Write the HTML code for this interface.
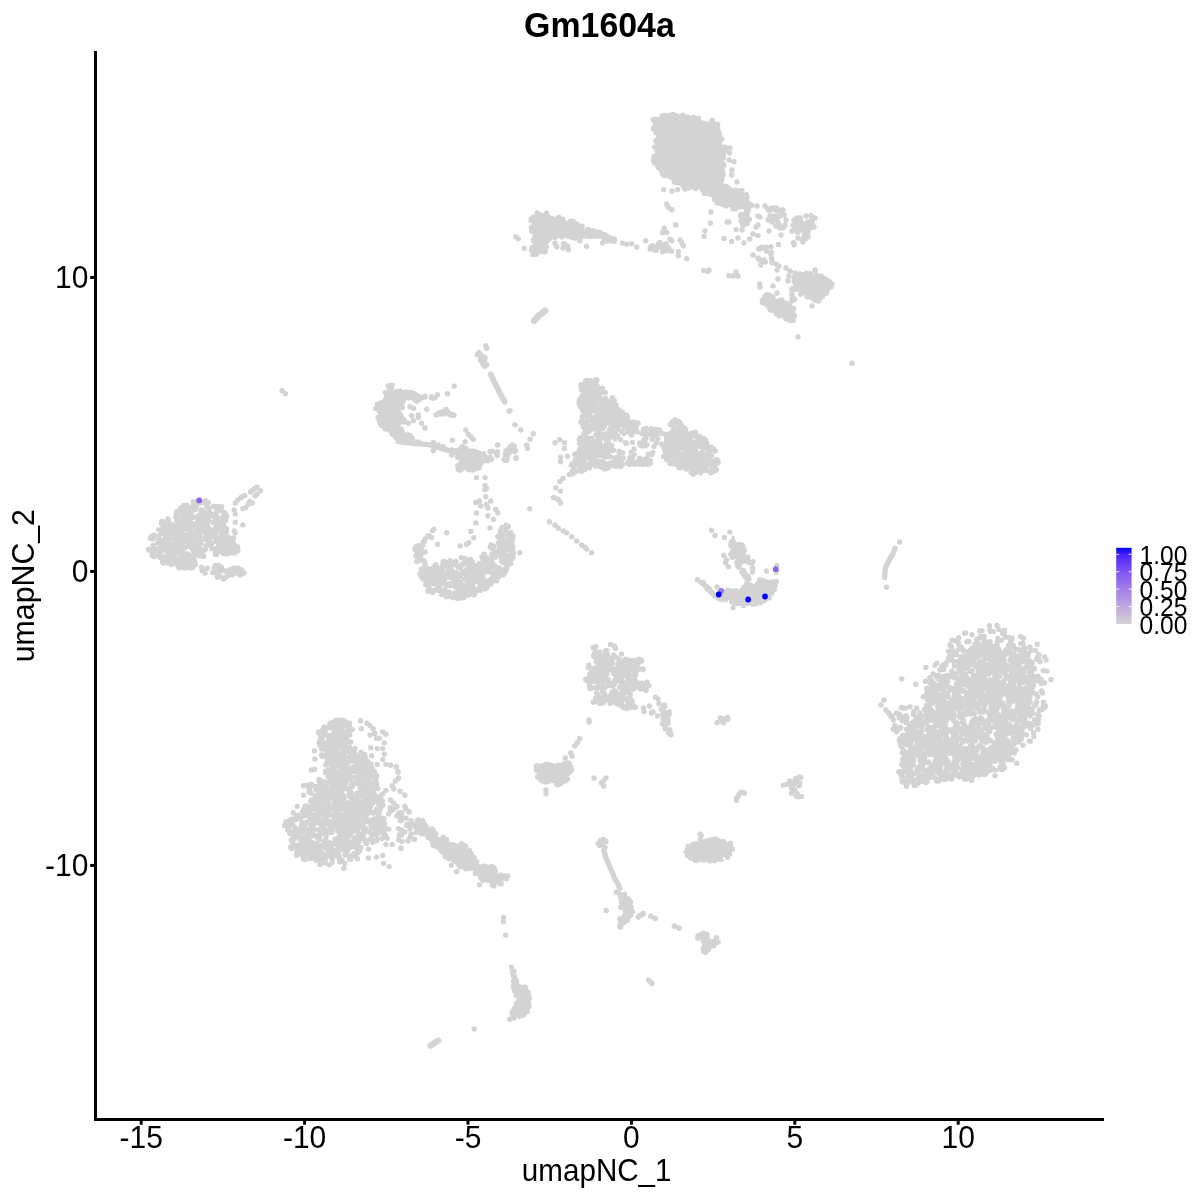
<!DOCTYPE html>
<html><head><meta charset="utf-8"><title>Gm1604a</title><style>
html,body{margin:0;padding:0;background:#fff;}
svg{display:block;}
text{font-family:"Liberation Sans",Arial,Helvetica,sans-serif;fill:#000;}
</style></head><body>
<svg width="1200" height="1200" viewBox="0 0 1200 1200">
<defs><linearGradient id="lg" x1="0" y1="1" x2="0" y2="0"><stop offset="0.0" stop-color="#d3d3d3"/><stop offset="0.1" stop-color="#cac0d9"/><stop offset="0.2" stop-color="#c1aede"/><stop offset="0.3" stop-color="#b69ce3"/><stop offset="0.4" stop-color="#aa89e7"/><stop offset="0.5" stop-color="#9d77ec"/><stop offset="0.6" stop-color="#8e65f0"/><stop offset="0.7" stop-color="#7c51f4"/><stop offset="0.8" stop-color="#673df8"/><stop offset="0.9" stop-color="#4926fb"/><stop offset="1.0" stop-color="#0000ff"/></linearGradient></defs>
<rect width="1200" height="1200" fill="#fff"/>
<path fill="none" stroke="#d3d3d3" stroke-width="5.4" stroke-linecap="round" d="M632.2 458.9h0M587.3 399.7h0M590.3 389.4h0M614.9 457.9h0M595.8 434.9h0M615.7 435.3h0M687.4 446.4h0M605.2 434.2h0M631.2 452.1h0M591.5 425.8h0M683 434h0M672.6 436.1h0M694.2 470.5h0M639.6 443h0M626.4 443.4h0M593.9 389.3h0M577.6 453.2h0M588.1 402.1h0M627.2 463.3h0M580.8 421.9h0M691.1 462.6h0M610.4 418.6h0M622.4 464.5h0M595.1 400.6h0M603.6 425.4h0M623.9 433.4h0M645.8 438.4h0M703.1 454.3h0M699.4 456.1h0M627.4 417h0M584.3 440h0M600 393.8h0M584 413.5h0M572.6 463.6h0M606.5 411.9h0M581.6 387.9h0M572.3 471.1h0M697.7 446.1h0M607.8 413.8h0M593.7 453.5h0M648.3 454.2h0M696.1 456.9h0M691 450.4h0M602.7 428.6h0M607.5 445.7h0M601.7 400.1h0M598.2 397.9h0M666.3 456.2h0M581.5 442.6h0M704.6 454.5h0M680.8 424.7h0M595.5 455.2h0M618.4 456.4h0M587.8 392.7h0M703.9 456.9h0M590.6 458.9h0M621.1 431.6h0M633.6 463.3h0M606.4 406.6h0M604.7 435.3h0M607.5 418.9h0M588.4 467.1h0M621.6 422.8h0M643.7 430h0M594.5 424.3h0M677.1 432.4h0M617.5 428.7h0M651.7 454.7h0M584.6 432.8h0M605.9 405h0M684.1 427.6h0M652.7 452.4h0M645.3 445.8h0M636.3 430.1h0M673.2 463.8h0M587 421.2h0M579.6 401.4h0M579.7 443.5h0M685.8 465.8h0M591.9 448.1h0M700.6 472.7h0M628.3 425.6h0M716.6 459.5h0M592.9 420.2h0M598 409.1h0M584.4 403.9h0M574.7 454.2h0M654 446.5h0M579.6 469.8h0M663.5 456.4h0M581.3 461.8h0M578.7 462.4h0M585.1 393.7h0M615.4 407.7h0M678.3 431.9h0M597.1 424.4h0M642.7 459.7h0M627.5 427.5h0M620 459.4h0M674.3 440.2h0M579.4 450.5h0M581.4 460.3h0M698.8 443.6h0M610.9 401.6h0M612.6 422.9h0M592.3 421.6h0M615 412.8h0M598.8 427.3h0M582.2 417h0M614.2 400.7h0M656.2 429.7h0M680.9 442.3h0M675.7 464h0M676.9 440.9h0M575.3 459.7h0M702 439.4h0M678.4 457.5h0M589.6 429.2h0M644.1 459.7h0M688.9 458.9h0M670.8 445.8h0M588.7 413.2h0M584.5 459.8h0M652.2 439.4h0M662.3 444.6h0M687.9 451.2h0M643.9 430.3h0M579.9 403.9h0M640.3 444.9h0M683.3 438.3h0M590.8 402.7h0M669.1 445.7h0M714.8 469.6h0M691.2 472.8h0M600.3 434.9h0M590 429.2h0M701.2 446.8h0M603.3 465.9h0M589.8 411.6h0M616 460.2h0M707.1 447.8h0M624.4 416.4h0M622.7 419.8h0M584 459.7h0M606 403.9h0M700.8 457.5h0M678.1 422h0M681.2 441h0M613.3 450.3h0M593.8 393.7h0M597.5 386.7h0M604.5 403.2h0M630.6 429.2h0M644 439.6h0M609.3 402.2h0M628.5 421.6h0M711.2 461.1h0M692.1 461.7h0M585.1 393h0M646.8 444.7h0M709.4 448.6h0M665.5 452.8h0M637.1 431.9h0M574.7 454.5h0M603.5 468h0M587.9 402.5h0M663.8 446.3h0M585.5 384.7h0M647.1 435h0M613.8 423h0M603.9 402.1h0M643.2 444h0M619.3 419.1h0M687.8 450.3h0M601.9 452.4h0M602.1 418.7h0M590.7 416.4h0M590 382.9h0M702.9 464.5h0M610.6 412.3h0M622 458.4h0M597.6 413.6h0M630.1 457.4h0M680.4 465.9h0M607.9 448.1h0M616.1 404.9h0M705.6 440h0M603.7 424.4h0M711.6 471.4h0M633 426.2h0M688.6 450.2h0M691.6 453.6h0M616.5 413.3h0M598.3 451.7h0M583.2 426.7h0M674.8 421.7h0M603.8 418.7h0M661.4 443.9h0M680.5 460.9h0M605.7 401.9h0M591.7 464.5h0M689.5 441.9h0M639.7 458.2h0M694.3 467.5h0M586.6 396.4h0M607.6 454.1h0M657.8 438.6h0M601.3 414h0M589.9 397.8h0M606.9 436.6h0M627.8 431.8h0M593.2 446h0M615.4 433.4h0M622.1 418.7h0M632.1 458.3h0M629.5 464.4h0M582.1 438.8h0M624.2 427.3h0M590.6 405.6h0M585 425.9h0M598.3 390.3h0M703.8 438.7h0M629.2 460.8h0M601.4 417h0M587.2 402.1h0M658.3 431.8h0M631.5 435h0M632.4 442.4h0M682.8 454.3h0M588 420.1h0M582.5 421.2h0M678.3 454.1h0M678.1 457.8h0M686.5 469.1h0M599.9 403.6h0M594 454.8h0M586 429.9h0M622.6 452.8h0M656.3 442.9h0M588.5 400.1h0M584.7 412.9h0M602.3 435.1h0M605.2 392.5h0M583.1 440.4h0M698.9 454.5h0M708.7 449.8h0M605.9 466.4h0M577.5 454.2h0M598.6 437.5h0M644.5 440.7h0M615 407.3h0M576 465h0M685.7 448h0M680.1 423.5h0M679.5 422.2h0M602.5 388.2h0M618.9 451.3h0M672.6 460.7h0M608.4 440.8h0M607.7 401h0M604.5 466.8h0M663 445.8h0M638.9 460.2h0M673 461.9h0M634.1 448.9h0M600.4 438.9h0M580.4 467.1h0M590.4 380.5h0M584.7 468.9h0M672.2 440h0M672.9 450.1h0M623.1 458h0M691.2 465.2h0M578.6 462.9h0M705.3 470.4h0M584.8 398h0M585.5 381.2h0M695.4 457.5h0M583.7 387.4h0M616.5 419.4h0M611 448h0M944.4 676h0M1045.5 706.1h0M1026.4 724.9h0M956 750.3h0M940.8 739h0M973.2 658.9h0M1021.1 651.4h0M965.4 754.2h0M940.9 759.9h0M926.2 778.3h0M1000.7 705.2h0M900.7 727.9h0M1000.3 752.5h0M988.5 681.8h0M950.1 688.2h0M1034.9 705.6h0M946.3 768.5h0M972.2 747.2h0M1009.7 729.5h0M941.1 677h0M908.4 761.8h0M994.3 745.2h0M1013.2 718.4h0M1032.1 662.4h0M1001.3 761.9h0M970.6 649.8h0M1006.4 694.8h0M915.3 728.1h0M949.7 753.2h0M999.6 705.5h0M989.3 699.4h0M906.1 722.5h0M950.7 745h0M1036 694h0M979.4 746.3h0M953.4 660.9h0M1004.5 767.8h0M1013.3 738.3h0M1026.6 734.9h0M990.8 697.9h0M935.1 726.5h0M1014.7 740.4h0M988.8 664.4h0M953.9 698.1h0M987.4 690.6h0M913.1 730.8h0M1014 687.2h0M888.5 712.6h0M909.3 751.7h0M1041.6 708.6h0M899.2 717.7h0M973.8 741.1h0M968.9 728.3h0M1022.6 709h0M951.6 779h0M917.6 735.7h0M948.6 748.6h0M928.5 689h0M953.3 738h0M941.7 666.9h0M920.1 745.1h0M1041.4 709.9h0M919.1 754.9h0M948.5 658.2h0M903.9 750.8h0M1019.3 727.5h0M961.6 715.6h0M920.3 781.6h0M941.9 728.2h0M961.4 671.7h0M975 643.9h0M1023.4 681.6h0M1026.3 667.3h0M945.8 665h0M954.3 653.9h0M933.2 702.1h0M954.7 728h0M993.8 682.9h0M905.8 759.8h0M989.4 625.8h0M993.3 664.4h0M921.6 750.8h0M910.5 769.6h0M985.2 751.6h0M995.4 770.1h0M915.5 737.1h0M972 745.2h0M956.4 768.3h0M976.2 666.8h0M965.6 633h0M961.2 647.1h0M965.4 705.1h0M973.5 765h0M961.4 715.7h0M994.9 761.3h0M945.6 692.1h0M990.1 727.8h0M968.6 702.9h0M1003.8 726h0M939.4 764.8h0M944.1 701.3h0M971.2 749.9h0M953.7 714.3h0M1022.2 671.5h0M1022.4 689.6h0M967.5 668h0M993 753.4h0M938.1 675.4h0M932.8 719.6h0M989.7 752.1h0M1032.2 712.9h0M1038.3 723.3h0M993.6 752.9h0M1036.3 723.8h0M986.6 726.3h0M1000.1 721.3h0M997.5 658.3h0M995.1 698.5h0M1011.4 640h0M993.2 683.9h0M977.4 665.7h0M933.2 692.6h0M936 694.1h0M891.3 716.5h0M1019.5 717.8h0M1037.8 696.7h0M952 640.1h0M991.3 658.2h0M902.7 782h0M1004 663.2h0M1006.4 654.1h0M1003 763.8h0M1005.8 637.2h0M988.6 739.8h0M960.1 776.4h0M925.1 781.7h0M1020.6 636.5h0M934.8 743.1h0M910.2 764.7h0M964.5 633.2h0M944.4 717.8h0M956.4 734.5h0M906.6 754.3h0M943.6 729.2h0M988.8 692h0M947.4 752.4h0M978.2 671.4h0M1001.3 759.2h0M938.3 722.8h0M984 674h0M954.7 769.1h0M945.9 735.8h0M984.1 770.5h0M1019 669.9h0M953.7 719.7h0M979 668.3h0M975.9 754.3h0M916 746.5h0M1040 661.8h0M985 734.6h0M960.9 657.3h0M925.2 746.7h0M1016.3 698.8h0M1013 661.6h0M980.3 770.6h0M1032.1 709h0M962.9 720.1h0M912.7 738.4h0M943.6 716h0M950.3 708.3h0M900 727.2h0M1015.6 649h0M983.3 680h0M1028.9 703.2h0M978.2 666.3h0M1014.2 693.3h0M976.6 766.3h0M983.5 688.6h0M902.4 780.8h0M925.6 716h0M995.6 687.9h0M958.1 649.6h0M925.4 681.2h0M1015.4 739.8h0M996.8 672.4h0M982.3 747.8h0M963.7 651.1h0M997 625.5h0M1003.7 655.4h0M919.4 776.7h0M1024.9 726.5h0M958.7 679.2h0M1021.6 701.8h0M988.6 646.8h0M1003.1 714.2h0M906.6 766.3h0M927.2 691h0M1024.4 678.3h0M936 771.6h0M995.4 658h0M963 670.4h0M1005.2 671.6h0M1018.9 679.3h0M1023.2 709.8h0M1036.7 659.2h0M978.9 646.1h0M912.6 749.8h0M1002.7 655.7h0M985.2 704.7h0M985.9 739.5h0M1019.7 719.1h0M1006.3 690.4h0M1004.4 632.5h0M1019.5 678.4h0M1036.4 701.6h0M1029.9 667.1h0M913.6 759.9h0M945 721h0M957.6 708h0M902.5 740.7h0M936.5 740.1h0M946.7 746.7h0M1043.8 704.6h0M969.1 710.5h0M1046.1 660.1h0M924.5 757.5h0M1000.6 655.4h0M979.8 709.2h0M1001.2 640.3h0M1029.5 741.1h0M965.7 705.6h0M950.8 645.9h0M982.4 764.7h0M907 717.4h0M1008.6 650.4h0M948 692.4h0M1024.4 709.7h0M949.1 777.9h0M1013.8 679h0M989.3 683.2h0M972 634.8h0M955.5 706.2h0M990.8 667h0M997.1 668.3h0M974 775.1h0M987.4 664.5h0M970.3 694.6h0M1043.3 670.6h0M933.8 729.7h0M902.4 720.9h0M1044.2 707.7h0M927.5 699.9h0M972.6 647.7h0M931.8 690.1h0M896.9 713.1h0M1024.4 723.5h0M978.7 730.1h0M916.1 740h0M960.2 713.3h0M986 700.4h0M947 719.5h0M1028.2 662.5h0M976.4 704h0M932.1 750.1h0M1029.8 695.6h0M956.6 744.1h0M941.8 734.2h0M986.5 762.9h0M1021.3 708.4h0M1007.3 745.4h0M1010.9 701.4h0M1015.2 739.7h0M1037.2 644.3h0M1011.9 719.5h0M979 692h0M985 685.7h0M958.7 698.5h0M1004.7 671.5h0M948.3 714.5h0M947.2 676.2h0M966.7 696.3h0M906.6 717.8h0M980.7 637.8h0M1038.1 676.5h0M1044.6 656.9h0M954.3 772.8h0M977.8 705h0M969.8 708.3h0M998.2 687.3h0M942.7 721h0M941.6 779h0M996.8 709.6h0M950 715.5h0M979.4 767.8h0M956.7 725.9h0M1051 679.7h0M971.9 757.3h0M969 641.5h0M1033.7 736.6h0M1032.7 692.5h0M968.8 706.3h0M988.9 722.4h0M990 630.3h0M951.8 752.7h0M934 736.7h0M1024.9 719.6h0M995.3 655.7h0M966.5 714.2h0M927.1 729.5h0M979.5 690.9h0M1010.8 640.9h0M970.6 758.5h0M986 755.8h0M1012.7 676.4h0M1003.4 681.5h0M898.9 771.7h0M980.8 680.6h0M958.3 686.7h0M956.6 725.2h0M935.4 770.9h0M1020.4 673.2h0M966.1 779.3h0M1003.9 659.7h0M934.5 767h0M964.2 753.5h0M1046.8 671.1h0M977.3 642.2h0M972.5 686.7h0M902.9 758.9h0M994.7 679.4h0M908.5 739.2h0M957.2 760.6h0M1018.5 649.5h0M941.9 742h0M917.3 779.5h0M967.6 660.7h0M958.8 644.9h0M1001.8 666.2h0M1034.6 719.8h0M985.2 658.3h0M969 712.4h0M927.9 750h0M947.3 731.3h0M978.3 674.4h0M912 763.1h0M936.5 732.2h0M900.5 715.6h0M943.3 705.5h0M903.4 741h0M929.9 689.6h0M994.6 681.1h0M952 731.6h0M1000.6 664.2h0M1025.6 681.2h0M988.7 653.2h0M901.6 773.2h0M1006.5 740.3h0M933.4 685.9h0M990.3 652.9h0M1024.4 717h0M1003.6 665.2h0M955.8 735.7h0M1026.9 723.1h0M917.7 773.5h0M1009.1 637.5h0M999.8 688h0M1008.8 759.4h0M1042.5 693h0M1007.3 759.6h0M988.5 697.7h0M954.7 707.4h0M1001.2 755.6h0M926.3 713.1h0M974.3 664.4h0M951.8 656.4h0M1001.9 733.4h0M969.4 696.4h0M1040.7 681.1h0M932.8 768.6h0M906.1 715.8h0M938.6 757.2h0M975 748.2h0M910.7 732.8h0M983.6 699.1h0M1012 759.8h0M915.4 738.5h0M958 641.9h0M937 700.3h0M955.7 654.5h0M1038 729.2h0M992.7 664.7h0M1024.4 672h0M913.5 728.1h0M910.6 752.2h0M1022.9 745.2h0M1022 675.9h0M944.5 713.8h0M944.6 759.8h0M978.2 726.5h0M1021.1 739.2h0M965.9 705.4h0M980.6 636.6h0M998.7 650.2h0M956.6 654.7h0M1015.5 693.2h0M930.1 732h0M969.3 692.5h0M939.5 695.4h0M995 759h0M1035.3 650.4h0M932.2 696.1h0M977.6 680.5h0M936.9 699h0M996.7 723.4h0M932.4 717.1h0M1043.6 702.3h0M991.8 672.5h0M940.3 768.7h0M997.1 696.8h0M896.5 731.8h0M945.1 718.7h0M952.6 710.4h0M977.8 688.4h0M1033 713.3h0M972 664.7h0M965 714.3h0M920.4 717.4h0M901.2 707.6h0M981.8 636.6h0M956.6 765.1h0M975.4 740.7h0M1010.4 642.2h0M948.5 651.5h0M1013.5 645.8h0M1002 693.3h0M1032.7 725.3h0M1029.9 715.8h0M910.5 745.7h0M939.9 748.7h0M997.4 758.9h0M1004.4 630.5h0M984.4 639.7h0M975.1 755.2h0M901.2 775.3h0M996.5 665.2h0M1024.2 718.8h0M913.4 714.4h0M931.2 736.2h0M1030.5 711.8h0M999 756h0M967.1 766.7h0M912.9 757.7h0M997.3 687.8h0M962.7 649.4h0M1025.4 688h0M1030.1 723.6h0M918.7 770.1h0M982 630.6h0M961.4 718.1h0M947.8 681.4h0M995.8 668.1h0M928.4 705.4h0M926.5 716.8h0M971.6 780.4h0M977.1 749.9h0M989.4 727.5h0M943.6 669.6h0M933.6 748.7h0M1007.5 706.9h0M989.8 680.9h0M975.4 690h0M963.7 683.7h0M958.9 696.5h0M978.5 673h0M933.2 674h0M1005.3 713.9h0M1041 679.3h0M1038.3 719.1h0M942.6 750.5h0M954.7 765.9h0M1034.5 668.7h0M1001.5 659.2h0M949.8 656.3h0M984.3 765.2h0M991.9 655.7h0M984 636.4h0M913.9 711.5h0M1030.5 728.4h0M1038.6 658.2h0M937.4 746.4h0M992.1 689.9h0M997.2 678.8h0M938.8 704.5h0M983.4 665.6h0M1039 716h0M986.2 742.2h0M1012.1 638.1h0M1020.1 692.8h0M973.4 720h0M976.1 731.3h0M984 677.7h0M1007.7 665.7h0M1002.7 748.7h0M1013.6 674.1h0M958.9 669.1h0M970.8 777.8h0M962.7 730.9h0M1013.3 682.9h0M1010.3 638.1h0M976.2 653.2h0M1041.4 683.4h0M1014 663.2h0M989.9 679.9h0M1017.8 698.9h0M936.9 771.7h0M900.3 743.8h0M893.1 729.3h0M950.2 765.2h0M892.2 716h0M951.5 774.2h0M926.5 694.6h0M1010.8 728.9h0M918.8 716.9h0M908.6 765h0M1029.5 667.3h0M1009.5 758.4h0M929.9 677.8h0M964.4 769.6h0M909.4 735.4h0M983.4 697.7h0M980.3 768.3h0M917.6 768.4h0M943.1 751.4h0M1028.5 653.3h0M907.6 744.2h0M997.8 638.2h0M939.6 774.1h0M1003.5 768.1h0M921.8 753.4h0M999 629.6h0M967.6 661.4h0M955 640.6h0M935.7 767.6h0M912.4 735.9h0M907.1 744.5h0M966.9 641.8h0M942 704.8h0M1037.8 680.7h0M918.5 782.2h0M951.2 714.7h0M998.7 730.6h0M974.3 713.5h0M1030.3 741.2h0M949.7 675.6h0M947.7 686.6h0M951.6 646.9h0M925.2 723.7h0M946 662.9h0M999.8 676.6h0M991.6 713.5h0M1026.8 707.1h0M921.8 726.7h0M1008.1 685.6h0M1002.8 688h0M971.3 724h0M996.9 676.3h0M988.7 712.5h0M919.9 723.9h0M926.9 772.5h0M962.3 741.8h0M970.6 701.6h0M1039.3 710.2h0M970.9 710h0M1020 662.6h0M911.2 758.3h0M960.1 728.5h0M946.7 760h0M1020.7 643.6h0M1018.3 709h0M958.8 637.8h0M999.9 697.1h0M963.1 754.4h0M1010.7 648h0M997.4 683.6h0M970.3 662.4h0M944.9 679.2h0M916.1 717h0M1003.8 668.5h0M937 663.1h0M1023.5 638.4h0M989.9 764.3h0M1016.4 724.8h0M957.1 683.6h0M1002.9 671.8h0M951.2 729.8h0M1019.5 681.2h0M947.4 718.4h0M1038.9 654.8h0M945.2 732.6h0M1010.3 685.7h0M971.2 704.9h0M960.5 699.2h0M1024.4 691.5h0M962.3 769.5h0M956.6 704h0M968.8 758.7h0M995.7 744.9h0M997.3 714.3h0M1012.5 749.7h0M1009.8 716h0M1002.6 702.6h0M952.9 719.2h0M1029.9 647.3h0M938.7 708.4h0M935.1 665.2h0M1027.7 714.6h0M968.7 692.4h0M1027.3 665.6h0M973.1 684.7h0M960.8 703.6h0M981 683.4h0M1018 656.3h0M1038 714.7h0M972.4 690.5h0M977.8 676.5h0M928.4 754h0M931.5 740h0M1018.1 720.6h0M959.1 776.8h0M957.5 767.5h0M990.4 631.4h0M983.2 653h0M1038.5 715.5h0M1017.8 705.2h0M996.3 734.2h0M1024.2 647.3h0M1037.7 657.3h0M952.4 731.5h0M925.7 772.1h0M998.4 648.8h0M980.7 675.7h0M977.1 648.7h0M1036.7 676.6h0M1024.7 648.3h0M946.5 728.6h0M919.9 713h0M1005.5 693.9h0M997.2 642.2h0M1022.5 643.4h0M1041.4 709.8h0M931.3 680.5h0M1009.3 704.9h0M964.2 765.2h0M983.4 712.1h0M928 770h0M1025.4 660.7h0M940.4 778.4h0M993.4 631.6h0M938.5 697.2h0M924 745.2h0M912.4 752.7h0M976.9 639.1h0M975.6 752.7h0M983 699.1h0M898.5 729.5h0M904.4 718.2h0M941.9 684.9h0M994.5 650.3h0M910.8 777.9h0M938.3 761.6h0M1030.2 702.2h0M966.2 711.4h0M968 683.6h0M922.7 766.4h0M967.1 769.6h0M964.9 753.2h0M978.8 736.5h0M920.9 746.5h0M969.9 671.3h0M980.1 661.8h0M983 752.1h0M1002.6 633.6h0M923.7 721.7h0M986.9 736.9h0M1020.2 679.5h0M1019.5 699.2h0M1041.5 691h0M923.5 743.8h0M997.2 648.2h0M963.4 705h0M1009.5 727.8h0M915.8 726h0M1008.5 645.5h0M982.2 694.8h0M1029.7 672.5h0M924.8 761h0M959.7 662.2h0M965.6 772.4h0M998.3 740h0M948.5 752h0M1016.6 735.5h0M992.7 760.6h0M939.6 721h0M1019.8 692.1h0M984.6 698.5h0M942 762h0M987.1 671.3h0M1000.9 695.9h0M994.1 755.9h0M902.5 735.5h0M1044.5 682.9h0M920 769.4h0M985.5 770.1h0M948.9 705.4h0M1044.1 706.6h0M1022.9 650h0M911.8 778.5h0M959.1 756.2h0M899.1 714.1h0M1028.3 707.7h0M945.9 775.8h0M1033.6 732.7h0M894.9 725.8h0M943.4 731.9h0M989.2 685.1h0M970.6 734.4h0M1035.9 705.1h0M998 714.9h0M958 746.7h0M906.5 719.8h0M979.8 631h0M948.5 746h0M990.8 669.5h0M1011.3 671.2h0M974.3 692.4h0M1018.5 734.4h0M1002.4 736.8h0M979.6 758.9h0M1016.6 680.4h0M905.7 708.1h0M1030.8 650h0M1007.2 651.4h0M932.5 686.2h0M393.1 809.6h0M398.1 814.9h0M390.2 807.6h0M400.8 812.7h0M402.9 831.3h0M409.9 828.9h0M407 824.5h0M399.7 834.6h0M405.9 808.7h0M399.3 835.6h0M396 806.9h0M414.2 824.8h0M401.5 830.1h0M390.3 809.5h0M410.2 836.7h0M409.8 825.4h0M421.2 827.4h0M398.9 813h0M406 818.3h0M411.1 834h0M391.1 810.8h0M388.6 813.9h0M404.8 831.9h0M411 820.7h0M401.2 820.5h0M731.3 195.1h0M742.4 201h0M726.7 193.5h0M717.2 199h0M722.7 173.3h0M679.4 120.7h0M712.6 193.8h0M679.2 134.8h0M674.2 123.3h0M665.6 140.8h0M657.6 157.2h0M707.7 192.2h0M662.8 135.9h0M715.2 147h0M685.1 169.1h0M654.5 162.9h0M694.5 120.3h0M715.3 184.2h0M710.7 152.8h0M703.4 171h0M699.9 127.1h0M697.5 180.1h0M723.2 158.1h0M686.1 132.5h0M692.3 141.5h0M703.8 156.5h0M671.5 139.8h0M708.2 181.9h0M747.5 203h0M657.9 134.1h0M678.3 148.5h0M668.1 175.2h0M656.1 131.1h0M661.9 124.5h0M664.6 124.7h0M708.6 163.2h0M672.8 138.5h0M725.6 151.3h0M733.7 195.4h0M665.1 115.4h0M673.2 170.7h0M735.5 190.1h0M698.5 118.4h0M658.8 145.4h0M714.7 199.7h0M700.6 175.9h0M672.4 137.7h0M662.1 171.3h0M664.4 133.5h0M697.7 170.7h0M715.9 182.5h0M696 120.7h0M699.2 152.8h0M719.6 183.1h0M675.8 176.9h0M721.6 159.7h0M712.2 120.3h0M674.7 152.1h0M731.3 193.7h0M715.7 185.8h0M655.5 123.3h0M655.4 118.9h0M673.8 179.1h0M667.1 116h0M668.1 163.6h0M741.5 202.7h0M707.8 193.5h0M702.4 174h0M711.7 191.4h0M659.4 119.4h0M706.7 142.3h0M735.5 192.6h0M697.9 126h0M717.3 134.2h0M695 124.9h0M687.2 123.3h0M725.4 196.2h0M688.8 143.4h0M659.2 125.2h0M721.6 172h0M704.2 158.2h0M692.8 173.2h0M717.2 202.7h0M725.7 191.1h0M743.9 195h0M720.4 196.3h0M696.3 182.4h0M677.1 143.2h0M686.8 145.5h0M661.2 157h0M676.8 154h0M741.2 203.1h0M729.9 200.1h0M683.3 174.7h0M688.7 166.1h0M705.3 177h0M660.7 134.7h0M669.4 156.5h0M721 180.9h0M727 186.9h0M676.7 139h0M672.7 139.3h0M711.4 177.5h0M712 181.3h0M682.3 120.4h0M688.1 127.9h0M663 161.9h0M669.6 123.9h0M682.2 153.7h0M721.3 157.2h0M738 191.7h0M719.4 141h0M718.2 170.9h0M718.4 131.6h0M666.1 123.6h0M717.5 169.2h0M674.2 120.5h0M688.4 184h0M677 149.6h0M704.5 125h0M680.4 151h0M671.2 135.3h0M690.4 149.5h0M716.4 159.8h0M718.7 195h0M675.3 117h0M695.9 125.4h0M698.1 182.9h0M661.1 125.6h0M700.1 131h0M674.9 156.7h0M663.6 120.8h0M688.1 159.5h0M658.8 135.7h0M739.6 207.1h0M675.8 130.7h0M660 139.8h0M697.4 144.9h0M672.4 178.2h0M688.1 125.8h0M669.8 115.3h0M717.6 163.9h0M654.1 159.6h0M675.3 162.4h0M712.7 177.1h0M674.5 171.9h0M673.5 117.7h0M696 127.8h0M692.2 179.8h0M675.2 160.3h0M714.4 135.1h0M684.1 153.5h0M686.3 178.8h0M677.7 158.1h0M708.4 182.9h0M665.5 137.4h0M666.7 127.4h0M704.4 170.3h0M675.3 130.4h0M710.8 157.9h0M718.5 197.3h0M662.1 115.9h0M680.9 142.1h0M694.1 165.3h0M737.4 192.1h0M717.7 163.7h0M663.4 137.7h0M718.1 170.8h0M732.6 201h0M709.3 131.7h0M721.6 138.9h0M675.5 149.6h0M704.6 179.6h0M714.7 159.7h0M719.5 191.4h0M720.1 182.7h0M717.1 131.6h0M675.1 155.8h0M725.9 148.9h0M718.7 188.2h0M664.5 135.7h0M673.3 139.9h0M655.2 127.3h0M692.7 154.8h0M687.6 182.2h0M695.8 131.1h0M729.1 194.9h0M716.5 175.5h0M682 138.9h0M737.5 198.7h0M711.1 133.3h0M678.4 182.9h0M685.5 164.6h0M684 154.5h0M700 139.2h0M657.2 122.3h0M668 123h0M714.7 181.5h0M725.3 147.2h0M701.3 132.4h0M656.8 129.1h0M721.6 151.4h0M732.2 191.6h0M661.1 170.8h0M732.9 190.6h0M675 123.2h0M718.7 168.8h0M665.6 132.8h0M710.5 124.6h0M715.7 137.5h0M677.7 155.1h0M705.5 184.1h0M673.9 142.3h0M716.3 180.9h0M672.3 144.2h0M718.6 139.4h0M667.5 136.1h0M729.6 194h0M683.5 183.8h0M660.6 118.9h0M703.5 128.8h0M745.8 198.9h0M698.3 133.3h0M663.7 163.1h0M704.3 149.2h0M724 165.3h0M658.7 151.6h0M700.5 138.6h0M719.2 135.6h0M683.8 160.2h0M723.6 188.6h0M689.2 157.3h0M745.4 204.4h0M714.1 124.3h0M697.7 175.7h0M679.8 117.8h0M664.6 159.2h0M714.2 143.2h0M660.3 152.2h0M656.8 142h0M662.4 121h0M668.2 165.6h0M694.6 146.8h0M664.1 137.6h0M741.7 201.5h0M712.7 142.1h0M698.6 183.3h0M685.9 138.1h0M677.4 159.5h0M686.1 132.3h0M737.4 193.3h0M678.5 149.5h0M689.5 148.3h0M689.8 124.8h0M693.1 175.6h0M725.2 187.1h0M717.9 151h0M706.1 146.7h0M736.9 196.1h0M720 177.2h0M707 158.2h0M730.7 198.2h0M673.2 147.1h0M676.8 123.9h0M684.7 116.7h0M658.7 120.7h0M698.3 153h0M732.7 206.3h0M682.9 175.3h0M709.5 124.4h0M711 194.3h0M704 160.9h0M718.9 134.3h0M688.2 149.3h0M695.3 183.5h0M695 123.1h0M704.5 193.4h0M695.4 150.9h0M723.4 204h0M672 143.3h0M684.9 184.9h0M670.5 167h0M702.2 178.7h0M728.4 198.1h0M672.6 116.5h0M742.6 206.4h0M708.2 128.1h0M715.4 191.8h0M694.4 172.3h0M677.8 140.8h0M694.1 163.8h0M698.9 123.1h0M724.1 186.5h0M675.6 138.9h0M703.8 131.1h0M672 170.7h0M724.5 186.5h0M660.3 120.9h0M666 158.6h0M676.4 133.4h0M667.9 153.8h0M714.1 143.5h0M668 135.3h0M660.2 132.8h0M683.5 162.9h0M670.2 160.5h0M699.3 133.3h0M711.4 128.2h0M668.7 121.3h0M692.4 148.4h0M694.6 148.2h0M721.4 152h0M687.4 175h0M695.3 143h0M707.6 178.2h0M725.9 205.9h0M666.3 149.5h0M737.7 190.6h0M711.2 179.6h0M707.1 153.1h0M670 125.3h0M700.1 162.1h0M687 165.6h0M699.8 146.3h0M690.7 173h0M689.1 151.6h0M706.1 140.8h0M666.4 136.2h0M657.4 139.7h0M743.6 205.6h0M695.5 132.8h0M727.2 197.1h0M690.6 123.2h0M655.5 119.6h0M664.2 116.3h0M723.2 175h0M663 129.8h0M669.9 173h0M695.5 151.9h0M677.2 136.7h0M669.8 128.9h0M687.1 185.4h0M657.6 165.4h0M709.8 157.8h0M685.7 152.4h0M747 197.2h0M666 131.1h0M690.3 180.9h0M693.5 178.8h0M709.2 184.5h0M748.2 203.9h0M713.8 144.7h0M689.7 140.2h0M731.3 193.5h0M683.8 187.3h0M678.1 173.2h0M701 140.8h0M710.9 155.5h0M679.6 125.2h0M661.5 161.9h0M717.7 141h0M746.9 210.5h0M694.7 169.4h0M699.4 125.7h0M716 150.6h0M655 160.3h0M698.6 159.5h0M670.3 127.4h0M670.4 162.5h0M685.6 130h0M715.4 165.7h0M748.8 203.3h0M707.6 153.3h0M668.6 127.4h0M699.1 161.8h0M678.7 149.7h0M707.6 187.8h0M711.2 129.9h0M748.6 209h0M665.8 170.4h0M706.9 144.5h0M664.1 141.6h0M715.2 168.6h0M715.7 166.7h0M688 172.6h0M707.5 134.1h0M702.9 125.6h0M720.8 203.7h0M656.6 155.4h0M711.2 193.8h0M703.7 145.4h0M735.5 208.9h0M678.9 128.5h0M688.4 178.1h0M748 210.2h0M717.7 129.8h0M677.4 127.9h0M667.6 128.6h0M711.1 191.5h0M667.8 162.7h0M709.7 168.3h0M693.3 166.7h0M653.1 119.8h0M694.3 137.1h0M661 160.3h0M690.8 146.6h0M719.3 194.8h0M697.4 162.8h0M669.9 120.9h0M659.9 146.2h0M694.4 144h0M676.3 129.1h0M682.5 145.5h0M694.9 130.2h0M656.2 126h0M667.4 174.6h0M657.5 163.1h0M685.5 124.1h0M703.2 130.4h0M719.3 156h0M674.1 152.7h0M671.7 122.7h0M685.5 139.9h0M719.4 135.7h0M692.1 180.7h0M695.1 129.2h0M658.7 166.6h0M661.7 162.7h0M701 132.9h0M719.3 162.1h0M699.5 127.8h0M700.5 126.5h0M720.9 181.5h0M684.2 119.4h0M710.5 184h0M686.8 181.3h0M688.7 183h0M690.1 179h0M671.5 164.3h0M700.4 146.8h0M689.4 163.5h0M711 135.7h0M679.6 162.8h0M702.5 154.6h0M718.7 132.1h0M705.4 140.8h0M703.2 150.4h0M681 153h0M723.2 193.2h0M700.4 184.8h0M673.1 157.8h0M687.8 143.8h0M687.9 187.1h0M717.8 179.5h0M715.8 181.2h0M679.2 120.1h0M688.1 117.3h0M685.7 124.7h0M700.9 149.9h0M678.9 161.2h0M723.6 200.7h0M737.4 198h0M696 154.9h0M670.1 129.4h0M737.7 200.2h0M694.8 132.8h0M696 152.6h0M711.8 138.8h0M689.2 187.7h0M685.3 179.8h0M714.7 132.4h0M713.4 142.6h0M710.8 169.7h0M684.1 117.7h0M684.5 176.4h0M712.4 163.4h0M664 134.7h0M683.1 154.4h0M676.2 170.9h0M689.7 117.9h0M732.1 192.5h0M657.1 150.9h0M674.6 174.5h0M730.2 195.5h0M707 151.6h0M660.8 158.8h0M673.1 114.4h0M661.1 123h0M688.9 156h0M702.9 142.1h0M722.6 164h0M703.2 161.9h0M687.8 146.6h0M713.7 168.6h0M680.3 122.4h0M705.4 145.8h0M685.8 154.5h0M692.2 129.8h0M718.6 178.4h0M696.7 153.4h0M689.5 185h0M719.9 162.2h0M699.3 133.3h0M669.1 176.5h0M721.7 139.2h0M716.8 127.3h0M713.6 130.8h0M703.1 144.5h0M707.3 127.1h0M700.5 173.7h0M665.2 144h0M720.2 166.9h0M713.9 189.5h0M709.4 135.7h0M708.9 186.9h0M688.4 157.5h0M717.6 124.5h0M746 208.1h0M721.2 165.6h0M658.3 121.2h0M714.7 125.9h0M667.7 142.4h0M743.1 198.2h0M707.4 173.3h0M722.3 159h0M721.9 152.4h0M674.3 135.2h0M703.1 162.6h0M726.9 198.8h0M687.7 134.5h0M686.7 184.9h0M718.1 153.4h0M704.6 129.1h0M702.8 190.2h0M661.1 140.8h0M715.9 160.8h0M689.7 170.1h0M673.6 156.4h0M707.4 172.3h0M714.9 126.3h0M720.2 192.9h0M695.7 179.2h0M661.8 154h0M703.1 128.6h0M690.8 128.6h0M670.1 170h0M670.8 160.1h0M706 156.7h0M671.7 117.9h0M706 135.2h0M709.5 176.8h0M689.2 160.5h0M707.3 185h0M676.7 122.3h0M677.1 122.5h0M701.1 138.4h0M681.9 158.8h0M674.2 115h0M684.9 124.6h0M722.1 189.5h0M691.3 144.4h0M703.4 156.8h0M695.8 188.4h0M669.6 153.4h0M718.4 168.2h0M698.2 169.7h0M676.4 168h0M715 175.2h0M664.8 143.2h0M672.3 176.2h0M718 177.7h0M653.8 156.8h0M684.5 171.9h0M685.6 126.6h0M719.4 141.9h0M706.8 192.2h0M688.9 131.5h0M691.5 162.6h0M693.5 126h0M704.4 143.2h0M695.6 136.2h0M716.9 194.6h0M691.3 187.1h0M679.8 124.8h0M655.9 157.5h0M696.1 187.9h0M679.5 128.9h0M704.1 155.3h0M746.5 200.8h0M675.7 168.4h0M693.7 117.5h0M682.2 170.8h0M682.1 183.3h0M664.4 159.9h0M653.2 128.8h0M674.1 122.1h0M660.8 133h0M703.9 127.4h0M677.1 137.5h0M661.8 120.4h0M721.7 170.9h0M701.8 132.2h0M695.8 141.4h0M710.8 143.1h0M679.4 176.2h0M701.7 136.3h0M663.2 163.3h0M702.5 183.7h0M689.4 154h0M751.7 205.3h0M713.5 133.9h0M669.3 139.2h0M713.9 132.9h0M698.4 183.1h0M662.2 160.1h0M717.3 180.6h0M656 132.7h0M694.5 150.4h0M722 185.7h0M717.3 153h0M709.2 164h0M746.5 194.7h0M683.2 149.8h0M732.4 195.6h0M668.8 129.2h0M709 134.7h0M685.6 124.1h0M682.2 140h0M695.6 150.9h0M677.2 116.5h0M710.4 162.9h0M676.5 141.9h0M707.2 192.7h0M667.2 166.3h0M678.5 152.7h0M709.5 189.4h0M715.1 172.1h0M708.9 145.7h0M661.9 146.4h0M723 204.1h0M716.9 178.2h0M696.6 158.8h0M662.7 174h0M720.7 200.4h0M664.5 127.3h0M701.4 146.5h0M747.6 210.4h0M715.5 130.9h0M659.3 157.9h0M653.4 160.6h0M675.6 143.6h0M701.3 152.3h0M716.9 163h0M684.3 172.8h0M661.1 119.6h0M690.4 139.5h0M706.4 150.5h0M701.3 153.2h0M663.3 172h0M735.1 200.6h0M676.6 169.9h0M689.9 142.8h0M685.1 166.6h0M698.1 167.5h0M714.6 160.4h0M715.7 165.7h0M717.1 191.5h0M675.7 151h0M674.5 182.2h0M705.1 172.7h0M684.5 170.8h0M703.8 151.4h0M669.3 168.1h0M729.8 204.5h0M691.7 167.1h0M684.9 129.2h0M665.1 143.5h0M722.4 170.2h0M702.9 128h0M734.5 193.4h0M729.1 188.8h0M715.7 194.6h0M735.9 203.1h0M683.3 180.2h0M720.8 196.2h0M708.9 140.8h0M677 166.6h0M722.1 179.2h0M661.5 141.4h0M662.4 147.9h0M660 138h0M718.7 198.5h0M693 157.6h0M654.7 147.1h0M723.8 189.9h0M705.3 181.7h0M664.5 151.4h0M681.2 141.4h0M684.5 141.5h0M700.2 150.9h0M744.8 204.9h0M697.1 168.9h0M677.7 124.2h0M702.3 188.4h0M667.4 156h0M664.1 175.7h0M726.4 203.3h0M718.3 143.9h0M703.7 142h0M696.7 159.4h0M743.8 201.7h0M737.3 193.3h0M699 153.9h0M689.5 154.2h0M688.6 124.6h0M658.6 164.3h0M710.6 157.4h0M687.1 154.6h0M711.3 166.6h0M694.6 138.3h0M683.5 161.9h0M708.5 134.2h0M657 129.6h0M705.9 165.7h0M655.9 120.6h0M719.1 180.7h0M658.4 167.6h0M717.7 135.9h0M656 161.2h0M714.8 141.2h0M696.7 136.7h0M670.4 131.7h0M723.9 147.8h0M717.7 152.1h0M708.4 132.6h0M705.4 175.9h0M661.7 146.5h0M675.1 182.2h0M681.8 184h0M687 187.6h0M709.5 192.9h0M706.7 151.7h0M707.2 187.2h0M677.8 178.5h0M696.4 184.9h0M719.2 134.1h0M705.7 171.9h0M683 147.3h0M661.3 147.8h0M666.5 123.5h0M677 163.9h0M708.3 138.8h0M747.6 206.6h0M684.1 133.4h0M682.8 115.5h0M673 125.5h0M688.7 125.7h0M669.8 138.3h0M710.1 157.3h0M682.4 165h0M699.7 146h0M713.1 123.7h0M745.2 199.9h0M675.7 165.9h0M702 178.4h0M671 174.7h0M655.8 140.7h0M663.5 128.6h0M705 131h0M714.6 197.3h0M664.4 135.2h0M712.3 123.9h0M683.7 180.3h0M693.1 186.7h0M682 166.8h0M654.1 161.4h0M720.1 155.2h0M750.1 205.6h0M711.7 192.9h0M679.4 117h0M655.8 127.4h0M672.8 128.3h0M710.5 126.9h0M701.4 161.6h0M666.3 163.7h0M678.5 137.3h0M698.1 176.7h0M703.3 163.7h0M683.3 126.2h0M693.9 117.5h0M725.4 187.4h0M682.1 184.6h0M672.4 167.8h0M711.8 189.1h0M668.6 147.4h0M734.9 191.9h0M672.8 124.5h0M724.8 186.2h0M717.1 189.5h0M703.8 168.5h0M717.9 171h0M701.5 187.3h0M709.5 126.7h0M694.6 154.9h0M695.3 168.4h0M688.2 152h0M694.7 150.1h0M691.6 157.5h0M711.4 149.6h0M675.8 115.7h0M739.9 204.9h0M680.5 159.1h0M684.3 119.8h0M741.8 195h0M676 138.8h0M722.2 191.1h0M699.1 151.6h0M738.9 197h0M663.2 171.5h0M698 128.2h0M718.9 159.9h0M741.7 204.2h0M713.9 123.8h0M711.1 154.8h0M674.7 147.3h0M709.5 145.6h0M712.9 124.9h0M693.1 174.4h0M716.1 147.3h0M655 126.2h0M708.3 130.7h0M682.5 173.9h0M677.3 170.8h0M667.4 139.5h0M668.3 132.8h0M664.9 134.8h0M685.2 152.3h0M699.6 152.5h0M729.9 201.4h0M704.7 180h0M690.1 140.4h0M687.9 181.7h0M698.2 165.1h0M672.5 131.3h0M685.6 180h0M723.4 156h0M658.6 139.3h0M707.2 145.8h0M676.7 142.3h0M679.9 147.6h0M731.5 190.3h0M722.2 199.6h0M717.7 125.2h0M656.1 130.1h0M677.7 165.2h0M695 137.6h0M686.1 118.6h0M717.6 148.6h0M661.8 133.4h0M733 208.7h0M716.6 180h0M680.1 140.5h0M687 132.2h0M676.6 130.1h0M715.2 177.6h0M703.2 131.5h0M669.2 137.5h0M745.1 219.2h0M745.6 222.8h0M749.5 219.1h0M740.9 221h0M742.6 224.6h0M747.1 213.9h0M747.1 223.8h0M743.9 214.6h0M746.8 216.9h0M740.8 214.7h0M743.9 214.2h0M743.7 220.3h0M745.6 218.2h0M743 225.7h0M748 220h0M748.3 220.6h0M740.6 216h0M742.9 218.2h0M745.4 213.8h0M822.5 296h0M809.1 278.2h0M824.5 293.2h0M811 283.6h0M814.1 296.5h0M809.9 283h0M815.9 294.7h0M828.6 283.9h0M822.1 285.3h0M817.3 284.2h0M825.8 282.6h0M801.1 279.6h0M826.1 288.7h0M817.3 289h0M812.4 289.5h0M801.8 278h0M821.4 291.8h0M826 293.2h0M798.6 280.7h0M816.5 295.3h0M803.6 288.7h0M811.9 287.4h0M825.2 292.9h0M808.7 294.3h0M815 296.1h0M821.8 286.6h0M817.6 296.3h0M822.8 287.6h0M809.8 293.8h0M826.6 284.4h0M799.8 277.6h0M800.8 289.8h0M809.3 281.4h0M817.5 286.4h0M808.8 290.7h0M802.5 283.7h0M802.6 285.8h0M805.9 274.9h0M807.6 275.8h0M816.4 282.5h0M821.4 289.6h0M818.8 282.4h0M823.5 293.1h0M822.8 287.1h0M814.2 282.1h0M799.6 287h0M819.4 279.3h0M815 279h0M807.6 294.4h0M810.2 290.6h0M809.6 282.6h0M818.5 296.9h0M800.4 289.1h0M816.6 300.5h0M806.9 274.9h0M817.5 284.1h0M818.1 299.8h0M807.1 296.7h0M810.9 290.2h0M806.4 293.6h0M822.2 283.8h0M803.2 276.4h0M814 296h0M816.6 281.8h0M823.4 292.6h0M827.3 285.4h0M817.5 297.5h0M818 278.2h0M830 286.3h0M804.6 285.5h0M818.6 286h0M822.8 277.8h0M807 296.4h0M824.2 290.6h0M813.1 280.7h0M818.5 301.1h0M805.4 276.3h0M805.9 286.3h0M809.1 287.2h0M803.8 285.3h0M822.3 283.1h0M825.7 279.3h0M801.7 291.4h0M813.8 299.4h0M821.3 284.4h0M802.6 291h0M824.3 287.2h0M814.5 293h0M819.2 285.8h0M804.6 286.9h0M817.2 298.8h0M809.5 280.3h0M819.9 294.5h0M806.8 293.1h0M830.6 286.2h0M820.7 298h0M805.2 283.7h0M808.8 287.3h0M823.9 291.5h0M799.5 286.1h0M820 279.8h0M827.7 285.6h0M831.3 284h0M819.6 289.1h0M807.3 295.6h0M798.4 281.1h0M772.5 310.4h0M788.9 304.6h0M780.2 305.4h0M787.4 312.8h0M767.1 295.2h0M790.7 312.1h0M783.8 302.5h0M773.9 303.5h0M793.2 315.8h0M789.9 315.1h0M791.1 316.2h0M779.9 300.5h0M788.6 315.5h0M788.7 318.8h0M773.3 303.3h0M786.3 308h0M776.4 313.9h0M786.3 317.7h0M787.5 309.4h0M776.2 309.3h0M764.8 296.8h0M772.9 297.5h0M787.3 310.5h0M790.5 310.6h0M770 309.2h0M775.7 301.4h0M768.1 301.2h0M772.6 308.5h0M782 311.1h0M782.3 315h0M766.5 297.2h0M766.7 294.8h0M771.1 304.4h0M771.1 300.7h0M773.3 305.2h0M774.5 302.8h0M787.5 307.3h0M762.3 300.4h0M779.4 309.1h0M766.2 302.7h0M783.4 312.1h0M783.7 310.7h0M791.8 318.2h0M768.1 303.4h0M790.3 316.3h0M771.1 309.4h0M766.9 301.6h0M784.1 311.1h0M770.5 298.1h0M764.8 303.5h0M792.6 311.6h0M765.2 300.1h0M782.5 308.3h0M781.6 310.2h0M770.4 309.8h0M780.4 303.3h0M776.7 308.5h0M791 320.4h0M788.6 308.5h0M786.8 311.1h0M781.7 305.9h0M779 305.6h0M786.4 313.4h0M785.1 307.4h0M778.3 308.3h0M772.8 297h0M768.1 306h0M774.1 307.5h0M780.4 304.5h0M771.8 303.6h0M779.1 315.3h0M769.3 304h0M775.9 304.5h0M784.2 310h0M780.5 309.7h0M535.3 245.1h0M561.1 224h0M552.8 233.5h0M536 230.2h0M599.2 232.8h0M551.6 218.3h0M543.6 250.9h0M542.5 233.2h0M591.4 234.5h0M611.1 238.3h0M533.9 250.8h0M543.7 222.4h0M541.3 234.6h0M579.4 232.3h0M591 235.8h0M562.8 231.8h0M538.6 232.1h0M545.5 224.1h0M593.7 230.6h0M536.1 229.1h0M573.7 235.8h0M538 237.7h0M567.7 226.3h0M539.9 216.3h0M534.1 223.4h0M540.2 247.2h0M594.7 232.8h0M539.7 221.3h0M540.7 239h0M539.1 247.3h0M606.2 236.9h0M595.5 234.8h0M539.3 221.6h0M538.7 222.9h0M597.7 236.2h0M561.1 231.1h0M579.3 226h0M599.7 232.6h0M551.5 234.5h0M595 234.1h0M560 223h0M535.7 240h0M531.7 250.1h0M543.3 228h0M548.2 223.1h0M569.7 234.9h0M553.6 232.5h0M546.5 239.6h0M573.1 233h0M537.1 212.9h0M585.4 234.1h0M533.4 217.2h0M606.9 236.1h0M543.7 243.4h0M537.1 232.4h0M541.9 250.5h0M535 236.6h0M611.1 239.4h0M558 218.3h0M536.1 250.7h0M590.3 232.3h0M553.2 230.5h0M543.1 233.3h0M578.2 234.6h0M590.3 233.7h0M562.4 236.4h0M531.5 227.4h0M607.2 241h0M543.1 250.1h0M600.9 236h0M551.4 230.1h0M571.5 236.1h0M575.3 234h0M551.7 221.6h0M534.1 249.6h0M610.9 240.6h0M562.8 230.7h0M581.6 235.3h0M536.1 252h0M560.7 232.8h0M543.1 245.8h0M590.8 236.2h0M544.9 226.8h0M534.9 226.3h0M536.2 254.3h0M560.3 229h0M602.7 235.6h0M583.5 231.4h0M553.3 235.2h0M542.1 234.4h0M534.7 253.6h0M541.4 251.4h0M533.5 240.8h0M542.1 223.3h0M566.8 230.4h0M564 235h0M545.9 217.5h0M576.5 227.4h0M566.6 225.9h0M575.2 224.2h0M586.8 230.1h0M568.6 236.6h0M539.2 218.2h0M545.3 219.8h0M550.6 219.8h0M541.9 242.3h0M585.7 231.4h0M537.4 228h0M561.5 228.3h0M573.4 222.9h0M547.5 217.4h0M588.3 234.5h0M604.3 239.3h0M582.6 231.2h0M576.4 223.9h0M540 250.7h0M554.7 237.5h0M547.5 240.7h0M577 226.2h0M536.4 233.5h0M547 219.9h0M590.1 233.9h0M539.2 232.9h0M577.2 230.5h0M605 237.7h0M559.3 224.4h0M581.1 236.4h0M546.7 213.1h0M531.5 219h0M614.3 241.3h0M601 233h0M548.1 229.8h0M536 237.7h0M544.5 242.6h0M588 229.4h0M598.1 232h0M585.5 235.9h0M537.9 249.5h0M537.1 251.3h0M548.8 217.6h0M573 235.9h0M569.1 230.1h0M594.6 236h0M537.5 235.8h0M545.3 245.3h0M598.6 233.2h0M558.3 234.7h0M591.7 231.8h0M563.1 230.5h0M548.7 233.3h0M586.2 233.8h0M554.2 236.1h0M535.1 220.8h0M542.7 249.9h0M552.8 234.6h0M544.5 225.4h0M549.5 238.5h0M539.2 235h0M576.5 225.5h0M607.3 238.9h0M545.2 219.9h0M535 230.3h0M553.8 232.6h0M604.2 236.8h0M561.7 232.9h0M544 249.3h0M543.4 225.7h0M532.8 254.6h0M546.8 213.1h0M540.2 227.7h0M536.8 232.8h0M577.9 235.3h0M544.1 226h0M548.4 220.4h0M582.1 226.2h0M602 234.4h0M589.1 229.8h0M541.6 225.1h0M583.6 236.1h0M570.4 233h0M573.2 223.3h0M547.2 222h0M552.6 236.5h0M573.9 233.9h0M607.3 239.6h0M535.8 248.4h0M563.8 234h0M573 221.3h0M588.4 234.5h0M532.4 247.5h0M561.4 231.8h0M538.6 248.7h0M558.7 217.3h0M550.2 232.9h0M556.6 236h0M614.4 239.3h0M556.1 230.5h0M591.4 234.4h0M535 233.1h0M563.5 232.1h0M575.6 238h0M553.1 219.9h0M539.2 249.8h0M535.3 222.8h0M551.3 232.9h0M540.1 226.4h0M537.4 217.1h0M538.4 247.6h0M533.6 254.5h0M537.7 240.7h0M542.1 241.5h0M570.3 221.1h0M534.8 251.4h0M596.2 234.7h0M580.1 233.7h0M594.2 235.6h0M553.3 234.8h0M573 237.8h0M579.1 232.3h0M604.9 234.8h0M539.8 223.2h0M556.4 227.5h0M571.6 224.8h0M541.9 247.9h0M565.1 227.3h0M546.8 226.9h0M544.8 233h0M540.9 241h0M564.7 222.7h0M531.7 249.3h0M554.7 223.4h0M612.2 241h0M553.8 230.6h0M545 222.4h0M536.5 220h0M541.6 228.7h0M597 236.1h0M591.4 234.4h0M553.5 221.1h0M542.8 244.2h0M546.5 213.5h0M608.7 240.8h0M576.4 230.2h0M558.2 229.3h0M548.5 225.6h0M540.3 234.8h0M562.7 219.1h0M611.7 239h0M539.3 237.2h0M545.8 215.7h0M537.2 246.4h0M539.6 251.7h0M547.5 218.1h0M548.4 230.4h0M555.2 235.2h0M539 242h0M570.5 228.3h0M545 214.9h0M575.7 227.7h0M566.9 235.3h0M562 237h0M537.3 230.5h0M546.7 239.3h0M531 220.2h0M544.6 227.4h0M536.7 235.1h0M544.9 237.1h0M587.1 231.4h0M565.4 232.6h0M540.3 214.9h0M553.5 219.4h0M604.4 236.9h0M590.4 231.8h0M550.4 237h0M533.3 240.2h0M558.6 230.5h0M574.6 236.9h0M546.5 247.1h0M608.4 239.6h0M589 236.3h0M540.8 232.2h0M563.4 243.7h0M564 245.8h0M563.4 247.2h0M564.8 244h0M568.4 249.8h0M563 248.1h0M567.9 246.2h0M565.9 246.5h0M656.2 250.2h0M668 249.6h0M660 245.9h0M660 245.3h0M671.7 251.3h0M657.8 245.8h0M650.3 249h0M652.5 245.6h0M654.3 249.5h0M655.4 250.2h0M650.2 248.1h0M659.8 242.4h0M666.1 246.8h0M666.6 245.5h0M652.4 247.5h0M662.6 246.1h0M667.1 246.3h0M655.5 248h0M666.4 245h0M668.7 248h0M662.6 251.8h0M666.4 247.1h0M666.3 245.3h0M650.8 246.6h0M666.5 249.8h0M658.6 245.3h0M658.5 244.1h0M667.2 250.7h0M655.1 248.5h0M664.9 249.3h0M665.7 243.7h0M666.8 250.2h0M397.5 400.8h0M394.5 416.6h0M402.5 402.1h0M395.5 437h0M402.2 397.9h0M403 435.9h0M408.5 442.1h0M410.6 440.5h0M416.4 443.7h0M402.3 432.3h0M392.7 421.4h0M410.6 439.8h0M394.1 416.4h0M400.2 435.8h0M388.8 401.5h0M395.3 424.2h0M401.2 429.1h0M395 419.2h0M392.4 424.1h0M383.8 413.9h0M388.9 418.8h0M400.2 430.8h0M398.6 414.7h0M394.3 398.1h0M390.1 419.6h0M386.5 394.4h0M398.1 401.4h0M410.2 438.7h0M380.5 403h0M381.6 410.6h0M393.8 428.9h0M425.7 444.4h0M396.8 423.7h0M381.5 421.6h0M392 434.1h0M397.2 411.2h0M391 428.7h0M396.9 433.5h0M393.6 432.4h0M399.8 418.6h0M399.7 413.8h0M392.3 431.9h0M394.4 425.6h0M394.7 405.6h0M397.5 421.3h0M396.8 391.1h0M401 415.7h0M393.8 414.1h0M408.7 435.3h0M393.8 409.8h0M393.9 405h0M396.4 436.3h0M394.8 414.7h0M386.1 399.4h0M398.2 423.5h0M393.5 419.5h0M384.3 417.4h0M391.8 400.1h0M403.6 440h0M404.9 435.3h0M391 399.4h0M388.7 416.6h0M389.8 406.9h0M379.2 405.6h0M395.6 435.7h0M390.5 409h0M392.8 410.7h0M395.8 396.8h0M393.3 432.7h0M384.5 413.4h0M389.6 419.6h0M400.3 395.4h0M386.3 398.1h0M390.6 404.2h0M398.7 396.3h0M379.4 408.3h0M390.5 414h0M401.8 433.4h0M388.5 399.4h0M400.7 406.2h0M378.6 418.2h0M399.4 432.9h0M402.9 420.2h0M398.4 434.5h0M387.9 415.1h0M403.3 420h0M398.3 393.7h0M407.5 440.4h0M377.5 404.5h0M383.2 423.2h0M402.5 399.5h0M382.5 408.7h0M383.4 412.5h0M412.7 440h0M397.6 415.5h0M388.1 385.8h0M385.4 392.5h0M380.1 406.5h0M388.8 386.8h0M404.1 442.3h0M378.1 417.5h0M384.2 410.2h0M406.7 437.2h0M407.7 434.7h0M383.5 423.6h0M389.3 413.9h0M401.2 442.1h0M395.1 434.8h0M398.2 417h0M418.2 441.9h0M394.3 427.4h0M393.9 394.1h0M398.7 392.6h0M385.1 422.7h0M403.6 422h0M384.3 413.4h0M387.4 404.5h0M399.9 415.6h0M398.6 401.9h0M391.4 388.6h0M391.4 416.1h0M381.7 425.5h0M403.9 420.8h0M380.8 404.6h0M394.1 429.5h0M384.1 412.4h0M393 422h0M402.5 435.9h0M379.6 420.9h0M391.3 430.6h0M414 442.6h0M387.5 426.5h0M398.8 420.2h0M383.6 401.8h0M392 385.1h0M381.7 420.7h0M394.5 425.5h0M391.9 416.3h0M394.7 409h0M412.3 438.1h0M397.2 421h0M395.9 409.6h0M393.3 415h0M387.1 410.4h0M377.5 405.4h0M395.1 418.5h0M393.8 395.2h0M396.2 422.6h0M391.7 426.6h0M404.6 440.4h0M383.1 405.1h0M411.1 440h0M399.2 432.6h0M380.3 423.4h0M392 426.8h0M390.3 395.4h0M388.8 428.6h0M412.3 440.4h0M398.9 438.4h0M395.8 416.9h0M382.5 419.8h0M388.9 407.5h0M399.2 401.8h0M383.6 425.2h0M386.4 401.3h0M393.8 414.2h0M388.2 405.8h0M398.1 438.8h0M378.2 406h0M395.2 423.4h0M396.6 436.8h0M388.4 416.7h0M392.8 418.1h0M395.2 405.1h0M399.2 406.5h0M403.3 400.5h0M392.6 418h0M397.6 414.8h0M399.2 433.6h0M375.7 408.6h0M387.8 421.5h0M393.3 421.4h0M391.6 413.1h0M390.2 390.2h0M389.9 397h0M389.1 430h0M393.2 414.5h0M399.5 395.4h0M410.2 435.5h0M396 431.3h0M381.5 415.1h0M397.7 412.8h0M381.1 420.4h0M387.3 411.1h0M385.1 428.7h0M409.2 435.1h0M401.4 401.8h0M382.8 414.3h0M400.5 407.8h0M386.9 428.7h0M389 409.2h0M399.4 399.1h0M418.1 442.1h0M419 397h0M408.5 392.6h0M411.3 393.1h0M408 395.8h0M414 398.2h0M408.9 398h0M414.4 399.2h0M414.8 398.8h0M410.3 392.2h0M409.6 394.3h0M413.6 396.2h0M409.2 395.6h0M415 395.5h0M414.7 397.1h0M415.4 399.8h0M413.6 393.3h0M408.3 397.1h0M402.4 393.2h0M416.4 395.3h0M419.5 399.2h0M409.8 397.5h0M404.2 397.8h0M424.7 397h0M439.7 414.1h0M447.3 411.9h0M448.8 414.3h0M454 415.2h0M440.1 414.1h0M443.4 414h0M440.5 412.5h0M442.7 412.9h0M452.3 414.7h0M451.2 415.3h0M482.6 356.5h0M483.3 357.4h0M485.1 357.7h0M480.6 359.9h0M480.6 354.7h0M478.9 352.8h0M482.8 363.7h0M484.4 364.7h0M481.2 357.7h0M477.4 354.7h0M486.7 364.7h0M479.9 354.3h0M484.5 359.9h0M479.4 354.4h0M484.7 366.2h0M480.4 360.3h0M461.3 459.3h0M472.3 455.4h0M473.1 461.2h0M455.9 450.8h0M467.2 451.5h0M471.3 462.5h0M473.7 469.6h0M473.2 466.8h0M458.1 469.3h0M479.9 461.4h0M467.9 451.8h0M469.3 465.4h0M465.9 448.4h0M467.6 461.2h0M478.2 453.6h0M460.4 468.8h0M471.9 451.2h0M470.5 466.8h0M456.3 451.5h0M472.8 464.5h0M460.7 449h0M471 456.5h0M466.7 457.6h0M481.6 454.9h0M475.8 461.8h0M462.4 455.3h0M460.4 465.1h0M475.8 456.9h0M464.9 461.4h0M461.4 458.4h0M480.1 455.5h0M482.3 454.6h0M461.1 457.5h0M478.2 462h0M482.7 458.5h0M468.3 452h0M479.2 461.9h0M468 456.9h0M475.3 454.9h0M457.8 452.4h0M462.6 452.6h0M472 455.6h0M461.1 469.4h0M473.5 461.1h0M461.2 468.5h0M465.8 461.2h0M467.2 467.2h0M459.7 453.5h0M468.4 461.3h0M470.4 462.6h0M480.3 455.9h0M464.9 463.9h0M476.9 464.6h0M475.2 457.3h0M476.5 456.5h0M461.7 450.3h0M471.5 452.1h0M463.2 455.2h0M465.9 458.1h0M471.4 457.7h0M471.3 467.9h0M470.6 460.5h0M465.3 452.4h0M461.1 450.1h0M463.3 448.9h0M467.3 462h0M468.4 463.2h0M467.7 467.4h0M471.4 454.4h0M477.4 457h0M461.4 448.7h0M467.8 464.6h0M464.3 450h0M462.8 463.1h0M472.5 457.7h0M461.2 463h0M463.4 458h0M473.2 466h0M475.3 458.5h0M464.9 463.3h0M470.8 462.3h0M475 459.7h0M508 452.4h0M512.1 448.8h0M505.9 450.9h0M510 451.2h0M507.2 452.1h0M512.4 445h0M514.1 450.8h0M514.6 451.5h0M507.5 456.4h0M515.7 450.6h0M509.5 452.2h0M511.7 448.1h0M508.1 454.1h0M509.8 447.2h0M504.1 459.4h0M514 448.7h0M505.3 454.9h0M506.8 460.2h0M509.3 452.7h0M508.3 449.7h0M507.6 449.9h0M514.4 446.2h0M504.7 460.2h0M514.3 451.4h0M511.5 445.5h0M450.7 572.9h0M439.3 579.2h0M482 556.6h0M472.4 562.8h0M489.6 581.5h0M458.6 581.3h0M498.3 575.3h0M460.4 581.9h0M496.5 571.4h0M444.8 579.1h0M433.4 583.8h0M475.7 581h0M484.9 557.9h0M474.3 565.8h0M485.9 572.1h0M420 560.3h0M505.4 543.6h0M489.8 580.5h0M481.4 568h0M439.9 574h0M506.2 570.2h0M449.2 572.1h0M430.1 536.8h0M504 557.9h0M495.7 568.1h0M425.2 551.9h0M460.4 598h0M462.4 571.4h0M432.2 568.5h0M449.5 573.4h0M493.7 553.4h0M436.1 570h0M451.6 563.7h0M451.7 577.6h0M485.6 562.6h0M465.1 573.7h0M457.3 597.5h0M472.1 575.6h0M442.9 565.6h0M488.8 563.1h0M505.9 542.4h0M425.8 584.4h0M425.6 575h0M432.4 576.4h0M502.3 561.9h0M460.2 596.8h0M502.9 551.4h0M471.3 584.5h0M499.4 547.6h0M498.5 571.5h0M417.8 551.3h0M485.2 564.1h0M449.3 591.9h0M423.6 560.6h0M479 582.7h0M492.5 562.9h0M416.6 545.9h0M510 543.5h0M453.6 573.4h0M452.3 570.9h0M500.9 536.6h0M422.7 544.3h0M473.1 572.6h0M443.6 561.8h0M448.3 566.8h0M425.7 570.2h0M435.8 564.8h0M441.4 571.5h0M513.1 557.2h0M443.8 561.3h0M490.2 547.1h0M487.3 560.4h0M506.4 528.7h0M454.8 573.6h0M458.5 567.3h0M465.8 579.8h0M494.4 578.6h0M456 561.4h0M425 565.6h0M488.7 568.8h0M471.7 589.2h0M421.1 551.4h0M436.8 568.1h0M454.5 592.9h0M444.2 583.7h0M484.2 554.1h0M429 587.6h0M457.8 574.7h0M467.9 595.2h0M424.3 541.7h0M463.5 597.8h0M512.2 550.5h0M428 591.3h0M466.5 561.8h0M491.4 565h0M506 532.6h0M489.1 568.3h0M503.8 548.1h0M461.4 584.6h0M500.2 572h0M491.8 554.2h0M428.6 586.8h0M457.4 598.6h0M414.8 548.6h0M442.5 569.8h0M424.9 562.6h0M450 560.7h0M465.3 586.7h0M505.1 533.5h0M482.8 584.1h0M460.1 567h0M448.3 585.1h0M463.6 572.5h0M420.2 556.9h0M507 564.6h0M477.2 581h0M441.4 576.8h0M473.3 588.4h0M492.9 547.8h0M432 572.7h0M480.7 570.9h0M506.3 569.3h0M480 590.4h0M490 571h0M487.1 587.2h0M459.3 586.8h0M504.4 553.9h0M428.8 589.7h0M417 554.3h0M501.4 554.6h0M472 561.5h0M487 568.4h0M513 536.2h0M459.4 587.3h0M439.2 587.3h0M445 573.2h0M485.2 586.7h0M478.7 564.7h0M418.9 545.6h0M438.9 586.9h0M433.1 581h0M511.4 547.6h0M504.6 573.2h0M432.1 579.6h0M442.9 583.6h0M489 571.7h0M423.4 542h0M512.8 546.7h0M443 562.6h0M493.4 545.9h0M496.4 580.9h0M433.3 590.6h0M475 571.1h0M493.9 557h0M512.8 537.1h0M451.5 583.2h0M448.3 594.2h0M448.6 570.4h0M440.5 577.7h0M487.7 585.8h0M428.8 535.6h0M436.1 581.1h0M482.7 577.3h0M450.3 568.4h0M441 583.2h0M480.6 585.4h0M483.3 588.4h0M481.9 582h0M499.3 568h0M444.2 565.5h0M498.3 543h0M434.1 567.5h0M501.9 528h0M485.4 563h0M426.3 576.9h0M506.1 525.3h0M469 584.4h0M499.6 569.8h0M470.3 561.8h0M504.7 549.4h0M427.9 535.9h0M495.3 557.2h0M504.7 554.6h0M455.7 579.2h0M498.1 554.9h0M492.7 549.1h0M426.2 582.2h0M492.9 576.4h0M465.3 586.2h0M493.9 567.6h0M455.1 576h0M485.1 588.7h0M508.6 543.2h0M506.8 541.1h0M472.4 577.1h0M488.1 570.9h0M484.1 571.3h0M507 563.2h0M452.8 597.5h0M455.7 583.9h0M427.2 568.3h0M501.7 534.3h0M501.1 555.8h0M494.7 552.6h0M440.7 590.9h0M479 577.7h0M467.5 576.8h0M512.5 549.1h0M444.8 590h0M510.4 537.9h0M418.3 548.6h0M463.3 591.7h0M501.5 560.2h0M472.9 586.9h0M491.3 563.7h0M470.6 566.3h0M449.4 584.2h0M505.8 564h0M429.6 583h0M431.2 571.4h0M508.6 541.4h0M438.7 573.1h0M419.7 559.1h0M504.5 569.4h0M466.2 575.5h0M464.9 579.1h0M493.5 556.7h0M432.9 590.6h0M462.4 587.2h0M500 541.4h0M437.5 590.3h0M438.6 568.2h0M509.3 558h0M457.6 595.7h0M507.9 563.9h0M509.6 549.4h0M463.4 585.4h0M466.5 593.9h0M476.6 589.1h0M507.3 566.1h0M459.4 575.2h0M484.6 556h0M467.2 584.4h0M451.8 574.2h0M470.3 587.6h0M440.6 583.9h0M474.4 581.7h0M473.8 569.4h0M496.8 551.6h0M486.7 564.4h0M482.4 588.5h0M507.3 534.2h0M442.9 566.4h0M442.6 591h0M478.4 568.4h0M480.5 574.1h0M443.8 574.6h0M507 558.2h0M454.7 574.9h0M502.9 575h0M511.3 541.6h0M510.2 544.9h0M445.9 593.3h0M450.3 585.4h0M421.1 548h0M439 588.2h0M459.8 587.6h0M460.6 595.2h0M423.2 579.1h0M433.6 572.8h0M463.6 563.9h0M448.1 596.6h0M480.3 573.6h0M480.9 587.5h0M431.6 537.5h0M417.3 555.1h0M474.1 594.9h0M462.1 565.1h0M485.3 588.2h0M512.3 547.9h0M432.6 592.6h0M475.8 590h0M429.5 582.8h0M456.6 572.7h0M509.4 555.3h0M487.7 583.6h0M484 556.1h0M468.7 560.1h0M458.1 591.2h0M504.7 544.5h0M510.9 532.8h0M461.2 557.6h0M465.2 558.7h0M425.2 568.3h0M465 571.2h0M499.3 573.1h0M437.3 584.7h0M491 559.7h0M508.1 526.1h0M506.4 549.8h0M469.5 583.4h0M511.2 539.2h0M508.8 561.2h0M501.1 543.2h0M474.2 576.5h0M472.6 567.1h0M446 595.3h0M500.3 541.2h0M510 557.4h0M472.4 571.9h0M477 589.7h0M505.4 546.6h0M504.8 546.6h0M453.8 596h0M426.4 579.6h0M478.9 564h0M472.6 569.7h0M454.1 580.6h0M467.5 575h0M453 583.4h0M507 546.6h0M435.9 582.6h0M455 586.7h0M509.3 536.5h0M456.1 579.1h0M460.8 587.7h0M436.1 565.1h0M466.1 591.6h0M447.1 562.7h0M509.6 559.3h0M488.9 570.8h0M467.8 568.7h0M449.5 577.3h0M454.8 562.9h0M437.8 570.5h0M490.9 583.9h0M485.6 558.1h0M441.5 576.3h0M426.5 568.7h0M486.4 581.3h0M471.5 581h0M449.5 572.1h0M475.4 592h0M493.1 573.6h0M469.7 590.5h0M475.5 575.1h0M512.6 539.3h0M505.1 547.9h0M434.1 566.6h0M464.5 562.8h0M446.6 573.9h0M459.6 585.1h0M510.8 563.4h0M494.8 551.8h0M469.4 562.6h0M422.7 545.5h0M503.8 538.6h0M512.1 544h0M447.6 584.4h0M462.8 591h0M471.1 571.2h0M500.5 551.5h0M501 540.6h0M444.9 562.7h0M488.1 582.8h0M473.8 567.7h0M507.3 565.8h0M511.8 559h0M415.9 556h0M426.2 567.4h0M444.7 563.3h0M457.6 566h0M421.4 569.3h0M472 593.9h0M504.7 569.6h0M467.3 579.8h0M460.5 576.5h0M452.3 564.9h0M488.8 567.2h0M450 572.6h0M477.9 589.6h0M434.4 572.1h0M468.4 571.2h0M415.7 550.2h0M467.3 570.6h0M504.1 559.9h0M460.5 575.4h0M438.8 589.8h0M437.3 590h0M448.4 584.1h0M446.7 585.4h0M503.4 546.3h0M446.4 596.7h0M433.2 579.3h0M513.4 552.9h0M486.6 557.7h0M453.7 578.6h0M476.8 572.3h0M466.5 579.8h0M488 561.6h0M462.1 564.3h0M491.9 578.6h0M469 581.6h0M488.1 562.2h0M459.3 595.4h0M495.2 566.1h0M492.4 564.5h0M473.4 588.9h0M432.4 591.2h0M470.5 559.5h0M441.7 594.5h0M465 560.6h0M420.9 555.1h0M421.2 572.7h0M435.1 575.5h0M421.1 576.6h0M455 561.8h0M429.2 579h0M502.6 527.4h0M468.1 576.9h0M430.1 577.2h0M461.3 594.2h0M469.5 589.9h0M500.6 530.7h0M500.5 534.4h0M507.4 533.7h0M508.4 526.4h0M481.3 563.3h0M474.9 593.2h0M472.2 584.3h0M487.5 558.5h0M436.6 589.7h0M498.5 577.1h0M424.9 539.1h0M491.9 581.1h0M509.4 534h0M441 578.7h0M447.4 566.8h0M446.5 564.4h0M438.3 579.8h0M496.2 569.7h0M508.9 555h0M493.7 547.1h0M486.7 567.8h0M416.9 561.5h0M502.3 572h0M500.7 571.3h0M491.1 544.9h0M481.8 572.6h0M479.9 570.8h0M436.3 576.8h0M489.5 565.9h0M468.2 563.4h0M468.9 585.1h0M482.7 558.2h0M502.7 559.8h0M420 574.2h0M428.9 572.2h0M490.5 560.9h0M471.1 573.4h0M615.1 414.7h0M599.1 415.7h0M585.7 408.7h0M627.4 424.9h0M625.7 418.5h0M595.6 420.4h0M594.2 401.6h0M584.9 387.4h0M624.5 416.6h0M583.5 385.5h0M584 415.8h0M605.3 403.6h0M610.6 405.9h0M603.4 413.3h0M582.7 410.3h0M584.9 384.4h0M617.7 425.7h0M586.7 380.3h0M620.7 422.7h0M581.2 397.7h0M597.1 387h0M593.8 399.9h0M617.1 411.5h0M610 404.6h0M592.3 396.5h0M611 424.6h0M594.9 411.1h0M591.6 397.9h0M613 421.8h0M611.8 406.3h0M605.3 405.1h0M589.3 387.9h0M612.3 397.6h0M607.3 423.1h0M605.5 414.6h0M581.9 401.9h0M581.5 387.3h0M589.3 396.6h0M595.8 392.6h0M582.5 395.8h0M586.5 388.6h0M588.9 408.7h0M614.5 426.2h0M605.4 398.2h0M626 419.9h0M591.5 410.8h0M595.7 395h0M628.1 421.8h0M606.5 400.6h0M596.1 384.3h0M608.9 413.8h0M584.7 409.8h0M603.1 409.6h0M589.5 388.6h0M617.8 427h0M585 410.6h0M587.8 392.6h0M600 408.4h0M610.8 407.7h0M610.4 407.2h0M600.6 389.3h0M617 421h0M617.9 410.3h0M611.7 418.7h0M608 418.2h0M590.1 397.1h0M609.9 407.2h0M601.6 408.1h0M595.8 380h0M595.7 419.5h0M588 395h0M607 419.8h0M606.7 413.9h0M581.1 386.6h0M633.1 422.3h0M595.8 379.8h0M630 423.3h0M623.7 416.2h0M623.5 419h0M600.4 413.5h0M591.4 390.3h0M619.1 423.2h0M614.8 415.3h0M593.2 406.5h0M596.6 385.8h0M602.4 406.4h0M603.9 410.4h0M589.7 410h0M587.8 398.9h0M583.6 403.6h0M601.3 392.2h0M621.9 414.3h0M582.3 407.2h0M591.2 393.7h0M592 385.4h0M593.2 402.4h0M625.4 416h0M586.2 390.1h0M596 417.2h0M633.1 423.1h0M627.6 419.6h0M592 384.4h0M585.1 384.1h0M596.9 379.9h0M595.5 420.1h0M592.4 402.8h0M580.4 406.1h0M596.2 394.6h0M585.2 412.3h0M595.8 392.4h0M603.3 402.9h0M585.1 411.9h0M581.6 390h0M597.4 417.8h0M588.1 414.9h0M602.6 404.8h0M624.6 424.8h0M618 410.9h0M595.6 391h0M600 417.9h0M599.7 398h0M589.9 409.6h0M605.8 421.5h0M579.5 399.5h0M626.5 415.1h0M598.8 403.2h0M583.1 388.8h0M594.9 405.3h0M618.8 409.8h0M596.3 394.4h0M600.2 392h0M590.4 402h0M587.1 393.7h0M584.5 386.9h0M581.9 398h0M595.4 380.3h0M595.5 399.4h0M600.4 422.4h0M590.7 416.6h0M592.5 389.4h0M590.1 418.7h0M612.6 417.1h0M608.7 401.9h0M587.2 388.5h0M612.2 402.9h0M635.7 422.5h0M614.8 411.6h0M614.3 420.4h0M622.4 412.2h0M586.9 385.2h0M596.8 410h0M585.4 387.1h0M594.5 404.8h0M620 424.7h0M591.6 381.7h0M585.9 395.5h0M591.1 399.9h0M594.9 420.4h0M600.7 421.1h0M599.4 408.8h0M587.5 417.1h0M596.3 412.5h0M603.3 412.9h0M594.9 381.7h0M590.3 400.5h0M607.1 421.9h0M603.9 407.4h0M585.9 392.3h0M613.4 424.3h0M591.3 395.8h0M591 418.7h0M620 416.2h0M580.5 407.1h0M579.2 403.3h0M603.7 404.4h0M587.1 387.5h0M587.2 388.4h0M632.6 422.2h0M584.9 406h0M593 409.9h0M594.9 394.8h0M586 401h0M596.5 393.3h0M612.1 424.9h0M600 420h0M592.9 388.7h0M598.7 393.3h0M617.2 413.3h0M581 384.7h0M626 421.1h0M627 419.5h0M605.5 413.6h0M633.1 422h0M615.9 408.2h0M681.9 458.4h0M669.6 445.6h0M699.6 443.8h0M678.1 450.2h0M718.1 462.6h0M713.4 471.2h0M670.4 424.4h0M666.7 459.4h0M664.5 446h0M681.8 460.9h0M684.5 461.6h0M679 467.6h0M693.3 441.9h0M716.9 460.9h0M689.7 442.6h0M696.9 453.3h0M687.2 463.6h0M690.9 453h0M701.1 462.1h0M711.6 455.9h0M715.3 451.2h0M671 451h0M699.6 441.5h0M674.8 459.7h0M695.3 433h0M680.3 433.3h0M691.9 435.4h0M692.5 435.6h0M668.4 459.1h0M684.6 434.5h0M702.5 470.7h0M682.7 461.2h0M678.7 421.7h0M697.1 435.9h0M685.1 442.8h0M682.3 430.4h0M692.6 457.4h0M676.3 446.6h0M674 457.8h0M684.7 452.6h0M684.8 448.4h0M685.8 438.4h0M706.6 443.7h0M668.2 452.2h0M677.5 431.1h0M688.4 465.4h0M699.7 436.8h0M668.9 452.6h0M672.4 462.4h0M695.4 432.1h0M687.9 439.6h0M713.8 449.3h0M675 419.9h0M701.5 459.1h0M710.8 472.7h0M708.5 450.6h0M698.2 439.7h0M680.7 437.4h0M691.4 434.5h0M678.8 432.4h0M704.1 440.7h0M668.7 445.4h0M691.3 452.2h0M673.7 429.8h0M691.3 444.9h0M689 457.7h0M680.4 437.1h0M698.1 445h0M711.2 466.3h0M716.2 469.7h0M666.7 442.3h0M669.9 454.3h0M666.1 446h0M697.1 442.7h0M688.4 455.6h0M701.3 459.8h0M685.2 429.4h0M673.3 430.4h0M695.4 454.9h0M667.3 448.8h0M694.3 458.6h0M677 441.5h0M696.8 465.7h0M675.9 437.2h0M683.6 457.7h0M686.7 442.9h0M683.3 454.1h0M669.9 463.3h0M711.1 450.6h0M672.7 441.4h0M714 462.2h0M678 432.5h0M677.7 442.1h0M698.8 463.6h0M672.7 441.2h0M702.5 466.7h0M687.8 441h0M705.8 455.9h0M711 456h0M693.7 468.1h0M666.2 435.5h0M689.3 466.1h0M672.2 463.9h0M666.6 439.5h0M688 460.2h0M691.3 467.8h0M701 441.4h0M691.2 441.7h0M671.9 433.5h0M700.8 472h0M708.3 452.1h0M670.4 433.1h0M715.3 468.8h0M674.2 439.1h0M696.5 436.8h0M667.9 455.5h0M684.7 446.3h0M711.2 461.9h0M707.7 464.6h0M703.2 468.9h0M692.3 470h0M666.6 434.4h0M708.3 464.6h0M674.3 451.9h0M686.5 461.5h0M684.3 437.7h0M704.9 459.1h0M682.2 460.1h0M676.5 448h0M672.3 439.1h0M679.3 439.6h0M680.2 448.4h0M712.8 467.8h0M678.4 427.3h0M704.8 461.5h0M671.3 424.8h0M684.3 463.2h0M666.4 444.5h0M693.1 456.5h0M674.8 423.1h0M672.3 421.6h0M692.1 445.5h0M681.2 444.4h0M686.2 435.7h0M680.5 464.9h0M691.6 432.9h0M689 450.3h0M672.7 445h0M717.9 460.6h0M701 444.8h0M672.3 457h0M672.4 445.8h0M670.2 443.1h0M690.8 454.7h0M698.8 453.8h0M677.8 431.7h0M696.1 472.3h0M711.2 447.3h0M678.4 452.9h0M664.2 447.8h0M688.9 454.2h0M668.9 447.1h0M683.2 459.9h0M685.5 429.8h0M690.6 450.2h0M700.5 462.9h0M684.4 440.4h0M705.8 445.8h0M691.9 433.9h0M679.8 423h0M712.3 466.7h0M678 421.3h0M689.9 467.7h0M702.6 448.2h0M679.7 434.7h0M695.9 446.1h0M668.7 447.5h0M697.1 468.5h0M689.3 447.8h0M695.4 448.1h0M678.5 447.8h0M671.7 456.1h0M668.1 445h0M664.7 450.3h0M680.3 427.8h0M707.9 446.7h0M676.8 453.1h0M674.3 434.7h0M674 428.7h0M685.3 445.1h0M695.4 450.9h0M700.4 454.4h0M688.4 468.1h0M669.6 435.2h0M709.5 451.5h0M714.6 470.7h0M680.4 435.5h0M688.2 440.2h0M706.8 470.5h0M714.9 461.2h0M689.9 436.6h0M715.1 465.3h0M698.5 458.8h0M669.3 438.2h0M687.5 434h0M706.7 443.3h0M677.4 433.9h0M679.6 453.6h0M702.3 444h0M702.3 452.1h0M707.8 461h0M681.6 426.2h0M670.2 459.2h0M672.1 440.3h0M686.6 455.6h0M691 457.3h0M696.9 443.8h0M689.8 439.3h0M709 450.6h0M701.2 466.1h0M701.2 469.9h0M687.4 459.1h0M693 474.2h0M695.6 434.3h0M676 429h0M691.6 460.3h0M706.1 457.9h0M689.7 463.2h0M666.8 437.1h0M704.6 458.4h0M701.5 458.9h0M678.8 448h0M667 443.9h0M669.5 438.7h0M681.2 426.1h0M679.1 449.1h0M691.6 442.6h0M706.9 448.4h0M681.5 467.6h0M695.7 462.4h0M690.4 442.5h0M710.8 464.2h0M684.2 464.2h0M692.5 456.7h0M675.2 463.4h0M676.5 442.4h0M705.1 467.8h0M671 460.9h0M587.8 432.2h0M590.4 450.9h0M602.5 436.3h0M604.4 452.1h0M583.8 454.1h0M597.6 445.6h0M612 430h0M595.3 448.3h0M598.4 438.7h0M596.9 453h0M580.3 448.7h0M587.4 425.2h0M595.1 426.9h0M594.9 428.4h0M594.3 427.2h0M594.3 444.4h0M604 426.9h0M611.4 435.9h0M601.8 435.5h0M606.3 433.6h0M610.1 456.6h0M593.3 441.8h0M591.7 429h0M600.4 426.6h0M582.6 437.6h0M617.7 436.3h0M602.9 455.9h0M600.2 449.4h0M595.5 451.5h0M607.5 438.1h0M581.2 453.2h0M586 455.4h0M591.7 442.8h0M594.3 450.2h0M590.5 441.1h0M585.2 434.6h0M587.2 447.6h0M579.1 454.1h0M607.7 444.6h0M581.4 422.6h0M579.3 439.3h0M598.9 452.9h0M589.1 431.3h0M588 430.4h0M590 444h0M599.3 449h0M599.7 433.7h0M584.4 437.2h0M598.5 448h0M612.1 450.2h0M595.4 456.4h0M580.5 437.8h0M608.4 433h0M600 454.1h0M602.4 452.4h0M615 431.2h0M614.4 434h0M585.1 454h0M579.9 453.9h0M584.9 450.6h0M580.9 440.6h0M599.8 442.8h0M605.5 453.6h0M597.6 430.9h0M609.3 438h0M586.5 450.7h0M607.9 452.6h0M581.1 450.8h0M595.6 441.2h0M611.5 432.6h0M591 444.2h0M578.3 455.5h0M608.4 449.7h0M604.6 453.7h0M583 437.3h0M583.9 456.3h0M595.4 452.8h0M586.2 444.3h0M607.1 434.8h0M586.8 425.3h0M602.1 437.3h0M583.9 434h0M589 426.8h0M600.6 427.9h0M584.6 435.5h0M584.5 453.3h0M615.3 434.3h0M609.3 445.4h0M599 455.5h0M603.9 446.1h0M615.2 439h0M606.1 439.5h0M586.3 429.5h0M588.1 438.4h0M583.8 447.5h0M607.6 452.9h0M598.6 450h0M609.2 449h0M588.9 443.4h0M610.4 431.3h0M601 426.4h0M594.3 429.1h0M580.4 454.9h0M589.4 457.5h0M606.8 443.8h0M596 446.1h0M609.8 429.2h0M598.4 432.1h0M608.9 456.6h0M593.8 428.6h0M591.2 454.8h0M597.7 440.3h0M602 428.7h0M591.2 438.4h0M599.7 444.4h0M586.7 424.8h0M599.7 427.9h0M606.5 456.7h0M589 450.6h0M611.6 445.3h0M591.3 438.3h0M599.7 429h0M592.5 426.5h0M611.2 430.6h0M597 443.5h0M609.5 431h0M602.2 448.9h0M599.2 435.3h0M597.2 446.8h0M594 449.3h0M607.2 449.9h0M593.9 427.6h0M588.6 427.6h0M598.2 429.6h0M590.6 449.7h0M610.8 436.6h0M599.3 434.3h0M583.6 447.6h0M585.2 429.1h0M601.6 436.6h0M635 464.3h0M619.4 461.8h0M584.6 465.7h0M573.7 464.8h0M646.8 458.5h0M582.3 465.8h0M618.3 464.7h0M615.8 466.2h0M616.9 463.1h0M589.5 467.7h0M643 464.6h0M604.5 466.5h0M585.2 466h0M571.4 465.1h0M580.6 461h0M620.4 462.4h0M612.3 464.1h0M606 466.9h0M578.4 464.1h0M639.8 464.1h0M600.2 466.7h0M647.9 463.8h0M602.9 461.2h0M650.3 460.7h0M577 464.3h0M607.4 464.5h0M581.5 471.3h0M599.6 461.5h0M585.5 465.9h0M633.4 463.6h0M580.4 469.2h0M644.7 464h0M612 465.4h0M640.4 463.3h0M589.9 463.9h0M620.8 461.6h0M577.6 460.7h0M648.5 463.3h0M605.3 468.9h0M573 473.7h0M593.4 461h0M610.1 465.8h0M596.8 464.4h0M604.9 463.5h0M584.4 469.7h0M604.1 465.5h0M590.6 461.1h0M595.8 461.2h0M620.7 466.7h0M609.3 463.4h0M595.6 463.3h0M611.9 465.2h0M607.2 465.5h0M576.2 471.5h0M609.5 463.5h0M612.7 462.4h0M631 463.2h0M573.9 469.1h0M584.4 464.4h0M648 463.9h0M632.9 463.7h0M595.6 466.1h0M650.1 463.6h0M587.7 464.6h0M637.1 463.6h0M637.4 462h0M646.7 460h0M602.4 462.8h0M573.9 470h0M608.2 467.7h0M587.7 466h0M647.8 464.2h0M641.7 433.6h0M633.2 429.4h0M655.8 432.3h0M658.6 429.8h0M657.3 432.9h0M634.2 426.7h0M646.1 428.4h0M651 429h0M636 427.4h0M661.7 433.5h0M654.2 430.7h0M652.8 433h0M638.1 423.1h0M636 424.3h0M634.1 430.7h0M651.1 431.6h0M644 431.2h0M636 422.8h0M651.7 431.2h0M659.7 430.2h0M633 427h0M645.5 430.8h0M655.9 429.4h0M650.8 433.5h0M650.5 429.7h0M665.3 434.3h0M633.9 432h0M651.7 434.6h0M627.1 428.4h0M643.5 429.5h0M629.5 429.6h0M655.8 435.2h0M651.3 428.7h0M643.7 433.5h0M629.4 431.4h0M633.6 424.7h0M168.1 563.1h0M189.5 538.5h0M203.2 511.3h0M166.6 530h0M221 540.9h0M165 546.1h0M201.3 509.9h0M151.7 537h0M206.9 506.5h0M174.9 551h0M216.6 530.2h0M224.9 552.4h0M168.1 546.7h0M194.9 540h0M185.9 539.9h0M199.5 522.1h0M181.2 510.8h0M168 541.6h0M183.4 512.1h0M217 508.7h0M173.1 535.9h0M165.1 541h0M191.3 515.1h0M210.8 545.2h0M220.1 544.1h0M200.6 501.6h0M175.6 530h0M199.6 516.2h0M196.3 527.3h0M171.6 532h0M190 508.2h0M216.8 510.9h0M223.7 542.8h0M231.3 552.9h0M182.6 525.7h0M182.2 565.7h0M221.7 549.3h0M178.5 518.9h0M173.9 548.6h0M190.3 515.1h0M160.2 557.5h0M196.8 502.9h0M184.8 513.7h0M227.9 539.1h0M193.2 532.9h0M200 555.9h0M187.4 506.9h0M213.3 532.2h0M176.2 514.3h0M187.2 519.8h0M192.8 540.3h0M184.8 541.9h0M185.6 535h0M192.5 559.9h0M231.3 541.3h0M218.4 520.8h0M161.8 521.7h0M159.5 554.3h0M233.4 545.4h0M219.6 540.5h0M161.5 524.1h0M197.3 545.1h0M191.5 566.4h0M164.3 526.8h0M194.9 508.1h0M209 528.5h0M223.3 522.4h0M154.1 535.1h0M194.1 560.1h0M169.6 530.4h0M224.3 547h0M168.8 527h0M219.2 539.2h0M168.3 520.8h0M178.5 561.5h0M158.8 529.9h0M187.7 566.3h0M215.4 518.4h0M158.8 538.6h0M225.4 515.2h0M219 525.3h0M162.9 557.3h0M202.4 527h0M195.5 564.5h0M192 539.8h0M218.4 506.5h0M200.2 517.4h0M211.4 544.2h0M168.1 534h0M166 536.9h0M223 531.9h0M226.7 531.3h0M203.9 502.6h0M188.1 527h0M213.2 516.1h0M195.1 533h0M178.8 519.4h0M177.3 559.6h0M218.8 551.6h0M224 525.9h0M214.9 549.1h0M200.1 543.5h0M190.4 530.1h0M191.5 542.9h0M199.2 527.2h0M162.6 549.9h0M217.1 530.4h0M174.7 534.3h0M234.8 545.7h0M180.6 567.6h0M221.9 527.7h0M211.1 514.2h0M198.8 550.4h0M180.7 527.7h0M234.4 552.9h0M185.6 565.3h0M214.2 506.6h0M187.4 513h0M185.2 547.5h0M178 529.3h0M170.4 560h0M221.7 547h0M207.9 520.2h0M172.7 554h0M194.8 508h0M198.2 515.7h0M207.9 544.4h0M228.3 547.8h0M225.9 534.8h0M204.7 538.4h0M186.4 535h0M166.1 529.2h0M202.7 553.4h0M213.4 506.4h0M166.2 533.9h0M219.7 518.9h0M216.5 515.6h0M175.1 560.5h0M164.9 559.8h0M198.6 500.8h0M191 538.1h0M192.4 533.2h0M217.1 510.2h0M201.8 553h0M217 510.1h0M221.4 551.3h0M187 515.7h0M216.4 550.4h0M173.9 537.6h0M209.8 542.4h0M173.4 529.5h0M167.5 534.5h0M237.6 547h0M164.7 544.6h0M180.6 511.1h0M172.4 545.7h0M201.2 530.8h0M215.5 541.6h0M215.9 506.7h0M182.5 566.1h0M206.4 536h0M182.3 530.5h0M179.1 560.4h0M170.2 559.5h0M195.4 524.3h0M185.9 509h0M229.3 550.4h0M176.9 545.9h0M162.8 532.2h0M207.8 531h0M196.6 532h0M185.2 540.4h0M183.9 520.4h0M185.8 555.5h0M161 533.2h0M237.9 550.4h0M168.7 552.2h0M194 505.8h0M173.4 528.6h0M198.6 547.2h0M181.5 545.9h0M171.7 528.2h0M174.5 542.2h0M203.8 556.5h0M221.1 530.1h0M205.6 500.8h0M234.2 547.1h0M221.6 506.7h0M185.6 520.6h0M226.4 554h0M199.6 530.7h0M232.5 550.6h0M226.7 538.8h0M207.6 544.7h0M178.9 567.6h0M208.2 502.4h0M222.5 517.6h0M196.6 502.9h0M188.7 558.5h0M180 524.4h0M178 522.4h0M153 545.4h0M193 543.2h0M177.2 564.3h0M219.9 539.1h0M182.7 560.6h0M187.7 529.2h0M200.3 503.1h0M193.4 505h0M209.5 538.3h0M184.8 528.5h0M167.7 528.6h0M180 541.8h0M224.2 539.4h0M218.7 544.7h0M158.7 548.6h0M180.9 530.4h0M181.6 521.9h0M164.3 549.3h0M198.2 554.4h0M221.6 549.2h0M153.5 556.2h0M207.3 524.3h0M200.1 535.2h0M171.2 537.7h0M187.7 541.9h0M177.6 553.4h0M180.5 555.3h0M194.5 540.5h0M193.7 524h0M152.1 555.3h0M159.2 555.3h0M213.3 522.7h0M192.7 524.8h0M193.2 501.8h0M176.7 549.7h0M205.2 532.6h0M205.3 549.3h0M201 555.8h0M190 556h0M190.4 563.7h0M162.2 540.4h0M173.4 538.2h0M218.8 522.8h0M162.7 531.4h0M191.2 555.8h0M199.7 541.5h0M167.6 537.5h0M217.5 523h0M204.3 523.6h0M218.8 540.6h0M186.4 505.6h0M191.2 533h0M165.7 537h0M224.4 520.9h0M168.4 533.5h0M217.6 548.1h0M192 510.9h0M184.3 567.9h0M177.4 563.5h0M173.9 549.3h0M204 519.8h0M215.4 549.9h0M228.5 548.9h0M154.8 555.6h0M208.7 508.1h0M227.8 543.4h0M201.8 517.9h0M192.1 567.8h0M166.8 549h0M182.8 507.2h0M194.4 561.3h0M171.5 532.9h0M183.5 553.9h0M171.7 561.4h0M218.9 541.8h0M178.1 551.4h0M152.9 552.5h0M186.1 554h0M202.2 524.9h0M176.4 535.3h0M206.9 513.1h0M176.8 511.7h0M172.6 527.6h0M207.1 528.6h0M162.4 546.2h0M229 539.2h0M224.8 530.4h0M166.8 558.8h0M221.7 545h0M191 518h0M226.4 547.1h0M171.2 537.6h0M193.3 503.3h0M187.8 556.3h0M160.6 557.3h0M223.1 551.8h0M193.1 548.7h0M189.6 541.1h0M229.1 539h0M176.8 520.3h0M178.3 536.4h0M161.3 531.6h0M179.6 527h0M182.5 524.2h0M197 545.7h0M189.5 546.2h0M182.6 552.3h0M225.9 516.9h0M196.3 506.3h0M176.8 540.8h0M225 512.9h0M222.4 546.8h0M195.4 509.4h0M219.9 548h0M166.9 555h0M178.5 561.3h0M172.7 560.7h0M179.9 541.6h0M176.2 543.8h0M179.9 541.7h0M222.5 534.7h0M216 527.7h0M166.5 523.2h0M181.9 534.2h0M192.9 556.3h0M221.6 527.9h0M219.4 542.1h0M230.3 545.3h0M194.4 564.7h0M151.5 536.3h0M165.6 532.7h0M203.5 514.9h0M211 536.9h0M189 540.8h0M183 535.3h0M195.8 506.4h0M170.8 546.5h0M178.2 535.8h0M185.2 518.1h0M162.6 521.5h0M207.6 534.9h0M176.9 548.1h0M178.8 559.6h0M226.7 515.9h0M195.4 525.3h0M216 534.4h0M213.3 530h0M196.2 546h0M189.9 516.6h0M198.1 520.9h0M184.8 557.2h0M204.9 515.3h0M195.7 508.1h0M163.5 563h0M194.7 561.6h0M190 521.2h0M192.7 525.1h0M194.6 527.1h0M157.8 543.1h0M230.1 538.5h0M178.5 535.1h0M175.2 526.6h0M220.1 528.6h0M221.2 511h0M199.8 535.5h0M216.1 537h0M192.3 510.8h0M198 536.2h0M193.5 550.8h0M180.5 545.5h0M170.9 551.5h0M221.8 537.6h0M182.1 554.3h0M219.7 530.1h0M188.6 542.9h0M151.5 536.7h0M153.7 534.9h0M204.3 526.3h0M185.9 566.6h0M162.6 522.1h0M171.4 564.6h0M204.9 539.2h0M154.6 556.5h0M226.4 516h0M162.4 562h0M210.4 531.1h0M178.9 552.4h0M207.1 527h0M234.8 551.7h0M179.3 520.9h0M176 517.1h0M171.3 557.7h0M191.7 547.8h0M197.8 500.8h0M209.2 516.5h0M227.5 541.2h0M211.7 548.6h0M170.4 552.9h0M179.7 553.4h0M199.3 540.5h0M179.6 531.9h0M200.8 549.3h0M215 522.8h0M207 539.4h0M192 536.4h0M223.7 528.3h0M219 541.6h0M189.6 512.2h0M231 539.6h0M185.9 540.1h0M187.5 534.6h0M201.9 551.4h0M183.7 559h0M202.6 551.1h0M193.7 565.9h0M224.1 538.9h0M184 505.4h0M152.9 555.2h0M194.2 525.5h0M213.8 522h0M149.5 549.5h0M189.9 515.4h0M202.9 515.2h0M196.3 552.9h0M186.4 564.2h0M192 517.6h0M180.1 537.8h0M181.3 516.1h0M169.1 546h0M236.1 551.4h0M186.1 563.2h0M209.8 515.7h0M171.8 536.8h0M179.9 527.9h0M172.9 547.2h0M173 563.6h0M174.4 546.3h0M172.8 527.4h0M219.1 520h0M224.2 519.7h0M223.6 553.6h0M221.7 548.5h0M186.2 508.6h0M162.3 524.2h0M193.1 546.2h0M228.9 549h0M199.1 537.2h0M204.5 502.7h0M150.4 538.3h0M187.2 561.6h0M168.4 524.1h0M170.2 546.3h0M183 548.2h0M216.5 554.6h0M161.9 551.1h0M189.1 563.1h0M164.9 559.7h0M233.3 542.9h0M162.4 524.1h0M181.3 562.7h0M162.7 528.9h0M181.4 537.4h0M193.1 545.8h0M221 551.5h0M206.2 545.6h0M183.4 548.2h0M189.2 521.6h0M176.1 530h0M156.6 550.6h0M162.3 540.9h0M224 512.4h0M167.8 518.9h0M166.5 535h0M173.6 551.4h0M224.8 551.7h0M189.4 530.1h0M221.6 534.7h0M169.5 543.4h0M187.9 554.1h0M152.8 538.9h0M213.4 514.4h0M163.2 561.6h0M171.8 548.6h0M209.4 544.8h0M175 534.8h0M149.6 550.4h0M176.3 548.9h0M190.2 568.1h0M197.9 539.8h0M201 512.5h0M183.5 535.4h0M221.1 539.6h0M190.7 528h0M224.5 515.7h0M203.7 516.6h0M166.5 557.2h0M187.1 506.2h0M215.6 552.4h0M181.5 534.4h0M187.3 524.4h0M205.8 531.7h0M176.6 534h0M198 501.9h0M176.7 517.2h0M172.7 524.8h0M172.5 525.5h0M211.3 515.9h0M174.3 551.5h0M208.4 521.1h0M173.3 550.7h0M182.1 557.2h0M210.3 515.8h0M178.6 519.6h0M197.8 525h0M196.1 517.3h0M166.1 543h0M154.9 548.9h0M227.7 536.7h0M190.7 522.7h0M195.4 555.2h0M180.6 508.9h0M163.8 549.7h0M191.8 566.3h0M167.3 550.6h0M183.3 519.4h0M214.5 522.1h0M167.3 531.4h0M186.7 505.1h0M180.8 508.2h0M153.1 538.6h0M171.2 557.1h0M229.1 553h0M161.7 544.4h0M187.1 567.2h0M225.9 519.6h0M172.2 535.3h0M184.9 556.5h0M164.6 561.7h0M202.3 527.4h0M188.4 555h0M225.6 520.5h0M189.4 565.5h0M220.6 521.1h0M219.9 507.4h0M183.7 540.4h0M200.9 543.4h0M209.2 511h0M198 501.7h0M165.7 535.1h0M182 548.5h0M159 536.3h0M186.4 513.1h0M148.6 549.4h0M174.5 557.3h0M198.8 541.8h0M213.9 536.7h0M224.2 539.2h0M192.1 564.4h0M192.6 549h0M214.1 567.9h0M217.3 577.3h0M221.4 567.3h0M232.5 574.7h0M220.3 576.6h0M227.1 571.3h0M224.1 570.7h0M223.6 579h0M241.6 569.8h0M234 568.2h0M215.9 566.9h0M238.1 572h0M231.3 574.3h0M218.2 566.3h0M226.6 576.8h0M219.2 575.8h0M240.1 575.1h0M215.2 565.5h0M236.2 572.9h0M224 578.2h0M220.8 570.6h0M215.3 572.6h0M235.3 571.6h0M237.8 573.3h0M241.4 573.9h0M237.9 567.9h0M244.1 572.8h0M230.5 569.5h0M240.7 573.5h0M230.7 573.2h0M221.3 570.3h0M229.9 571.1h0M223.6 578h0M217.7 569.4h0M218.3 565.1h0M238 571.3h0M216.8 571.6h0M212.8 572.8h0M229.8 574.5h0M219.6 567.8h0M218 576.9h0M238.1 568.4h0M737.3 553.4h0M734.6 553.2h0M748.3 577h0M738.9 548h0M730.8 554.5h0M749.5 562.9h0M738.9 555h0M734.7 550.2h0M736.8 562.6h0M729.9 532.1h0M738.8 567.3h0M741.1 550h0M732.4 551.8h0M743.2 561.3h0M746.6 578.2h0M747.7 576.1h0M740.1 560.6h0M737.9 565.9h0M731.3 545.9h0M743.3 553.7h0M749.6 562.2h0M742.6 554.5h0M752.2 562.8h0M745 576.5h0M734.5 555.3h0M742.8 546.9h0M743.4 559.6h0M738.8 558h0M732.5 557.5h0M734.6 547h0M744.3 550.2h0M733.1 554.8h0M741 558.2h0M742.1 545.1h0M734.2 545.8h0M732.9 541.2h0M738.9 562.4h0M740.7 558.2h0M732.3 557.3h0M739.6 563.1h0M731 545.1h0M735.1 556h0M743.9 572.4h0M735.5 552.7h0M738.9 548.4h0M742.1 550.7h0M742.2 555.9h0M737.4 546h0M737.8 561.4h0M737.7 547.5h0M744.7 572.8h0M748 557.3h0M739.6 564.4h0M741.9 572.2h0M736.9 544.8h0M742.6 557h0M744 550.1h0M743.3 570.5h0M737.5 565.5h0M733 552.9h0M743.7 574.3h0M732.6 557.3h0M739.3 544.4h0M746.5 576.4h0M746.3 561.3h0M735.8 556.4h0M748.9 579.1h0M752.9 561.6h0M731.7 546.1h0M745.5 558.6h0M731.5 541.7h0M745.8 577.2h0M739.8 556.5h0M745.4 557.7h0M746.3 559h0M741.9 548.5h0M748.3 579h0M730.9 544h0M738.9 554.1h0M759.6 581h0M753.6 590.2h0M748 587.7h0M720.4 598.3h0M766.4 597h0M758.4 589.4h0M775.4 581.8h0M748.1 601.9h0M774.4 589.4h0M769.8 591.8h0M764.5 586.8h0M703 582.4h0M751.9 593.8h0M707 587h0M769.5 588.3h0M750.7 585.3h0M750.2 593h0M729.9 592h0M744.2 588.2h0M727.7 594.1h0M748.9 598.7h0M728.4 595.9h0M755.5 603.2h0M756.9 594.8h0M747.8 585.8h0M745 588.4h0M724.7 592.5h0M719.2 592.5h0M753.8 594.7h0M731.5 590.9h0M724.5 597.5h0M766.5 587.4h0M744.3 599.6h0M775 584.1h0M736.1 595.2h0M745.1 603.6h0M723.1 594.1h0M738.1 596.6h0M743.9 589.2h0M766 583.5h0M743.9 592.6h0M748.3 597h0M772.5 585.6h0M711.7 591.9h0M755.8 600h0M762.6 600.7h0M747.4 598h0M759.6 599h0M774.9 583.5h0M729.2 591.4h0M747.8 592.1h0M764.1 580.8h0M733.7 602.3h0M747.9 603h0M726.1 597h0M767.3 583.3h0M756.8 586.2h0M769.5 586.3h0M731.7 601.6h0M732.4 594.2h0M746 600h0M735.5 602.6h0M740.8 602.4h0M759.9 589.8h0M746.9 584.2h0M745.2 594.8h0M746.8 583.6h0M769.5 588.7h0M743.9 587.1h0M730.4 591.2h0M772.4 582.4h0M759.9 602.9h0M752.2 604.1h0M760.7 597h0M736.5 598.2h0M773.1 583.3h0M754.6 597.6h0M744.1 592.1h0M732.1 601.7h0M757.5 597.9h0M759.9 580.8h0M724.4 594.1h0M739.4 600.7h0M722.8 592.1h0M760.4 598.4h0M771.3 593.3h0M745.6 594.8h0M771.5 587.4h0M766.1 592.3h0M759.7 599.9h0M723.5 594.7h0M753.5 591.4h0M741.2 590.7h0M744.9 591.4h0M743.4 605.5h0M707.4 589.1h0M727.1 597.7h0M753.2 600.2h0M754.4 587.6h0M752 600.2h0M754.7 594.9h0M723.8 599.4h0M745.9 602.9h0M766.7 598.2h0M772.4 582.6h0M757.7 595.7h0M739.3 603.2h0M755.6 603.9h0M760.5 580.3h0M731.8 601.5h0M756.1 591.8h0M737.2 594.6h0M749.3 594.1h0M738.6 592.7h0M724.1 593h0M724.1 594.9h0M735.8 595.3h0M760 579.8h0M736.4 603.2h0M772.3 592.1h0M756.3 585.7h0M768.1 592.7h0M759.6 585.5h0M739.7 592.9h0M703.1 582.6h0M726.6 597h0M745.5 597.9h0M771.8 582.2h0M736.4 602.3h0M766.4 594.4h0M735.6 590.6h0M776.3 581.5h0M738.1 599.3h0M758 583.2h0M769.5 582.4h0M753.8 599.8h0M759.1 587.9h0M759.4 588.8h0M736.1 597.2h0M753.7 596.1h0M760.6 599h0M749.2 594.7h0M775.1 585.5h0M751.3 599h0M762.3 592.6h0M766.7 597.1h0M752.6 602.8h0M731.7 600.5h0M748.4 600.9h0M766.1 587.9h0M765.8 588h0M764.7 587.5h0M743.5 595.5h0M727.9 590.2h0M772.8 581.9h0M769.3 597.8h0M740.9 594.2h0M737.6 603.3h0M775.2 582.4h0M761.7 591h0M753.9 593.5h0M758.9 600.9h0M742 600.8h0M752.4 588.9h0M763.7 599.1h0M758 588.3h0M753.2 597.1h0M722 593.7h0M756.4 590.5h0M725.5 599.8h0M750 596.9h0M769.9 583.5h0M757.2 598.9h0M747.4 585.2h0M754.5 603.9h0M767.8 589h0M721.5 597.8h0M771.8 593.3h0M766.4 582.1h0M772.9 585.7h0M763.5 587.4h0M747.6 589.3h0M767.5 582.3h0M716.7 595.3h0M738.9 597.2h0M763.2 597.2h0M749.5 588.9h0M764.5 600.5h0M981.2 738h0M909.8 773.8h0M978.6 768.5h0M944.1 763.1h0M1017.1 724.9h0M1016.7 678.2h0M982 735.2h0M933.8 716.8h0M1006.6 711.1h0M915.3 785.6h0M1017.5 713.2h0M1001.9 662.7h0M987.2 653.7h0M959.8 758.1h0M1013.9 719.3h0M977.5 720.2h0M988.7 674h0M929.9 712.8h0M989.7 757.1h0M910.4 752.2h0M958.6 758.9h0M1032.8 680.1h0M1007 744.8h0M994.1 754.2h0M925.7 782.5h0M971 679.9h0M1008.6 677.4h0M1013.6 690.1h0M972.8 682.6h0M1021.8 730.6h0M937.8 686.7h0M939.1 689.1h0M984.2 749.7h0M906.6 729.3h0M1005.6 653.1h0M1026 712.9h0M954.1 761.8h0M935.6 712.8h0M939 745h0M947.9 711h0M954.5 754.7h0M972.5 697.5h0M1017.8 705.4h0M910.8 742.8h0M945 747.5h0M997.1 722.1h0M992.4 768.3h0M977.6 696.4h0M947.8 675.5h0M951.4 700.7h0M993.9 647.1h0M991.6 646.8h0M926.4 705.7h0M1003.2 669.3h0M987.9 644.7h0M908.5 759h0M977.1 762.1h0M962.3 722.5h0M901.9 777.5h0M941.2 734.9h0M1014.8 700.6h0M945.4 752.6h0M953.6 690.6h0M967.4 728h0M990.5 762.1h0M984.5 678h0M1004.4 754.3h0M1013 655.7h0M953.1 765.6h0M903.2 744h0M961.1 666.1h0M960.8 748.5h0M989.8 731.6h0M975.4 682.6h0M946.8 777.4h0M964.3 683.3h0M962.7 658.1h0M1013.9 670h0M899.3 740.8h0M948.1 696.8h0M902.2 781.6h0M1003.4 682.6h0M984.6 711.1h0M1008.1 676.3h0M984 723.9h0M987.5 644.6h0M1020.3 712.4h0M997.2 755.7h0M927.8 697.3h0M997.2 717h0M1001.4 690.8h0M908.2 782.5h0M993.5 720.3h0M952.2 749.1h0M931.7 743.5h0M1015.3 673.7h0M1020.6 706h0M928.3 697.8h0M979.3 694.8h0M1028 682.4h0M991.3 747.4h0M963.9 753.9h0M1013.5 659.3h0M1011.3 727.6h0M980.2 655.5h0M975.1 684.5h0M930.1 777h0M1016 719.3h0M1018.5 666.6h0M1022 702.3h0M1019.6 730.3h0M944.8 693.1h0M913.2 721.9h0M908.1 773.2h0M933.4 687.9h0M951 710.9h0M1025.2 652.6h0M946.5 720.2h0M968.9 768.7h0M972.3 738.6h0M989.9 695.6h0M958.8 671.9h0M913.6 781.3h0M990.8 658.3h0M1014 701h0M954.8 756.4h0M938.8 740.8h0M1005.5 738.8h0M1001.5 730h0M947.9 777.9h0M923.2 762.2h0M925.6 710.2h0M941.9 727h0M944.8 756.2h0M978 665.2h0M1030.2 661.1h0M993.9 653.6h0M1016.6 688.6h0M984.7 774.5h0M959.8 687.7h0M905.8 738.8h0M990.4 740.5h0M981.7 688.2h0M943.2 772.8h0M1028 681.1h0M1029.2 684.2h0M981.8 718.4h0M958.4 691.5h0M1027 698.6h0M912.9 726.7h0M949.6 687.4h0M961.8 775.9h0M999.9 683h0M912.5 779.3h0M996.9 688.3h0M926.8 745.7h0M1001.5 684.3h0M973 685.7h0M1003.7 710h0M927.8 720.5h0M916.9 744.6h0M1032 675h0M922.2 725.7h0M967.2 668.4h0M991.5 714.9h0M928.6 773.7h0M972.9 756.6h0M1006.1 678.6h0M968.3 748.8h0M978.5 704h0M942.9 695.9h0M963.7 690.6h0M982.7 663.3h0M950.9 776.8h0M967 759.9h0M922.8 760.6h0M921.4 766.5h0M1003.6 741h0M1004.7 688.9h0M985.7 740.9h0M930.3 699.8h0M996 727h0M973.4 660.9h0M917.5 784.1h0M955 758.1h0M976.4 735h0M985.6 725.2h0M995.2 756.2h0M940.3 733h0M927.7 692.7h0M961.9 691.1h0M971.8 758h0M930 771.5h0M1016 657.5h0M920.4 761h0M965.3 734.2h0M966.3 656.9h0M990.5 702.4h0M914.1 785.3h0M942.6 747.7h0M975.6 722.3h0M941.2 709.4h0M972.3 772.5h0M995.1 690.5h0M938.5 699.6h0M982 763.8h0M976.6 657.5h0M978.5 769h0M907.7 730.5h0M929 726.9h0M930.7 718.4h0M923.8 776.1h0M1024.5 716h0M921.4 721.3h0M926 776.1h0M1013.9 659.1h0M918 734.8h0M1016.8 661.2h0M1003 719h0M977.8 664.4h0M990.7 659.4h0M1008.8 755.8h0M1027.5 704.1h0M949.3 769h0M956.3 739.3h0M1001.5 671.3h0M975.7 759h0M1033 677.6h0M944.4 708.4h0M988.9 749.4h0M983.9 650.9h0M967 775.3h0M991.9 659.1h0M916.9 738.8h0M910.1 727.7h0M1019.3 699.6h0M998.4 722.1h0M996.2 655.4h0M950.7 687.8h0M970.5 714h0M997.1 706.9h0M962.8 667.4h0M953.7 674.9h0M957.2 736.6h0M964 674.4h0M1001.4 661h0M974.8 646.7h0M968.3 712.8h0M1006.3 668.7h0M1001 652.6h0M969.2 702.7h0M949.2 711.6h0M944.2 744.1h0M989.9 641.7h0M956.4 684.9h0M988.2 762.4h0M1025.2 721.2h0M900.7 744.8h0M965.9 663.8h0M1011.5 727h0M956.1 696.3h0M1010.1 688.1h0M954 766.7h0M979.6 647h0M983.2 655.3h0M966.6 677h0M1005 724h0M960.2 751.8h0M1022.4 702.1h0M993.9 663.4h0M987.4 697.7h0M1002.7 769.3h0M960.4 667.8h0M954.2 740.2h0M940.6 682.5h0M985.5 773.8h0M959.9 753.5h0M1004.7 704.9h0M909.8 734.4h0M916.1 718.5h0M906.3 783.4h0M984.7 710.8h0M964.4 684.7h0M963.5 740.4h0M904.1 778.5h0M984.1 721.5h0M903.2 780.5h0M950.1 676.7h0M994.3 711.3h0M957.5 774.9h0M1017 719.8h0M1007.6 754.5h0M938.4 780.9h0M902.3 752.9h0M975.3 702h0M976.1 772.9h0M972.9 656.3h0M929.8 691.7h0M945.4 758.1h0M954.4 665.7h0M979.8 712h0M938.1 678.5h0M965.3 771.4h0M955.9 767.2h0M968.1 685.9h0M941.4 772.6h0M1025 677.1h0M902.1 741.1h0M978.7 690h0M931.8 747.4h0M1004.5 662.7h0M943 688.5h0M936.5 752.5h0M1007.1 651.5h0M1005.5 731.9h0M1021.2 699.1h0M968.4 660.4h0M982.5 773.8h0M930.8 709.3h0M963.2 774.9h0M997.1 727.8h0M922.1 739.5h0M966.7 741.1h0M942.7 700.5h0M967.8 756.3h0M970.4 671.3h0M964.5 724.6h0M975.2 735.1h0M990.5 751.8h0M935.3 733.5h0M1020.2 694.5h0M932.6 720.1h0M934.9 778h0M920.1 725.4h0M942.2 743.6h0M993.1 664.4h0M979.7 760.4h0M905 761.5h0M1009.9 687h0M1009.2 742.4h0M944 741.9h0M1006.3 715.6h0M972 670.6h0M962.1 656.9h0M1023.8 720.3h0M978.7 746.5h0M929.9 777.6h0M975.4 730.3h0M945.3 724.3h0M1028.8 665.8h0M927.9 743.3h0M995.6 713h0M1001.6 718.7h0M941 694.8h0M919.1 773.2h0M967.7 761h0M1002.8 662.1h0M940.1 723.6h0M972.1 661.4h0M1018.2 678.4h0M993.4 750.8h0M965.4 674.3h0M912.6 736.3h0M918.4 731.2h0M963.4 755.4h0M1002.3 687.2h0M942.5 720.5h0M972.3 652.5h0M999.4 653.6h0M974.2 661.6h0M1025.6 667.7h0M965.8 705.9h0M998.1 722.9h0M955.9 769.1h0M926.7 717.9h0M907.5 756.5h0M925.8 723.8h0M994.5 653.1h0M981.5 669.7h0M944.7 778.8h0M986.9 666.4h0M982.3 680.1h0M930.4 747.9h0M1003.3 664.5h0M998 698h0M959.6 749.3h0M938.7 711.2h0M971 690.5h0M1030.7 682.5h0M962 707.9h0M955.9 770.1h0M965.1 748.4h0M967.9 773.2h0M1012.3 685.4h0M1007.7 740.8h0M958.3 661.5h0M984.2 768.6h0M950.1 743.7h0M979.9 772.7h0M999.3 683.6h0M982.5 648.2h0M909.6 725.9h0M966.7 765.3h0M978.7 768.7h0M991.6 684.7h0M976.6 749.6h0M968.2 684.2h0M1028.4 697.2h0M959.7 716.9h0M982.4 665.9h0M994.4 706.9h0M1027.9 696.5h0M909.7 775.5h0M936.7 781h0M989 692h0M967 757.9h0M1018.5 661.1h0M968.9 681.5h0M936.5 737.1h0M1031.4 671.1h0M970.2 703.4h0M976.2 689.3h0M1023.9 713.4h0M924 775.7h0M913.3 726.3h0M963.5 768.3h0M1005.9 717.2h0M942.5 687.4h0M1014.4 694.5h0M991.6 683.7h0M929.8 692.1h0M903.4 765.8h0M966.8 692.8h0M983.9 707.4h0M941.7 697.3h0M958.9 685.9h0M948.6 709.2h0M1016.7 709.6h0M1014.3 739.1h0M901.7 764.5h0M943.1 729.9h0M905.6 735.8h0M988.6 692.7h0M943.9 757.1h0M939 718h0M941.4 689.1h0M975.6 764.9h0M1008.6 697.7h0M1010.2 670.1h0M932.7 754.3h0M932.8 703.2h0M970.4 659.1h0M990.4 754.6h0M1008.5 715.3h0M917.9 753h0M984.5 659.1h0M1011.5 745.4h0M976.9 680.5h0M981.3 649.4h0M957.7 723.5h0M992.9 719.2h0M927.4 740.4h0M967.2 738.7h0M941.8 752.4h0M905.9 756h0M928.6 762.4h0M980.6 761.1h0M993.3 667.8h0M999.1 759.6h0M957.9 755.7h0M967.9 651.7h0M948.2 776.2h0M969.4 653.8h0M1003.7 758.1h0M970.8 697.5h0M993.6 646.6h0M1001.8 738h0M961.7 663.9h0M1009.9 728.5h0M933.9 683.1h0M954.8 703.1h0M982.7 666.3h0M981.3 734h0M1003.4 726.6h0M905.1 772h0M987.4 729.1h0M913.4 773.5h0M961.7 699.1h0M1021.4 712h0M943 699.7h0M966.2 730.9h0M995.6 647.2h0M1001.4 745h0M1024.7 692.6h0M915 783.7h0M937.6 764.5h0M937.1 715.7h0M976.2 681.2h0M978.4 728.9h0M959.5 678.5h0M1014.6 654.5h0M963 731.1h0M917.1 769.4h0M988.3 771.1h0M1015.9 661.6h0M944.8 731.2h0M1017.1 673.1h0M976.3 735.2h0M962 732.9h0M904.4 770h0M973.9 731.5h0M986 696.2h0M979.8 698.3h0M999.5 716.2h0M906.7 771.2h0M998.8 702.1h0M954.7 677.9h0M1011.7 673h0M929.7 702.6h0M978.1 664.9h0M1022.3 661.8h0M991.6 715.3h0M1013.5 654h0M917.1 723.3h0M941.6 753.1h0M971.2 662.4h0M986.6 664.8h0M951.2 712.5h0M1011.2 657.1h0M970.1 758.9h0M946.4 737.6h0M935.6 736h0M908.1 781.5h0M991 708h0M983 758.7h0M1020 713.1h0M938.1 743.9h0M909.7 730.7h0M904.7 755.1h0M928.5 706.7h0M1016 750h0M914.1 738.9h0M929.7 731.1h0M962.6 714.4h0M985.4 702.2h0M1005.4 732.3h0M987.5 721.5h0M1024.5 702h0M938.7 731.9h0M968.5 730.2h0M901.2 746.4h0M973.3 733.4h0M930.9 733.4h0M947.7 752.1h0M954.6 731.2h0M991.7 704.5h0M927.9 750.5h0M962.5 717.4h0M944.9 720.7h0M981.8 762.2h0M994.5 721.8h0M1014.4 753.1h0M1004.3 655.4h0M1025.5 707h0M934.8 750.2h0M921.8 731.6h0M905.5 739.7h0M1005.4 747.2h0M971.3 755.1h0M926.7 710.5h0M974.6 681.9h0M942 747.6h0M970.2 746.1h0M974.9 757h0M966.2 750h0M1011.8 678.1h0M1027.8 656.3h0M994.6 673.2h0M952 714.6h0M931.4 683.5h0M966.1 734.9h0M964.7 779.1h0M964.4 656.7h0M914.4 728.4h0M910.7 752.2h0M995 678.1h0M962.1 683.5h0M1010 660.2h0M965.5 700.7h0M1010.6 699.7h0M956.8 696.4h0M953.9 748h0M945.7 718.4h0M955.4 741.3h0M942.6 779.3h0M1032.5 687.6h0M959.2 754.4h0M1000.8 734.1h0M977.8 729.4h0M908.4 733.6h0M981.1 770h0M1003.7 713h0M982.4 681.8h0M979.8 684.6h0M928.7 747.2h0M1021 659.7h0M956.9 740.2h0M1013.9 730.6h0M971.8 650h0M1022.4 682.5h0M985.9 649.8h0M1010.5 669.3h0M991.2 727.4h0M937.9 701.5h0M912.1 780.9h0M924.4 736.7h0M986.8 652.8h0M1003.9 758.3h0M1002.7 655.8h0M906.8 736.8h0M900.5 738.3h0M953.1 742.5h0M945.6 679.2h0M1000.1 691.6h0M936.1 751.4h0M937.7 736.4h0M931.5 711.1h0M982.9 644.3h0M927.5 706h0M1021.3 655.3h0M910.8 723.8h0M969.4 659.5h0M967.7 776.8h0M963.9 706.1h0M943.9 732.3h0M945.5 742.4h0M971.8 729.7h0M1002.6 686.5h0M927.7 744.9h0M978.8 656.2h0M998.8 700.4h0M979.9 684.3h0M989.4 714.6h0M1000.8 751.2h0M1018.2 662.6h0M993.9 703.1h0M1004.9 748.8h0M984.3 772.1h0M903.1 760.6h0M1004.6 710.8h0M903.2 749.7h0M1006.1 720.4h0M976.3 654.9h0M989.3 682.6h0M1010.7 653.1h0M971.1 686.6h0M950.2 713.1h0M918.6 719.3h0M980.5 717.8h0M1022.4 695.7h0M934.9 762h0M962 672.9h0M914.1 733.3h0M918.8 737.4h0M987 735.5h0M940.8 727.1h0M901.9 739.9h0M984.6 648h0M1021.6 669.3h0M993.2 682h0M1026.5 688.2h0M952.3 713h0M936.8 769.7h0M942.8 750.8h0M1000.1 767h0M1022.3 732.7h0M932 765.5h0M965.2 658h0M1019 665.1h0M908.3 738.5h0M975.8 718.8h0M939.6 696.9h0M955.5 774.1h0M973.2 768.5h0M974.6 690.3h0M989.9 644.5h0M947.7 739.3h0M975.1 751.2h0M924.3 763.1h0M959.1 668.9h0M960.3 773.9h0M951.9 671.1h0M998.1 692.4h0M978.7 758.3h0M913.4 736.9h0M907.7 775.9h0M907 765.2h0M1005.3 751.2h0M994.7 726.5h0M989.7 686h0M940.2 715.7h0M995.8 662.3h0M915.5 730.2h0M946.2 775.5h0M982 741.5h0M1014.5 713.8h0M953.6 735.6h0M911.7 754.2h0M983.4 667.8h0M1018.9 663.1h0M1005.3 729.7h0M1005.9 746.5h0M1000.4 718h0M968.4 730.6h0M965 691.8h0M989.8 762.5h0M987.9 649.2h0M951.4 702h0M1033.4 684.8h0M955.6 722.6h0M903.7 779.7h0M1013.1 666.5h0M959.8 746.7h0M929.7 720.5h0M999.8 758h0M1006.8 711.3h0M939.2 701.7h0M993.5 654.1h0M959.5 664.6h0M991.2 759.9h0M991.1 649.8h0M914.8 725.2h0M976.8 728h0M962.8 764.4h0M962.3 770.6h0M958.4 710h0M955.8 674.3h0M954.3 695.8h0M1009.4 688.1h0M999.8 726.8h0M980.7 756.4h0M1019 661h0M978.1 649.1h0M938.2 773.1h0M953.1 700h0M935.5 756.2h0M968.3 711.9h0M1016.2 664.7h0M900.7 771.8h0M1006.4 749.3h0M1008.5 717.4h0M995.6 661.4h0M980.6 700.2h0M972.9 734h0M968.5 778.6h0M919.6 751.4h0M990.9 647h0M954.7 715.5h0M944 716.4h0M935.2 717.2h0M1020.7 709.3h0M950.9 740.4h0M1019.6 658.9h0M1023.7 668.8h0M1021.2 690h0M946.2 682.9h0M1006.6 733.5h0M977.7 762.4h0M981.6 738.3h0M940.4 765.5h0M982.6 729.1h0M936.9 724.5h0M941.7 699.3h0M1027.4 705.9h0M929.4 744.6h0M927.1 744.6h0M961.8 701.8h0M979.6 671.8h0M985.1 773.9h0M1013 663.4h0M1011.8 699.5h0M971.8 729h0M977.1 727.9h0M960.9 678.2h0M927 782.1h0M966.9 679h0M974 686.7h0M955.5 774.9h0M928.3 762h0M958.4 691.8h0M951.7 716h0M942.1 730.2h0M955.6 726.1h0M918.4 716.9h0M1019.2 668.9h0M932.6 696.1h0M973.2 698.1h0M1018.6 675.4h0M931.8 719.9h0M941.7 745.4h0M968.7 764h0M925.9 778.3h0M975.1 702.7h0M1005 749.5h0M982.1 774.1h0M941.8 754.8h0M1009.8 712.5h0M993.9 750.3h0M989.4 764.2h0M906 762.5h0M947.4 718h0M1013.7 683h0M967.2 751h0M971.6 722.4h0M1004.9 693.2h0M922.4 752.2h0M992.3 748h0M1000.8 750.4h0M987.1 690h0M943.9 774.3h0M931.4 701.7h0M980.4 670.5h0M1008.5 700.5h0M1029.7 695h0M951.5 702.3h0M981.4 646.8h0M997.4 691.3h0M946.5 703.1h0M1023 727h0M980 745.3h0M906.5 786.2h0M980.6 722.9h0M994.3 726.6h0M1011.6 716.8h0M938.7 697.3h0M942.4 720.9h0M982 690.9h0M962.3 742.2h0M906.9 742.4h0M1005.3 749.7h0M948.1 761.9h0M927.9 738h0M946.3 772.8h0M937.6 747.3h0M971.5 702.4h0M987.1 733.9h0M941.3 726.8h0M957.1 731.8h0M991.2 656.9h0M935.4 724.8h0M1018.2 704.2h0M1009.4 724.8h0M943.2 697.8h0M904.1 756.6h0M969 768.7h0M1013.4 670.9h0M972 768.8h0M1005.1 671.4h0M958.3 695.8h0M1022.3 722.2h0M1016.7 738.7h0M1003.5 754.4h0M1022.7 654.6h0M982.1 759.1h0M905 761.3h0M945.9 764.1h0M1006.1 710.7h0M981.7 703.2h0M910.5 727.8h0M982.6 651.4h0M963.9 677.3h0M952.1 730.4h0M935.4 691.9h0M902 745.6h0M961.6 698.4h0M948.1 731.6h0M977.5 652.9h0M960.3 775.8h0M941.2 730.4h0M1028.6 690h0M968.2 686.2h0M937.7 706.4h0M988 724h0M910.5 746.7h0M949.8 777.4h0M992.2 646.4h0M1002.4 769.4h0M1010.3 752.6h0M933.7 743.6h0M983.3 647.7h0M1031.6 664.8h0M985.5 686.3h0M964.7 757.2h0M956.4 688.3h0M988.2 765.6h0M1011.1 733.6h0M971.7 737.8h0M937.4 743.8h0M922.2 776.7h0M1003.3 749.3h0M962.5 728.3h0M960.4 737.7h0M954.4 769.4h0M909.6 767.5h0M936.3 685.1h0M919.3 757h0M995.8 674.4h0M994.5 677.7h0M1005.8 650.2h0M1019.1 702.4h0M1020 716.6h0M914.9 753.5h0M996.9 645.1h0M954.1 721.3h0M978.8 775.1h0M963.5 720.2h0M1024.6 718.8h0M961.9 729.2h0M963.2 713.8h0M908.2 782.7h0M988.9 673.3h0M926.9 719.8h0M994.9 694.7h0M964.3 750h0M945.1 747.7h0M921.6 716.2h0M994.2 742.6h0M956 735.9h0M971.4 700.2h0M944.2 709.7h0M981.7 690.9h0M998.4 748.9h0M963.5 720.8h0M1010.5 682.2h0M998.5 700.1h0M1003.6 768h0M910 776.4h0M982.7 747.1h0M927.7 752.5h0M996.5 708.6h0M971.4 656.7h0M969.1 701.5h0M1011.9 747.4h0M997.4 737.3h0M944.3 727.4h0M928.6 773.6h0M951.1 730.5h0M998.8 746.4h0M937.2 718.4h0M941.3 680.6h0M1001.2 660.2h0M924.6 709.4h0M912.9 761.8h0M981.2 772.8h0M937.1 716.7h0M965.2 763.4h0M954.1 734.1h0M908.8 743.9h0M934.6 735.8h0M1025.7 692h0M936.3 716.1h0M934.2 726.5h0M928.7 754.4h0M1028.5 677h0M945.4 703h0M919.1 766.4h0M925.2 745.9h0M968.2 686h0M976.1 725.1h0M1019.4 658.9h0M973.1 678.3h0M921.3 778.4h0M1005.7 675.1h0M1008.8 668.1h0M998.2 682.6h0M1020.2 735.6h0M918.5 775.3h0M954.1 767.8h0M932.7 768.6h0M952.6 708.1h0M959.5 679.2h0M1025.4 661.8h0M953 709.5h0M980.4 764.2h0M999.7 726.5h0M1008.2 750.9h0M926.9 720.8h0M956.4 687.5h0M914.9 748.2h0M951.5 688.8h0M1017.6 670.9h0M903.9 781.1h0M965 681.5h0M1011.6 710.9h0M950.9 713.1h0M980.7 759.2h0M987.2 644.2h0M992.4 691.5h0M969.5 755.1h0M977 723h0M1033.4 675.9h0M994.6 670.8h0M1022.5 654h0M971.8 764.3h0M972.5 777.1h0M1023.4 655.5h0M930.9 747h0M984.1 654h0M948.6 768.7h0M906 739.3h0M999.5 701.2h0M936.3 719.1h0M973.4 675.1h0M924.1 755.8h0M967.9 777.7h0M943.6 695.4h0M996.4 756.1h0M993.1 709.1h0M945.4 779.4h0M970.9 741.8h0M966.4 768.5h0M932.6 729.1h0M990.3 754.1h0M993.7 713.4h0M985.1 760.4h0M927.6 736.1h0M925.2 781.7h0M991.8 769.8h0M1030 697.2h0M921.2 742.3h0M1000.8 754.7h0M943.4 711.5h0M947.1 692.6h0M1009.7 651.5h0M954.8 692.9h0M943.9 741.2h0M977.8 770.2h0M1003.5 753.5h0M979.6 676.5h0M929.5 733h0M985.7 670.5h0M985.7 681.8h0M981.3 722.8h0M1010.9 695.6h0M954.7 765h0M1018.3 720.4h0M957.9 698.8h0M975.1 695.8h0M980 769.5h0M1022.2 695.5h0M1033.6 681h0M929.7 768h0M1019.6 682.9h0M977.6 695.5h0M1022.6 678.7h0M973.2 751.5h0M968.3 768.5h0M947.8 716.3h0M963.4 762.3h0M976.9 708.6h0M998.7 693.3h0M988.1 658.6h0M931.1 714.8h0M995.5 726.9h0M956.8 764.5h0M1015.8 713.3h0M909.2 740.6h0M906.8 759.2h0M956.6 724.8h0M1003.1 735.8h0M1029.3 692.1h0M926.9 752.7h0M918.7 722.3h0M929.2 707.5h0M1021.3 676.2h0M981.3 666.4h0M955.1 771.4h0M940.5 681.3h0M994.5 698.5h0M933.7 696.7h0M1003.9 723.3h0M970.2 662.6h0M972.6 686.5h0M963.5 660.5h0M1023.6 707.1h0M943.2 732.7h0M973.8 662.8h0M1016 733.6h0M1017.2 728.9h0M976.8 706.7h0M942.8 714.7h0M920.9 779.9h0M961.9 674.1h0M923.4 769.9h0M1021.6 719.8h0M988.3 720h0M1021.5 737.4h0M1018.3 742h0M978.4 677.9h0M1012.9 752.2h0M932.3 710.9h0M921.3 752.8h0M999.2 741.8h0M973.1 707h0M932.6 774.4h0M985.8 701.9h0M994.7 670.3h0M1003.3 660h0M977.9 735.6h0M1008.9 694.7h0M950.5 716.6h0M941.7 696.4h0M919.1 748.6h0M994.8 753.1h0M1010.4 696.5h0M944.8 761.6h0M998.9 706.6h0M960.4 729.8h0M978.5 728h0M1000.2 652.2h0M1005.8 649.8h0M922.1 736.7h0M1000.7 769.4h0M927.8 719.1h0M922.6 738.3h0M932.2 774.9h0M1008 755.1h0M1026.5 682.1h0M1022.9 725.6h0M1014 744.1h0M974.7 647.5h0M1022.1 734h0M926 714.1h0M951.2 779h0M920.8 737.7h0M913.2 765h0M954.4 674.6h0M982.2 763.5h0M984.3 654.3h0M987.3 695h0M1009.9 731.3h0M1009.1 691.3h0M915.7 754.4h0M979.1 649h0M1005.9 747.1h0M995.3 754.8h0M966.6 663.9h0M936.2 757.6h0M1019.3 687h0M1011.7 659.5h0M942.7 754.8h0M994.8 666.1h0M1013.2 728.1h0M941.2 697.8h0M941.7 712.8h0M996.4 664.7h0M984.4 648.5h0M942 717.2h0M971.2 671.3h0M964.1 679.7h0M958.2 681.2h0M973.2 728.2h0M1030.5 687h0M613.8 673.8h0M603 662.6h0M634.9 670.4h0M630.2 694.5h0M644.4 689.2h0M592.7 688h0M613.7 671.3h0M634.5 687.7h0M615.9 657.2h0M603.2 672.8h0M629.3 663h0M615.1 691.1h0M628.3 678.7h0M629.2 666.4h0M640.8 688.7h0M588.2 667.5h0M627.4 687.4h0M619.2 659.9h0M627.8 680.4h0M595 668.1h0M608 656.6h0M627.9 702.1h0M621.3 693.5h0M609.4 669.4h0M632.9 689.2h0M615.1 681.1h0M626.9 708.4h0M627.8 661.6h0M641.7 683.1h0M614.6 683.9h0M616.6 670h0M620.3 699.5h0M616 669.2h0M621.4 682.4h0M594.8 679.4h0M604.2 657.8h0M628.1 691.2h0M605.9 698.7h0M644.8 688.2h0M601.2 701.7h0M618 663.8h0M605.4 667.6h0M616.2 699h0M599.3 676.7h0M615 670.2h0M604 698.4h0M606.9 661.4h0M634.9 666.7h0M591.7 676.9h0M618.7 671.2h0M589.2 677.2h0M613.8 655h0M633.5 660.5h0M601.5 665.3h0M621.8 678.3h0M634.7 671.2h0M613.1 671.7h0M604.4 693.8h0M632.1 700.7h0M603.3 688.8h0M624 660.7h0M625.8 685.7h0M614 690.8h0M600.7 664h0M636.9 670.6h0M591.7 679.7h0M604.6 662h0M638.4 662.1h0M648.8 685.6h0M595.8 701.5h0M600 659.1h0M616.4 678.5h0M612 660.5h0M621.6 654h0M621.2 703.2h0M623.6 699.2h0M606.3 678.3h0M610.5 685.5h0M629.8 664.6h0M616.9 693.4h0M602 663.7h0M632 702.6h0M596.9 688h0M595.5 673.2h0M609.6 684.4h0M611.6 662.1h0M609.9 667.7h0M646.2 690.5h0M608.3 679.6h0M608.4 685.3h0M639.7 669h0M605.1 687.5h0M598.9 676.6h0M611.8 659.3h0M597.5 687h0M605.1 657.1h0M623.9 684.4h0M628.8 680.4h0M606.7 674.1h0M639.5 683.9h0M638.1 663.5h0M642.9 669h0M639.7 661.4h0M605.5 651.2h0M640.3 688.7h0M628.6 668.2h0M616.2 693.8h0M605.5 700.2h0M631.6 707.3h0M619.1 672.8h0M619.1 704.2h0M635.9 666.8h0M626.3 688.1h0M605.9 678.4h0M606.8 668.4h0M628 673.6h0M607.3 654h0M624.6 675.3h0M624.1 665.9h0M645.6 689.7h0M611.6 697.6h0M595.4 651.6h0M599 672.1h0M641.1 660.3h0M628.2 671.7h0M627 675.4h0M598.6 671.3h0M603 673.3h0M590.2 682.5h0M588.9 677.5h0M623.2 690.2h0M618.3 680.7h0M619.7 687.5h0M608.8 665.3h0M636.1 685.6h0M603.5 668.8h0M631.6 706.3h0M632.9 687.5h0M621.2 671.4h0M600.4 670.3h0M625 698.6h0M640.8 689h0M590.1 688.6h0M600.1 664.7h0M607.4 680.9h0M631.2 703.4h0M606.8 657h0M609.9 697.3h0M621.3 664.8h0M594.5 653.6h0M626.1 661.8h0M596.7 692.9h0M608.3 658.4h0M617.6 667.1h0M635.9 674.7h0M605.3 696.6h0M627.5 689.9h0M594.5 655.2h0M608 668.3h0M601 658.6h0M600.4 683.1h0M643.2 669.6h0M634.8 679.9h0M599.7 652.3h0M610.2 703.4h0M614 695.2h0M606 664.9h0M629.1 680.7h0M598.7 696h0M623.8 668.9h0M612.2 662.6h0M617.1 700.2h0M628.3 679.4h0M598.5 680.8h0M610.7 696.3h0M616.6 699.4h0M634.5 679.3h0M635.5 687.4h0M623.2 665.6h0M641.5 661.1h0M596.6 658.6h0M622.9 682.8h0M588.9 665.2h0M624.4 698h0M631.1 705.8h0M615.4 696.1h0M593.2 702.3h0M596.7 681.4h0M633.7 707.1h0M589.8 674.2h0M607.5 658.2h0M631.8 684.2h0M625.5 706.8h0M597.9 701.8h0M628 661.7h0M623.6 707.6h0M632.9 684.7h0M620.6 671.6h0M599.8 703.4h0M644.6 686.7h0M621.6 706.1h0M612.2 663.4h0M619.1 702.1h0M628 691.9h0M630.2 667h0M637.8 682.9h0M593.5 656h0M591.4 672.7h0M594.8 681.5h0M602.9 689.3h0M608.3 669.5h0M613.8 657.7h0M603.1 658.5h0M618.5 699.3h0M630.5 683.6h0M619 659.1h0M602.8 682.8h0M600.8 687.4h0M635.5 707.1h0M633.5 676.5h0M635.3 668.5h0M602.8 703.1h0M605.6 664.1h0M647 683.3h0M593.2 676h0M602.3 676.7h0M609.3 683.7h0M604 676.9h0M618.4 669.4h0M630 697.4h0M618.5 697.7h0M606.5 650.9h0M606.2 670.5h0M628.7 702.4h0M622.3 697.1h0M598.7 655.9h0M613.8 694.2h0M602.3 673.6h0M625.5 659.2h0M614.8 680.5h0M591.8 673h0M624 662.9h0M610.9 668.8h0M643.3 686.7h0M593.3 668.9h0M621.5 687h0M592 669h0M588.8 667.3h0M603.9 678.6h0M631.4 675.7h0M616.3 678.6h0M606.9 650.5h0M607.1 673.5h0M587.3 680.8h0M589.7 682.3h0M602.6 691.4h0M612 662.1h0M631.3 666h0M609.8 695.9h0M614.3 701.7h0M598.7 657.9h0M596.3 659.5h0M596.6 680h0M616.4 703.6h0M621 703.1h0M605.1 700h0M610.1 698.5h0M599 653.2h0M614.8 696.8h0M644.9 686.5h0M611.2 667.4h0M603 670h0M600.5 697.7h0M644.3 685.5h0M645.1 684.9h0M612 692.2h0M626.2 675.6h0M602.2 677h0M631.9 681.9h0M629.4 660.1h0M585.7 679.5h0M599.6 687.6h0M647 682.3h0M630.1 670.4h0M589.5 685.8h0M605.8 658h0M634.4 668.6h0M611.7 697.5h0M622.9 667h0M596.2 661.3h0M604.5 666h0M641.5 685.5h0M627.6 684.4h0M602.9 699.3h0M622.2 671.1h0M617.5 675.4h0M609.3 657.9h0M623.7 673.9h0M598.7 659.7h0M595.8 646.6h0M630.3 669.1h0M633.3 665.8h0M638.7 659.2h0M630.7 702.2h0M630.3 684.6h0M606.7 660h0M601.8 656.2h0M595.8 700.8h0M636.5 664.2h0M603.9 655.6h0M613.2 685.6h0M593.2 647.5h0M632.1 681.3h0M613 683.4h0M609 659.7h0M600.8 698.8h0M622.5 669.5h0M596.9 662.2h0M601 676.4h0M587.8 679.2h0M624.7 692.8h0M621.2 693.5h0M595.6 698h0M598.5 667.1h0M632.8 666.1h0M596.5 657.3h0M599.4 685.2h0M600.2 681.1h0M634.9 666h0M633.5 705.6h0M620.3 675.3h0M668.6 714.8h0M670 730.3h0M669.4 729.8h0M665.4 712.6h0M666.3 720.2h0M669.2 711.7h0M666.3 718.1h0M667 714.9h0M664.5 707.1h0M664.8 704.9h0M665.1 721.6h0M666.6 717.8h0M657.9 698.9h0M662.7 714.3h0M667.4 720.6h0M663.5 705.8h0M662.3 723.8h0M663.2 718.8h0M670.5 733.7h0M665.7 724.8h0M659 703.8h0M667.6 719.4h0M670.9 734.5h0M668.9 730.3h0M655.5 697.2h0M668 720.6h0M663.6 724.6h0M669 714.2h0M665.3 728.8h0M668 723.4h0M661.3 709.2h0M662.1 709.3h0M342.5 849.7h0M321.2 793h0M333.4 741.2h0M362.8 827.1h0M306.8 836.8h0M330.8 797.9h0M320 739.7h0M383.3 829h0M337.4 771.2h0M346.3 771.8h0M322.4 820.4h0M328.1 788.2h0M356.8 826.7h0M358 767.2h0M343.9 720.8h0M374.7 774.3h0M353.3 801.3h0M345.9 757.9h0M378 788.6h0M337.5 731.5h0M341.4 738.6h0M380.1 822.4h0M366.2 807.5h0M321.7 735.1h0M378.2 827.8h0M328.2 847h0M340.6 820h0M325.1 787.5h0M354.4 758h0M346.2 788.3h0M309 839h0M312.5 833h0M312.4 815.3h0M329.4 807.9h0M342 784.6h0M361.6 837.8h0M338.2 831.3h0M362 823.2h0M320.5 796.5h0M343.8 733h0M339.3 784.2h0M335.8 844.1h0M359.5 807.4h0M334.8 819h0M352.8 756.1h0M330.8 742.7h0M344.4 849.6h0M330 779.5h0M323.2 800.5h0M357.2 798.4h0M312.8 848.4h0M375.7 781.1h0M342.3 807.6h0M356 765.1h0M287.8 829.8h0M321.1 795.7h0M350.1 756.4h0M328.6 803h0M365.4 841.3h0M343.5 766h0M320.7 814.6h0M360.2 812.2h0M327.4 830.2h0M347.1 824.3h0M384 818.7h0M364.1 760h0M360.8 847.6h0M357 761.3h0M345.8 772.9h0M333.7 843h0M347.3 851.3h0M308.1 837.2h0M355.7 813.6h0M303 849.9h0M323.5 788h0M360.7 784h0M348.5 789.6h0M315.6 814.1h0M296.9 851.7h0M355.9 830.6h0M368.2 809.7h0M304.9 840.1h0M365.1 769.6h0M367 791.6h0M331.1 783.4h0M325.4 771.2h0M334.6 734.5h0M313.2 799.9h0M332.2 724.1h0M335.1 786.6h0M332.2 849.4h0M345.5 783.6h0M366 816.9h0M304.6 825.7h0M364.7 754.4h0M335.7 806.3h0M355.6 807.5h0M355 748.4h0M334.3 787.8h0M352.5 786.2h0M332.3 857.1h0M377.3 800.8h0M349.2 836h0M334.5 731.3h0M375 811.8h0M309.9 857.2h0M298.2 830.1h0M333.7 760.3h0M368.6 785.5h0M327.9 735.4h0M365.3 756.9h0M367.6 810.2h0M383.4 837.1h0M380.7 803.3h0M328.8 811.3h0M328.5 777h0M340.2 831.3h0M304.2 816.1h0M345.2 731.7h0M338.8 805.3h0M336.8 748.5h0M328.2 763.4h0M347.3 724.9h0M312.5 842.7h0M357.3 805.4h0M331.8 747.4h0M323.5 860.3h0M376.1 800.9h0M368.1 800.6h0M359 841.4h0M346.7 739.8h0M346.1 779.3h0M336.8 771.3h0M348.3 807.8h0M357.6 821.6h0M385.9 836h0M361 757.6h0M323.6 795.4h0M289.8 820.1h0M310.8 801.4h0M367.6 761.2h0M353.3 755.3h0M357 769.6h0M312.8 823.8h0M374.9 788.3h0M311.5 842.8h0M367.6 780.8h0M324.1 822.1h0M325.3 858.8h0M330.1 777.1h0M380.6 808.4h0M341 789h0M340.8 844.3h0M311.5 799.9h0M342.9 827.8h0M342.7 722.5h0M351.8 842h0M359.8 787.1h0M311.5 828.2h0M323.2 781.5h0M362.9 788.8h0M357.3 793.3h0M364.8 773.9h0M333.9 790.5h0M291.4 823.8h0M328.8 739.7h0M368.5 783.5h0M351.1 729.8h0M315.4 802.8h0M345.7 845.3h0M319.9 809.2h0M313.6 818.2h0M341.6 774.2h0M329.2 842.6h0M352 767.4h0M335.3 850.2h0M338.4 779.6h0M302.6 848.2h0M287.8 825.7h0M345.7 825h0M338.8 757.1h0M310.1 851.3h0M319.8 744.9h0M318.5 822.4h0M349.9 815.1h0M345.5 721.9h0M339.3 764.1h0M339.1 819.9h0M333.8 805.2h0M342 860.1h0M358.3 813h0M344 734.1h0M328 735.7h0M297.2 855.1h0M362.7 761.5h0M372.2 835.2h0M330.7 793.3h0M341.9 785.2h0M307.2 807.6h0M343.9 835.3h0M346.7 819.1h0M325.5 824h0M333.6 737.3h0M382.4 801.2h0M335.6 723.2h0M310.9 825.6h0M382.5 818.3h0M375.1 840.8h0M350.3 772.2h0M333.3 745.4h0M368 765.9h0M348.3 810.7h0M289.6 821.4h0M332.7 752.1h0M343.1 788.9h0M357.4 779.8h0M322.9 803.1h0M341.3 768.2h0M324.5 829.9h0M326.7 791h0M359.4 851.2h0M341.5 768.5h0M348.2 836.9h0M325 809.4h0M376.8 809.2h0M363.7 769.8h0M310.6 845.8h0M367.3 820.3h0M376.2 777.6h0M311 856.7h0M319.8 823.8h0M349.8 734.7h0M344.4 770.9h0M322 731.4h0M312.9 857.7h0M292.5 844.5h0M338.4 727.1h0M363.4 838.8h0M308.5 833h0M333.2 851.5h0M373.2 827.5h0M305.3 814.3h0M338.8 770.8h0M327.9 831.5h0M307.6 853.6h0M339.8 846.3h0M339.7 726.4h0M346.4 741.8h0M341.6 761.4h0M362.3 771h0M338.8 815.1h0M311 793.1h0M338 739.3h0M353.1 855.1h0M345.9 849.4h0M345.7 779h0M335.1 839.2h0M367.9 796.6h0M346.3 762.1h0M337.9 784.5h0M306.7 846.2h0M360.1 776.5h0M344.9 844.6h0M315.3 858.9h0M344.5 744.8h0M344.9 809.4h0M365.8 829.2h0M356.3 759.4h0M328.6 744.2h0M354.4 838.2h0M341.8 782.4h0M306.7 836.3h0M319.4 837.2h0M340.6 747.3h0M292.2 848.1h0M368.4 796.7h0M340.8 832.6h0M335.7 757.3h0M375.1 819.2h0M344.4 775.8h0M321.2 792.6h0M373 802.8h0M301.3 839.1h0M325.1 732.4h0M327.7 727.9h0M362.4 834h0M350.3 792.2h0M335.7 821.9h0M336.5 788.4h0M296.8 845.6h0M311.3 836.2h0M346.1 782.8h0M314.4 845.1h0M364.3 764.7h0M366.7 843.6h0M367.1 773h0M331.7 755.7h0M307.6 806.5h0M365.1 791.7h0M343.5 752.6h0M377.8 814.5h0M332 726.8h0M385.4 835.1h0M340.2 819.9h0M364.8 772.5h0M321 745.8h0M322.5 788h0M307 822.3h0M337.6 822.3h0M347.4 841.2h0M290.7 847.2h0M368.8 783h0M361.9 787.9h0M298.9 850.3h0M321.5 859h0M361.7 779.1h0M323.5 844.2h0M364.7 805.3h0M359.1 758h0M335.2 783h0M330.7 756.2h0M342 768.4h0M379.2 812.7h0M333.4 766.7h0M368.1 813.3h0M308.6 813.7h0M363.9 818.8h0M353.3 797.4h0M342 719.9h0M372.2 783.3h0M353.7 805.8h0M321.5 754.9h0M345.8 812.3h0M345 752.3h0M347.7 802.6h0M299.8 815.7h0M330 829.2h0M355.2 821.7h0M334.5 739.1h0M298 815.2h0M309.2 791.9h0M338.3 845.1h0M307 858.5h0M344.7 778.7h0M309.3 857.7h0M342.5 822.9h0M334.3 741.3h0M374.2 771.4h0M329.5 745.4h0M355.3 803h0M336.2 720.2h0M369.9 823.1h0M339.9 741.6h0M367.1 776.9h0M340.9 805.4h0M329.9 724h0M376.9 834.8h0M361.7 786.6h0M292.8 840.2h0M339.2 817.5h0M357.8 852.6h0M359.4 802.6h0M378.3 814.6h0M379.5 824.6h0M335.4 801.2h0M298.6 829.5h0M289.7 821.7h0M325.6 799.3h0M357.4 762.7h0M360.9 752.2h0M336.5 797.9h0M325 796.1h0M367.5 799.6h0M327.6 807.6h0M348.1 735.1h0M306.7 810.8h0M327 833.9h0M368.7 808.8h0M353.7 771.6h0M378.6 804.1h0M323.2 858.9h0M373.2 786.2h0M361.1 790.7h0M348.4 826.2h0M362.5 763.3h0M353.9 828.5h0M305.5 785.6h0M330.9 789.3h0M311.8 807.9h0M364.9 803h0M384.8 828.1h0M374.4 774.3h0M343.9 751.1h0M349.5 796.8h0M383.3 826.8h0M306.6 837h0M382.6 829.4h0M331.3 749.1h0M321.7 748.9h0M297.9 847.5h0M314.3 835.5h0M322.1 811.2h0M354.6 757.7h0M381.2 823.2h0M365.4 786h0M343.8 800.9h0M349.8 804.9h0M366 792h0M362.7 822.7h0M367.2 806.2h0M355.8 846.6h0M348.4 773.4h0M341 793.1h0M369.2 832.2h0M330.9 847.7h0M360.8 763.2h0M340.5 819.2h0M380.5 796.5h0M309.7 853.1h0M323.9 826.5h0M293.2 839h0M360.4 780.1h0M373.5 772.6h0M330.8 823.8h0M308.1 809.3h0M364 804.2h0M354.3 853.7h0M295.2 838.4h0M301 836.7h0M340.9 742.1h0M346 854.7h0M338.9 849.1h0M340.1 776.5h0M346.4 736.5h0M361 790.1h0M352.4 749.7h0M351.4 785.3h0M345.2 757.8h0M323.6 827.6h0M337 754h0M324.2 819.9h0M342.8 732h0M332.2 862.5h0M345 764.9h0M340.4 734.3h0M352.9 785.5h0M297.6 834.9h0M317.9 838.2h0M346.5 766.7h0M360.6 802.7h0M347.2 817h0M327.6 815.7h0M332.7 785.7h0M364.6 809.7h0M318.3 854.5h0M319.6 839.5h0M351.5 793.2h0M342 745h0M318.9 794h0M340.8 758.7h0M297.6 846.8h0M357.3 842h0M337.1 726.7h0M325.8 818.3h0M332.4 734.6h0M323.1 783.2h0M383.5 822.6h0M343.8 761.8h0M303.3 831.6h0M347.3 841.9h0M351.3 769h0M370.5 797.9h0M340.2 766.9h0M362.9 824.6h0M326.1 750.5h0M346.5 804.7h0M340 837.2h0M328.1 790.5h0M316 789.6h0M368.5 802.6h0M316.1 857.7h0M303.6 809.5h0M352.3 729.4h0M349.6 726.8h0M330.3 826h0M335.4 813.4h0M324.5 807.4h0M320.3 846h0M320.8 829.4h0M332.9 767.9h0M360.3 827.1h0M340.3 835.8h0M335.7 771h0M353.6 824.4h0M358.9 779.3h0M318.4 829.9h0M338.2 754.8h0M344.4 733.4h0M324.4 833.6h0M340.7 779.5h0M358.1 817.6h0M326.5 763.6h0M352.9 761h0M301.1 842.6h0M350.8 742h0M346.5 842.4h0M316.4 860.3h0M338.7 790.9h0M338.9 856h0M339.3 797.1h0M341 847.9h0M359 796.6h0M372.7 813h0M337.5 807.3h0M337.7 831.1h0M377.1 812.7h0M369.5 808.8h0M370.4 821h0M347.5 833.9h0M333.8 782.5h0M326.5 763.9h0M345.5 746.4h0M305.5 806h0M337 737.4h0M300.6 829.4h0M352.6 820.5h0M319 806.2h0M319.3 779.4h0M336.3 749.2h0M338.9 809.3h0M373.1 819.4h0M328 807.1h0M325.9 837.9h0M379.9 802.3h0M309.3 789.1h0M336.5 819.1h0M300.8 841.3h0M326.4 788.2h0M311.2 843.6h0M291.5 848.4h0M339.1 761.8h0M332.3 859.1h0M365.1 839.6h0M378.8 832.6h0M348.9 821.5h0M307.6 849.7h0M319.4 809.8h0M380.1 806.1h0M350.9 856.2h0M318.6 814.1h0M313.8 824.6h0M340.3 834.6h0M293.1 834.9h0M321.7 784.5h0M359.3 827.3h0M316 815h0M339.7 861.9h0M337.6 823.8h0M307.5 785.2h0M336.8 787.7h0M338 732.4h0M344.1 795.8h0M352.7 822.2h0M347 833.1h0M336 803.8h0M310 849.4h0M311.1 850.1h0M361.3 806.3h0M349.3 728.3h0M339.6 720.6h0M333.2 776.8h0M345.1 807.4h0M332.8 827h0M341.2 814.9h0M332 727.8h0M329 739.5h0M346.8 842.4h0M330.9 723.1h0M365.9 788.1h0M321.7 852.1h0M312.7 809h0M361.9 811.5h0M350.9 833.8h0M381.4 800.1h0M339.8 792.6h0M332.1 815.3h0M371.6 840.1h0M303.3 846.9h0M324.9 790.2h0M335.3 779.4h0M338.6 786.8h0M363.8 830.5h0M338.8 819.5h0M303.5 856.5h0M362.8 821.6h0M331.2 788.7h0M350.1 828.3h0M304.8 845.3h0M356.8 767.2h0M341.6 828.6h0M372.7 842.2h0M315.4 798.6h0M382.7 831.5h0M349.4 723.3h0M313.9 856h0M311.4 784.2h0M320.5 832.9h0M331.9 857.9h0M329.2 793.1h0M347.1 830.4h0M376.8 840.3h0M354.7 813.3h0M323.1 745.8h0M323.4 732.1h0M353.2 796.2h0M319.1 742.4h0M376.6 840.5h0M338.5 754.8h0M386.6 828.9h0M332.3 761.2h0M312.1 800.3h0M360.1 811.1h0M349.6 859.2h0M338.4 744.3h0M333.3 778.7h0M343.6 760.2h0M340 802.5h0M373.3 777.6h0M350.7 729.1h0M322.7 858.3h0M334.3 757.7h0M365.8 784.1h0M328.7 753.3h0M338.5 780.4h0M336.9 774.6h0M347.7 762.9h0M344.8 784.6h0M325.4 743h0M299.6 835.6h0M371.2 824.6h0M335.3 809.5h0M355.5 847.3h0M336.3 819h0M354.9 815.7h0M300.4 817.7h0M348.8 761.6h0M339.7 790.1h0M316.7 801.3h0M344.8 814h0M363.9 798.7h0M340.8 839.9h0M317.2 800.3h0M323.9 788.6h0M357.8 811.6h0M350.8 780.1h0M299.8 836.4h0M366.2 821.3h0M378.1 820.5h0M288.4 828.8h0M318.3 792.5h0M302.3 838.3h0M349.3 805.1h0M315.1 800.4h0M303.5 824.7h0M358.1 776.6h0M337.6 784.5h0M331.6 775.1h0M346.2 816.7h0M335.7 750.3h0M367.4 764.7h0M376.5 783.9h0M342.9 797.3h0M340.7 732.1h0M350.1 789.2h0M343.3 771.6h0M330.8 738.7h0M307.3 834.9h0M368 781.9h0M372.6 771.1h0M373.9 833.5h0M351.1 845.2h0M308.5 815.5h0M365.8 794.9h0M369.5 820.6h0M310.8 816.5h0M362.3 813.2h0M332.5 828.2h0M370.6 790.7h0M318 797h0M305.4 850.5h0M383.8 826.2h0M387 838.3h0M348.8 818.1h0M342.2 848.4h0M312.7 834.5h0M357.9 779h0M376.9 822.9h0M373.5 799.2h0M319.2 781.3h0M325.8 754.5h0M318.9 780h0M338.3 782.2h0M367.9 792.1h0M317.5 806.5h0M359.1 811.4h0M325.9 745.8h0M322.7 735.8h0M306 856h0M303.9 853.4h0M329.2 864.9h0M317.4 844.5h0M342.2 816.2h0M310.2 818.8h0M324.6 810.4h0M352 831.7h0M339 758.2h0M341.8 724.5h0M376.1 832.5h0M326.3 855.5h0M378.2 801.7h0M317.7 836.3h0M344.7 835.3h0M340.9 786.5h0M350.5 760.6h0M296.7 846.9h0M325.5 772.7h0M323 729.4h0M382.6 793.9h0M319.4 800.8h0M335.8 793.9h0M328.7 821.5h0M332.2 853.6h0M388.7 829.1h0M347.9 849h0M338.6 725.8h0M304.1 831.3h0M357.8 828.9h0M361.7 809.1h0M328.7 769.7h0M344 755.3h0M366.4 769.2h0M341 804.1h0M361.5 793.9h0M327.9 745.8h0M309.2 830.6h0M353.7 810.8h0M374.6 772.3h0M324.4 861.7h0M322.2 756.2h0M384.7 827.4h0M334.4 814.4h0M340.1 834.1h0M355.4 810.6h0M297 816.1h0M372.9 776.5h0M360.6 778.5h0M314.2 852.1h0M347.1 730.5h0M349.3 729.6h0M342.8 805h0M365 776.5h0M298.8 851.5h0M352.3 817.2h0M337.2 856.1h0M341.4 753.6h0M334.5 825h0M334.2 782.7h0M357.5 805.7h0M312.6 844.6h0M353 816.8h0M367.5 806h0M362 834.5h0M292.4 819.2h0M324.6 846.7h0M337 790.7h0M345.6 748.5h0M325 845.2h0M309.9 846h0M313.5 804.7h0M300.2 815.3h0M337.8 760.9h0M314.7 808.6h0M329.8 789.4h0M293.2 832.3h0M349.8 752.3h0M312 855.6h0M361.1 759.1h0M296.3 832.3h0M357.7 803h0M320.1 864.6h0M357.9 771.7h0M318.5 732.2h0M310.1 809.9h0M312.5 822.8h0M355.4 841.6h0M342.8 833.2h0M342.9 741.5h0M344 840.2h0M372.2 776.9h0M370.9 763.8h0M346 820.1h0M358.3 826h0M358.5 755.8h0M374.2 828.4h0M372.8 796h0M351.4 847.1h0M323.6 795.8h0M336 764.4h0M338.2 805.7h0M321.8 747.8h0M355 843.7h0M356.7 842.4h0M372.2 793.8h0M331.1 845.6h0M318.1 848.4h0M359.3 816.7h0M370 793.7h0M323.7 821.7h0M303 826.3h0M296.3 855.2h0M320.2 820.3h0M331.7 794.4h0M296.4 845.1h0M352.7 826.3h0M315.7 821.6h0M338.5 762.9h0M296.4 829.5h0M353.1 806.4h0M347.5 762.8h0M310.9 858.3h0M330.5 736.5h0M378.5 822.7h0M311 849.7h0M341.5 728.9h0M288.9 829.5h0M363.1 836.6h0M297.1 851.9h0M302.6 811.7h0M325.6 814.5h0M339.4 814.6h0M345.1 855h0M363.8 776h0M363.6 819.6h0M311.7 820.6h0M344.6 743.9h0M343.8 798.8h0M339.1 840h0M358.1 851.5h0M302.4 846.8h0M329.6 848.6h0M314.3 857.1h0M291.4 839.9h0M337.8 798.3h0M325.9 764.8h0M361.2 778.1h0M348.1 726h0M313.8 829.4h0M342 832.6h0M305.7 841.5h0M334.3 809.7h0M338.6 825.6h0M340.6 747.8h0M334.2 801.5h0M302.1 837h0M366 815.4h0M359.6 850.3h0M358.1 836.3h0M306.5 858.4h0M359 773.8h0M370.3 821.7h0M299.7 848.5h0M360.8 786.2h0M368.1 788.8h0M293.2 820.4h0M337 793.9h0M318.1 818.1h0M366.3 778.3h0M333.8 795h0M372.2 768.8h0M289.7 833.2h0M322.3 744.1h0M343 765.2h0M330 821.4h0M334 772h0M302.2 843h0M338.3 854.3h0M324.6 816h0M338.6 837.5h0M339.6 859.3h0M342.8 736.4h0M353.4 810.7h0M358.3 821.7h0M346.7 768.2h0M352.4 798.3h0M355.4 770.3h0M371.3 773.6h0M301.4 854.2h0M296.5 815.7h0M326.3 782.8h0M318.7 731.9h0M315 787.5h0M327.7 852.2h0M384.5 823.7h0M339.4 847.6h0M377.6 797.3h0M374.7 818.9h0M342.1 775h0M340.2 753.5h0M327.2 762.2h0M372.1 768.2h0M342.3 777.6h0M354.6 826.4h0M318.6 859.9h0M334 777.2h0M290.2 820.3h0M352.9 814h0M332.6 722.3h0M296.4 819.3h0M308.3 837.1h0M322.1 826.6h0M347.4 848.6h0M317.9 852.8h0M308.1 843.7h0M371.4 823.1h0M319.4 785.4h0M356 782.7h0M316.2 843.6h0M299.8 834.7h0M323.7 810h0M370.7 806.2h0M336.6 765h0M358.4 826.3h0M370 784.1h0M364.8 776.7h0M319.8 849.9h0M381.8 838.6h0M315.6 786.5h0M355.9 823.8h0M327.3 789.5h0M335.7 795.5h0M324.4 726.9h0M306.4 839.3h0M359.5 797h0M334.8 787.6h0M319.8 788.7h0M352.5 798.9h0M352 785.4h0M304.4 815.3h0M342.2 795h0M325.1 792.9h0M359.3 767.4h0M345.2 788h0M315.7 806h0M330.2 796.9h0M318.8 796h0M349.4 803.4h0M317.6 813.1h0M330 856.4h0M322 738.4h0M330.3 764.1h0M371.3 827.8h0M364.9 814.9h0M324.7 727.4h0M306.9 841h0M323.4 827h0M358.4 761.2h0M336.5 820.7h0M338.8 757.6h0M368.8 781.3h0M334.8 792h0M321.8 857h0M366 843.4h0M376.2 825.3h0M345.2 812.2h0M373 792.1h0M362.5 760.5h0M335.7 826.2h0M316.7 819.8h0M338.9 798.7h0M294.4 831.7h0M344.2 778.1h0M309.4 848.9h0M303.5 859.3h0M369.8 809.3h0M307 837.4h0M373.1 826h0M343.8 725.6h0M287.9 822.4h0M365.5 780.2h0M352.1 771.2h0M355.8 856.3h0M288.6 823.6h0M345.1 739.1h0M383.3 832.8h0M308 831.7h0M334.1 782.4h0M292.9 825.2h0M327.4 852.8h0M374.1 794.1h0M297.3 848.4h0M339.2 796.6h0M335.6 801.2h0M379 818.9h0M290.4 833.5h0M354.3 777.2h0M384.6 829.3h0M339.4 755.1h0M299.2 829.3h0M360.5 847.1h0M332.7 725.9h0M324.5 855.8h0M307.5 851.5h0M346.7 828.5h0M325.5 847.6h0M332.2 748.1h0M353.4 812h0M330.6 754.8h0M349.5 747.1h0M362.4 788.8h0M349 847.6h0M327.4 805h0M348.7 847.7h0M377.8 814.5h0M346.5 734.1h0M324.1 748.8h0M309.7 786.8h0M324.2 730h0M322 814.5h0M350.9 842.8h0M349.3 776.4h0M350.7 859.2h0M335.2 779.2h0M382.3 832.8h0M335.8 773h0M302.1 822.4h0M376.7 775.7h0M308.5 829.5h0M305.3 859.6h0M332.9 735.5h0M365.4 808.4h0M357.6 831.6h0M302.1 842.3h0M324.8 841.3h0M315.3 796h0M333.1 795.5h0M357.6 846.9h0M331.9 832.4h0M354.7 753.4h0M320.3 734.8h0M327.6 775h0M295.2 828h0M346.5 851.9h0M367.2 770.2h0M331.5 769.9h0M382.9 805.2h0M321.9 791.7h0M338.9 843.7h0M316.4 835.7h0M357.5 809h0M357.5 846.5h0M368.6 809.2h0M330.1 797.5h0M340.6 819.6h0M323.7 833.4h0M358.6 783.5h0M374 784.1h0M304.2 810.5h0M325.2 862.9h0M301.5 824.7h0M355 841.8h0M349.6 735.1h0M364.8 795.4h0M331.1 849.8h0M357.4 836.5h0M342 781.5h0M299.2 850.1h0M324.9 804.3h0M331.4 814.8h0M349.6 792.5h0M306 855.9h0M383.9 833.9h0M322.6 729.9h0M347.8 819.4h0M347.4 846.8h0M345.2 812.1h0M363.8 832.8h0M347 748.1h0M370.2 839.5h0M372.4 824.6h0M346.7 830.1h0M332.3 854.7h0M357.6 776.6h0M310.6 807.2h0M335.3 759.1h0M299.8 851.2h0M352.6 810.1h0M365.2 828.1h0M349.6 818.3h0M375.6 799h0M355 783.5h0M366.5 788.8h0M326.6 788.4h0M360 836.3h0M334.2 751.9h0M286 821.6h0M342 846.5h0M297.9 815.5h0M331.5 747.2h0M327.1 759.3h0M329 771.3h0M376.6 835.3h0M378.5 802.3h0M336.2 727.6h0M366.5 770.6h0M344.1 755.5h0M340.2 809.3h0M360.8 764.9h0M325 806.6h0M309.5 816.6h0M437.2 839.4h0M456.2 860.6h0M435.1 846h0M485.1 869.5h0M448.6 854.1h0M469.4 850.4h0M491.5 866.5h0M473 861h0M462.2 847.6h0M468.8 860.9h0M494 867.8h0M431.8 831h0M452.9 851.8h0M426.1 826.7h0M461.6 859.4h0M427.5 834.4h0M445.6 852.4h0M492.5 874.6h0M461.9 849.6h0M435.7 834h0M434.3 833h0M430.2 832.3h0M415.4 826.8h0M470.6 854.4h0M420.8 831.1h0M443 840.7h0M430.3 831.6h0M483.5 866.1h0M455.8 847.7h0M491.2 869.3h0M465 854.5h0M481.4 870.8h0M480.1 875.8h0M463.5 852.6h0M458.3 864.2h0M431.8 828.9h0M495 874.9h0M476.8 872h0M506.5 878.8h0M476.3 870.9h0M492.3 872h0M484 874.7h0M458.9 859h0M452.7 844.7h0M484.6 875.5h0M468.6 859.4h0M485.7 866.4h0M462.4 857.6h0M465.5 865.1h0M432.2 842h0M480.9 874.1h0M471.1 854.8h0M451.8 858.4h0M492.5 884.9h0M492.7 880.9h0M425 825.1h0M420.5 832.2h0M493.8 882.4h0M468.2 866.1h0M457.4 850h0M461.7 843.8h0M465.6 846.2h0M452 853.9h0M460.1 866.8h0M441.4 843.3h0M486.3 873.3h0M490.7 873.5h0M445.2 856.4h0M446.7 841.3h0M495 873.2h0M491.8 867.5h0M417.2 820.6h0M436.5 846.5h0M483.1 880.3h0M475.4 873.5h0M487.9 872.6h0M479.6 870.5h0M455 861.2h0M420.8 830.1h0M433.2 840.5h0M480.9 877.6h0M490.6 879.4h0M491.5 872.8h0M488.2 868h0M430.2 838.3h0M496.9 880.2h0M448.6 858.7h0M486.5 872h0M507.7 875.9h0M459.6 866.1h0M415.2 824.8h0M487.4 879.7h0M459.1 860.1h0M418.5 830.9h0M439.7 842.1h0M481.7 878.3h0M499.4 883.5h0M465.9 856.9h0M472.9 866.5h0M466.4 857.4h0M461.2 856.7h0M467.7 860.7h0M489.6 875.5h0M461.6 849h0M462.6 846.4h0M479 872.8h0M463.8 867.1h0M487.7 880.3h0M416.2 832.5h0M491.2 867.6h0M444 841.7h0M432.5 830.9h0M494.7 874.1h0M458.4 861.5h0M446.5 840.3h0M422.4 827.2h0M488.9 880h0M475.8 870.3h0M460.6 846.2h0M461.5 856.1h0M465.7 851.6h0M500.3 879h0M505.2 875.6h0M463.6 866.4h0M421.9 833.8h0M420.4 824.3h0M478.3 871.1h0M448.1 851.8h0M423.9 829.6h0M435.7 842.4h0M417.5 829.7h0M422.6 831.1h0M455.7 860.8h0M493.1 869.2h0M459.7 862.7h0M441.1 850.3h0M472.5 859.8h0M472.6 863.7h0M465.1 855.2h0M481.2 878.2h0M451.2 855.3h0M422.6 820.7h0M468 858.7h0M464.2 846.5h0M503.7 878.3h0M493.9 886.1h0M464.3 859.3h0M466.1 868.7h0M444 841.7h0M463 862.3h0M438.9 840.6h0M424 828.8h0M441.2 850.6h0M461.7 849.3h0M443.5 843.9h0M420.3 832.7h0M450 852.4h0M461.3 846.5h0M467.5 854.8h0M443 846.7h0M437.7 846.1h0M500.7 882.9h0M435.3 833.2h0M446.5 839.4h0M441 844.5h0M428.4 837.8h0M476.8 861.6h0M454.2 855h0M440.8 841.4h0M495.3 870.5h0M478.5 866.4h0M451.5 857.6h0M480.9 875h0M490.6 870.5h0M453.6 849h0M488.1 872.4h0M433.2 840.5h0M433.6 842h0M483 879.5h0M424.4 833.9h0M477.1 872.7h0M494.5 874.5h0M464.9 864.2h0M432.8 829.5h0M438.1 844h0M416.5 828h0M470.7 868.4h0M416.9 825.6h0M466.7 864.7h0M503.2 877.2h0M449.6 849.2h0M452.5 859.2h0M462.4 860.5h0M463.6 859.2h0M426.6 828.1h0M498.1 881.8h0M443.2 837.3h0M475.9 864.7h0M482 872.2h0M496.7 879.5h0M457 855.5h0M433.2 845.2h0M495.9 878.2h0M441.8 841.7h0M426.4 830h0M489.8 879h0M417.7 822.7h0M459.9 845.5h0M480.3 873.4h0M492.3 884.6h0M448.5 851.9h0M445.6 846.6h0M500.8 874.9h0M425.2 828.7h0M471.1 853.8h0M465.4 860.3h0M504.7 878h0M454 856.6h0M438.4 844.3h0M452.7 846.2h0M467.7 862.8h0M453.7 851.9h0M446.3 856h0M474.2 857.8h0M457.3 856.1h0M475.8 872.9h0M454.8 845.5h0M439.3 839.6h0M496.9 877.7h0M418.4 820h0M486.5 869.5h0M458.6 864.2h0M454.5 848.9h0M463.3 846.7h0M490.8 868.8h0M442.6 846.9h0M438.8 848.1h0M417.8 831.6h0M500.3 877.9h0M417.2 828.2h0M423.2 822.6h0M416.4 826.6h0M486 869.2h0M464.3 845.6h0M445.2 856.7h0M564.2 766.6h0M540.6 769.4h0M564 769.3h0M563.3 776h0M550.6 774.4h0M558.2 765.3h0M536.5 770h0M567.5 763.8h0M558.4 766.2h0M568.5 766h0M536.2 766.6h0M557.8 772.3h0M536.6 765.6h0M563.1 776.6h0M551.1 770.6h0M557.1 784.7h0M564.3 781.1h0M550.2 764.9h0M553.6 767.6h0M559.9 767.7h0M546.8 777.5h0M560.4 778.4h0M556.7 770.8h0M541.4 780.2h0M551.4 779.9h0M560.1 765.7h0M541.1 766h0M548.4 781.3h0M545.2 772.6h0M563.9 764.1h0M548.4 767.7h0M542.2 776.3h0M560.5 783.8h0M537.5 776.9h0M563 770.3h0M568.8 764.4h0M555.8 775.2h0M567.8 770.7h0M571.4 769.6h0M567.4 770.3h0M545.1 781.9h0M547.3 764.3h0M566.8 762.9h0M543.2 777.4h0M559.3 768.5h0M543.8 765.5h0M568.2 773.2h0M565.6 769.6h0M546.5 773.7h0M542.6 781h0M543.3 767.7h0M556 767.1h0M565.5 770.4h0M543.1 779.3h0M569.4 770h0M571.7 769.9h0M543.3 776h0M557.9 775.8h0M565.7 777.1h0M539.5 773.3h0M567.7 767.1h0M559.6 776.1h0M568.5 763.3h0M555.1 777.7h0M561.4 778.2h0M567.5 779.3h0M544.7 765.5h0M569.7 770.2h0M556 768.3h0M545.6 764.5h0M557.1 780.7h0M562.7 765.9h0M562.8 771h0M546.7 766.2h0M553 778.2h0M542.3 768.6h0M550 766.7h0M556.5 770.4h0M553.5 768.5h0M553.9 769.3h0M551.4 772.3h0M546.3 780.4h0M561.7 778.7h0M566.5 779.3h0M560.2 769.4h0M556.4 775h0M568.2 771h0M565 780.9h0M553.3 775.9h0M551.7 773.4h0M560.6 765.4h0M548.7 779.8h0M538.5 769.7h0M562.8 766.7h0M561.2 768.6h0M553.5 766h0M558.1 779.2h0M570.1 771.8h0M570.8 767.1h0M539.3 778h0M564.4 763.7h0M565.8 775h0M569.3 763.7h0M569.9 766.7h0M555 777.6h0M553.9 772.3h0M554.5 780.9h0M569.9 770h0M539.4 774.7h0M545.7 778h0M707.4 856.5h0M723.5 847h0M695.3 852.7h0M703 850.3h0M700 834.1h0M722.3 847.9h0M697.9 857.3h0M728.5 855.1h0M726.9 852.1h0M698.5 846.4h0M692.7 846h0M692.2 851.2h0M714.8 860.6h0M712.6 851.6h0M724 845.3h0M695.6 860.4h0M723.9 844.7h0M700.8 853.7h0M715.2 853.5h0M705.6 849.5h0M729.6 853.8h0M716.6 848.8h0M708.9 848.9h0M707.1 840.6h0M726.3 846.9h0M732.3 849.2h0M687.6 855.4h0M707.1 847.9h0M729.3 851.9h0M721 859.4h0M695.9 843.7h0M687 850.9h0M694.2 858.9h0M716 839.2h0M690.2 848.9h0M730.4 843.1h0M692.9 850h0M728.6 851.1h0M717.2 839.9h0M703.3 842.2h0M722.8 846.5h0M686.2 852.1h0M718.1 845.6h0M693.2 857.7h0M717.2 855.4h0M728.7 846.4h0M716.3 849.6h0M711.8 849.8h0M711.4 845.6h0M726.7 850.7h0M723.7 841.7h0M716.6 841.4h0M720.2 850.9h0M694.1 853.6h0M696.3 849.7h0M687.9 853h0M725.3 844.4h0M704.4 852.3h0M729.6 851.1h0M714.9 839.4h0M711.2 851.1h0M717.9 841.5h0M699 853h0M709.6 857.1h0M710.9 839.7h0M709.8 853.9h0M706.6 849.4h0M697.4 854.4h0M724.9 846.9h0M692 851.5h0M724.5 845h0M687.7 855.7h0M692.2 850.5h0M706.2 857.6h0M700.7 855.8h0M704.8 856.7h0M703.9 859.9h0M688.2 846.5h0M731.1 848h0M701.7 857.7h0M700.4 839h0M699.7 859h0M697.7 857.3h0M730.5 849.2h0M714.7 839.2h0M714 856.4h0M701.9 842.2h0M705.2 853.4h0M690.8 858.3h0M698.2 859.7h0M694.8 844.3h0M693.3 845.3h0M701.3 835.4h0M691.9 848.6h0M726.8 853.6h0M730.1 845.8h0M712.2 857.6h0M697.8 856.3h0M713.7 854.5h0M716.7 859.4h0M699.6 858h0M724.9 847.9h0M723.7 854.3h0M723.3 852.1h0M688.2 853.3h0M706.7 852.1h0M722.5 849.3h0M706.8 840.6h0M692.8 844.7h0M697.9 853.3h0M694.9 847.1h0M709.5 847.6h0M721.3 854.3h0M706 853.6h0M698 852.2h0M709.5 860.7h0M707.8 851.9h0M726.2 848.6h0M714 853.8h0M728.9 851.7h0M693.6 844.9h0M693.1 849.8h0M687.8 849.3h0M703.5 856.7h0M721.5 841.7h0M719.3 842.4h0M722.3 842h0M713.6 846.2h0M712.2 859.8h0M696.5 851.7h0M689.9 848.5h0M715 857.8h0M724.5 854.4h0M695.4 844.7h0M718.1 845.6h0M727.1 845.5h0M718.6 846.4h0M700.9 841.9h0M727.6 857.2h0M697.8 853.7h0M718.5 844.7h0M687.4 849.7h0M695.8 859.2h0M699.3 844.2h0M706.6 849.1h0M723.9 844.8h0M630.4 909.3h0M620.9 920.2h0M625.3 911h0M620.4 927.3h0M620.8 907.2h0M630.6 906.8h0M629.1 910.3h0M626.7 914h0M631.4 913.1h0M631 906.6h0M628.8 900.3h0M628.9 902.7h0M627.4 920.3h0M624.9 915.3h0M624.6 915.4h0M625.6 914h0M626.1 920.3h0M623.4 918.4h0M630.2 915.7h0M629.4 903.4h0M627.2 913.2h0M631.7 910.5h0M623.6 904.5h0M619.8 926.6h0M624.3 895.9h0M625.9 914.1h0M628 916.4h0M621.2 924.9h0M626.1 910.8h0M629.6 906.1h0M624.5 894.2h0M624.6 921.4h0M624 919.3h0M626.5 899.9h0M627.1 902.2h0M630.4 901.7h0M621.3 902.1h0M620.6 897.5h0M619.6 893.9h0M622.2 903.3h0M620.2 918.6h0M625.9 909h0M632.5 911.7h0M626.2 907.7h0M625.9 918.7h0M630.7 915.1h0M623.6 922.4h0M630.7 907.8h0M620 924.5h0M628.3 898.9h0M619.9 919.6h0M703.3 936.7h0M707.2 938.1h0M704.5 943.4h0M700.9 934.8h0M698.1 935.9h0M703.9 941.8h0M707.1 949.4h0M707.6 943.1h0M707.2 934.8h0M707 945.5h0M707.2 949.4h0M713.4 945.5h0M718.1 942.1h0M708.7 941.9h0M706.9 943.9h0M706.5 934.3h0M708.6 949.5h0M707.3 946.3h0M708.6 947h0M702.6 935.5h0M697.7 938.1h0M710.3 943.3h0M712 945.8h0M700.9 935.9h0M703 940.3h0M703.5 933.2h0M701.2 936.2h0M705.5 950.2h0M703 936.1h0M714.5 944.2h0M698.4 937.1h0M703.4 947.9h0M703.7 951.5h0M705.6 952.2h0M704 934.2h0M707.4 944.4h0M706.4 950.9h0M705.5 938.5h0M706.4 950.2h0M716.6 937.6h0M523.8 987.4h0M516 986.5h0M520.2 998.3h0M518.5 1010.5h0M518.4 1011.5h0M524.2 1012.7h0M521 1009h0M524.2 1001.3h0M514 987.8h0M513.9 971.3h0M516.4 1003.8h0M527.2 1001.3h0M525.5 994.2h0M528.9 995.4h0M528 992.2h0M516.4 985.7h0M517.3 1009.7h0M525.9 1008.2h0M519.7 1003.5h0M518.7 1000.8h0M516.6 993.8h0M517 1008.4h0M517.4 1002.9h0M514.5 1008.5h0M518.3 1005.2h0M522.3 1000.4h0M521.5 990.6h0M521.5 1001.2h0M525.8 1006.1h0M525 987.3h0M524.5 1004.4h0M520.4 987.1h0M513.8 977.6h0M520.5 1003.5h0M517 1013.2h0M522.1 1014.7h0M522.1 1015.2h0M518.3 994.2h0M516.1 980.1h0M527.1 1000.7h0M516.6 983.3h0M520.3 1002.8h0M517.6 989.2h0M519.3 1012.3h0M516.5 1005.1h0M520.9 998.3h0M514.4 982.7h0M519.3 1010.4h0M514.9 1010.5h0M515.4 1012.2h0M522.9 1005.9h0M528.5 1003.3h0M513.8 1017.9h0M523.9 1006.6h0M528.3 1003.7h0M522.5 990.7h0M525.2 996.4h0M515.5 1014.4h0M521.5 987.8h0M525.6 988.5h0M518.5 993.7h0M526.1 1001.9h0M527.3 1008.3h0M517.9 1012h0M514.5 1009h0M512.7 1012.3h0M518.3 988.8h0M513.3 975.3h0M520.3 1005.7h0M528.2 1005.8h0M523.7 993.9h0M513.1 971.3h0M513.5 1015h0M514.9 983h0M519.5 997.9h0M529.3 998.4h0M513.4 981.1h0M516.9 991.6h0M513.6 1010.3h0M520.2 1002.6h0M528.1 1000.8h0M520.1 987.1h0M513.2 973.4h0M472.9 460.7h0M482.8 458h0M478.7 453h0M467.4 458.6h0M469 451.3h0M458.4 469h0M466.5 460.6h0M458.4 452.1h0M480.9 456.6h0M461.9 457h0M486 458.1h0M479.1 467.7h0M457.5 457.3h0M483.3 453.8h0M470.5 466.4h0M459.7 464.6h0M461.6 456.9h0M467.3 468.7h0M469.9 458.5h0M486.6 457.5h0M484.6 460.4h0M477.1 466.2h0M483.5 460.8h0M475.8 452.6h0M477.4 459.2h0M471.1 452.5h0M480.7 463.3h0M463.8 466.9h0M477.5 453.5h0M475.4 468.3h0M464.7 463.6h0M477.4 468.1h0M466.7 465.4h0M473.2 470.1h0M457.2 451.3h0M469.5 469.7h0M482 461.2h0M464.1 452.7h0M469.2 463.6h0M459.8 470.3h0M458.7 456.2h0M471.8 458.6h0M475.8 454.9h0M462.8 451.8h0M463.2 460.2h0M474.2 461.6h0M476.4 459.7h0M473.3 451.3h0M476.6 456.6h0M480.3 463.3h0M471.9 461.9h0M459.5 453.7h0M462.9 450.4h0M477.7 452.8h0M475.3 451.8h0M460.4 464.3h0M465.8 449.8h0M470.4 454.1h0M471.6 458.1h0M474.8 451.6h0M485.1 457.1h0M467.7 456.2h0M457.8 465.8h0M460.3 457.7h0M797.3 230.9h0M797.4 222.6h0M801.5 228.3h0M796 223.3h0M797.3 230.8h0M812.2 226.7h0M806 233.2h0M807.7 236.5h0M804.8 228.1h0M812 223.2h0M804.9 229.1h0M797.5 228.1h0M806.9 231.5h0M804.6 231.4h0M800.9 222.2h0M794.3 226.7h0M806.2 227.5h0M798.2 220h0M797.4 232.3h0M808.1 237.1h0M800.4 220.3h0M805.7 238.6h0M803.4 227.2h0M808.8 226.1h0M803.4 227.7h0M805.6 229.8h0M812.8 226.8h0M771.6 219.8h0M769.9 210.5h0M779.3 216.6h0M779.2 224.9h0M777.1 216.2h0M775.4 209.9h0M777.9 225.9h0M783.8 227h0M769.5 210.7h0M775.4 219.4h0M782.9 227.8h0M776.3 210.2h0M778.3 209.4h0M797.5 284.1h0M795.8 283.6h0M814.9 298.6h0M798.1 286.8h0M811.8 280.8h0M829.8 286h0M831.9 283.9h0M811.3 282.9h0M818.5 299.9h0M815.1 284.3h0M796.3 278.8h0M798.5 286.3h0M796.2 283.4h0M825.2 279.4h0M814.1 288.3h0M805.1 280.9h0M805.5 292.9h0M794.2 281h0M815.3 298.6h0M795.8 289.3h0M818.7 283.3h0M824.7 287.9h0M814.5 279.2h0M819.4 280.2h0M795.4 281.3h0M829.5 282.6h0M829 281.3h0M809.4 278h0M796.7 278.8h0M813.6 298.3h0M831.3 286.7h0M800.8 274.4h0M806.7 273.2h0M815.5 300.2h0M811.2 293.1h0M821.9 281.3h0M815.9 274.6h0M799.7 277.8h0M822.6 284.7h0M825.8 288.6h0M806.5 285.1h0M807.4 281.3h0M798.3 288.1h0M812.9 291.5h0M794.2 277.7h0M825.7 283.7h0M813.6 280.8h0M810.6 273.6h0M801 291.9h0M811.8 277.7h0M809.9 296.9h0M807.3 286.4h0M816.9 287.4h0M805.4 286.9h0M805.6 292.2h0M801.2 274.6h0M803.2 291.8h0M796.6 280.4h0M824.4 287.3h0M819.9 297.1h0M813.7 285.4h0M822.6 290.9h0M800.7 294.3h0M813.6 280.5h0M827.4 290h0M794.8 281.8h0M810.2 284h0M825.3 284h0M826.1 293.4h0M814 299.2h0M805.5 290.9h0M819.3 289.6h0M803.2 283.7h0M794.6 279.7h0M816 290.7h0M802.7 290h0M806 291.1h0M797.8 288.2h0M810.6 280.4h0M825.8 289.9h0M828 286.6h0M811.7 293.8h0M811.2 296.2h0M795.6 286.4h0M797 287.3h0M807.7 283h0M796.4 276.1h0M794.3 277.4h0M823.8 292.5h0M821.5 283.8h0M777.7 310.8h0M775.8 307.8h0M765.4 298.2h0M762.5 302.4h0M788.1 313.4h0M785.3 317.6h0M772.3 303.4h0M771.4 299.4h0M787.4 318.6h0M790.8 314.2h0M780.9 315.4h0M773.1 299.4h0M786.8 313.4h0M771.9 305h0M789.2 315h0M779.2 315.8h0M779 312h0M774.1 308.1h0M771.9 296.6h0M768 300.4h0M767.4 304h0M785.7 318.4h0M793.2 320.2h0M794.5 315.8h0M773.1 305.3h0M793.3 316.4h0M793.9 316.4h0M785.2 309.2h0M780.7 312.4h0M793.9 308.6h0M779.9 310.3h0M779.6 301.5h0M789.7 313.2h0M787.9 307.3h0M783.7 315.2h0M778.2 313.6h0M786.5 305.6h0M781.9 299.9h0M787.7 318.2h0M771.3 304.4h0M787.1 303.7h0M788.5 319.7h0M793.7 316.1h0M786.5 308.3h0M783.3 305.5h0M790.9 307.5h0M779 302.6h0M766.6 303.6h0M769.4 295.2h0M768.2 301h0M768.2 299.4h0M772.9 307.3h0M782.4 301.8h0M771.1 309.1h0M772.7 305.1h0M782.7 313.1h0M783.1 312.5h0"/>
<g fill="#d3d3d3">
<polygon points="653.6,121.5 653.6,123.6 655.1,129.1 657.4,136 657.5,136.3 657.6,136.6 657.6,137 657.6,137.3 657.5,137.6 656.2,144.2 656.8,151.8 656.8,152.1 656.8,152.4 656.7,152.7 656.6,153 654.9,158.3 655.4,162.4 660.1,166.6 660.4,166.9 660.6,167.1 660.8,167.4 664.4,173.8 667.9,176.4 668,176.5 673.5,181.1 679.9,182.9 680.1,183 680.4,183.1 680.6,183.3 685.1,185.9 692.4,186.8 692.5,186.8 699.5,187.8 699.8,187.9 700.1,188 700.4,188.1 700.6,188.2 700.9,188.4 701.1,188.6 701.4,188.8 701.6,189.1 701.7,189.4 701.9,189.6 702,189.9 702.1,190.2 702.7,192.8 706.1,194.5 709.8,193 710.1,192.9 710.4,192.9 710.7,192.8 711.1,192.8 711.4,192.8 711.7,192.9 712,193 712.3,193.1 712.6,193.2 712.8,193.4 713.1,193.6 713.3,193.8 713.5,194 713.7,194.3 713.9,194.6 716.7,200.3 718.6,202.8 722,202.8 722.3,202.8 722.6,202.9 722.9,202.9 723.2,203 723.4,203.1 729.2,206 734,207.6 739,206 739.3,205.9 739.6,205.8 739.9,205.8 740.2,205.8 740.5,205.8 740.8,205.9 741.1,206 741.4,206.1 746.5,208.7 749.7,208.1 750.5,206.1 745.5,196.2 740.7,193 733.2,191.1 732.9,191 732.5,190.8 732.2,190.7 727,187.2 723,187.2 722.7,187.2 722.4,187.1 722,187.1 721.7,186.9 721.5,186.8 721.2,186.6 720.9,186.4 720.7,186.2 720.5,186 720.3,185.7 720.1,185.4 720,185.1 719.9,184.8 719.8,184.5 719.8,184.2 719.8,183.9 719.8,183.5 719.9,183.2 722.8,171.7 722.4,166.2 722.4,165.8 722.8,157.8 722.8,157.6 722.9,157.3 723,157 724.7,151.7 723.9,146.3 721.4,142.9 721.3,142.7 721.1,142.4 721,142.1 720.9,141.8 718.9,133.9 716.3,125.9 711.6,122 705.5,121.2 705.2,121.1 697.6,119.2 688,119.2 687.7,119.2 687.4,119.1 687.1,119.1 686.9,119 679.4,116.2 663.7,116.2 655.7,119.7 653.6,121.5"/>
<polygon points="742,215.9 741.3,221.2 743.5,224.5 747,224 748.6,221.5 747.3,216.2 744.1,214.6 742,215.9"/>
<polygon points="800.8,276.9 800.2,280.1 801.1,287.4 802.7,292.8 807.2,295 813,297 813.1,297 819.4,299.4 823.8,295.6 829.2,290.3 830.5,285.7 827.9,282.5 821.2,279.2 815,279.2 814.7,279.2 814.4,279.1 814,279.1 813.7,278.9 807.5,276.3 800.8,276.9"/>
<polygon points="764.2,300.8 764.2,302.9 766.1,305.5 773.4,309.1 773.8,309.3 774,309.5 779.4,314 784.5,314.8 784.9,314.9 785.2,315 785.5,315.2 785.8,315.3 790.6,318.6 791.2,318.4 791.8,314.5 791.9,314.2 792,313.9 792.1,313.6 793.9,310 792.2,308.6 786.4,304.8 780.8,302 775,300 774.7,299.9 774.5,299.8 774.2,299.7 769.3,296.4 766.1,296.9 764.2,300.8"/>
<polygon points="531.7,221.7 532.7,227.3 536.1,233.5 536.3,233.7 536.4,234 536.5,234.3 536.5,234.6 536.5,234.9 536.5,235.2 536.5,235.5 536.4,235.8 536.3,236.1 534,242.4 533,251.9 534.1,254.2 538.6,252.9 544.5,249 545.1,241.4 545.2,241.1 545.3,240.7 545.4,240.4 545.5,240.1 545.7,239.9 545.9,239.6 546.1,239.4 546.4,239.1 546.6,239 546.9,238.8 547.2,238.7 553.9,236.2 554.2,236.1 554.5,236 554.8,236 555.1,236 570.1,236.5 570.3,236.5 573.3,236.8 582.9,235.5 591.2,234.3 591.5,234.3 591.8,234.3 592.1,234.3 600.4,235.5 600.7,235.5 601,235.6 601.3,235.7 601.5,235.9 611.9,241.5 612.9,241.2 612.8,240.2 607.1,238 606.9,237.9 598.6,233.7 591.1,230 585.4,230.7 585.1,230.7 584.8,230.7 584.5,230.7 584.2,230.6 583.9,230.5 583.6,230.4 583.3,230.2 583.1,230.1 582.8,229.9 582.6,229.7 578.2,224.8 569.1,222.2 569.1,222.2 557.5,218.9 557,218.8 545.4,213.6 537.5,214.7 531.7,221.7"/>
<polygon points="564.9,244.6 564.9,247.8 566.3,248.4 568.1,248.2 565,244.6 564.9,244.6"/>
<polygon points="650.4,248.4 650.9,248.6 663.4,250.1 669.3,249.6 666.5,247.6 666.2,247.4 666,247.2 665.8,247 665.7,246.8 665.5,246.5 665.4,246.3 663.5,241.9 663.5,241.9 662.3,243.1 662,243.3 661.7,243.5 661.4,243.7 661.1,243.8 654.6,246.3 650.4,248.4"/>
<polygon points="376.6,408.8 376.8,412.2 379.3,415.6 379.4,415.9 379.6,416.2 379.7,416.5 381.3,421.2 384.1,426.1 388.4,429 388.7,429.2 394.6,434.2 399.5,438.4 399.8,438.6 400.1,438.9 401.7,441 410.2,441.5 410.3,441.5 413.1,441.8 412.9,441.6 412.7,441.4 412.5,441.2 409.5,437.4 404.9,434.3 404.7,434.2 404.5,434 400.8,430.7 400.6,430.5 400.4,430.3 400.3,430 400.1,429.7 400,429.5 399.9,429.2 399.8,428.9 399.8,428.6 399.8,428.3 399.8,428 399.9,427.7 399.9,427.4 400.1,427.1 402.4,421.7 400.9,418.3 397.4,413.6 397.2,413.3 397.1,413 397,412.7 396.9,412.4 396.8,412.1 396.8,411.8 396.8,411.5 396.8,411.1 396.9,410.8 397,410.5 397.1,410.2 399.6,405.2 399.8,405 399.9,404.7 401.9,402.1 402.4,398.6 398.7,394.9 393.8,390.8 393.6,390.6 393.4,390.4 393.2,390.2 390.3,386 389.5,386.2 386.3,391.2 384.8,398.2 384.7,398.5 384.6,398.8 384.4,399.1 384.2,399.4 384,399.7 383.8,399.9 383.5,400.1 378.5,403.7 376.6,408.8"/>
<polygon points="403.1,392.5 403.7,394.8 405.9,396.6 409.5,396 409.8,396 410.1,396 410.5,396 410.8,396.1 411.1,396.2 411.4,396.3 416.4,398.8 416.7,399 417,399.2 417.3,399.4 417.6,399.7 418.7,398.7 418.5,398.7 418.2,398.5 413.3,395.2 408.3,392.4 403.7,392.4 403.1,392.5"/>
<polygon points="478.8,354.2 478.9,354.8 482.7,361.6 485.2,365.1 485.7,364.8 485.3,360.6 481.1,356.4 478.8,354.2"/>
<polygon points="456.5,452.2 456.5,453.5 459.5,455.8 459.7,456 459.9,456.3 460.1,456.5 460.3,456.8 460.4,457 460.5,457.3 460.6,457.6 460.7,457.9 461.5,464.6 461.5,464.9 461.5,465.3 461.5,465.6 461.4,465.9 461.3,466.3 460.4,468.3 461.3,467.5 461.5,467.4 461.8,467.2 462.1,467 462.4,466.9 462.7,466.9 463,466.8 463.3,466.8 470,466.8 470.3,466.8 470.6,466.9 470.9,466.9 471.1,467 475.2,468.5 477.2,465.1 477.3,464.9 480.6,460.1 482.8,455.6 481.8,454.6 474.4,453.1 474.1,453.1 473.8,453 473.6,452.9 467.7,449.9 460.7,450.6 456.5,452.2"/>
<polygon points="506.3,451.6 505,457.1 506.3,459.6 507.8,455.5 508,455.2 508.1,455 508.3,454.7 508.5,454.5 508.8,454.2 514.6,449.2 514.7,449.2 517.2,447.1 516.8,445.4 515.9,445.6 510.1,447.8 506.3,451.6"/>
<polygon points="732.1,534.4 732.2,534.5 732.2,534.9 732.2,535.2 732.2,535.5 732.1,535.8 731.2,539.6 730.8,542.6 731.4,544.3 733.8,544.9 734.1,545 734.4,545.1 734.7,545.3 734.9,545.4 735.2,545.6 735.4,545.9 735.6,546.1 735.8,546.4 735.9,546.7 736,547 736.1,547.3 736.2,547.6 736.2,547.9 736.2,548.2 736.2,548.6 736.1,548.9 736,549.2 735.8,549.5 735.7,549.7 735.5,550 733.7,552.3 732.4,554.5 732.7,555.8 734,556.4 736.5,556.8 736.8,556.9 737.1,557 737.4,557.1 737.7,557.3 738,557.5 738.2,557.7 738.4,557.9 738.6,558.2 738.8,558.5 738.9,558.7 739.1,559 739.1,559.3 739.2,559.7 739.2,560 739.2,560.3 739.1,560.6 739.1,560.9 739,561.2 738.8,561.5 738.6,561.8 738.5,562.1 738.2,562.3 738,562.5 737.4,563 738,563.9 738.1,563.7 738.2,563.5 738.4,563.2 738.5,563 738.7,562.7 739,562.5 739.2,562.3 742.2,560.3 742.5,560.2 742.8,560.1 743,559.9 743.3,559.9 743.6,559.8 743.9,559.8 744.2,559.8 744.5,559.8 747.5,560.3 747.9,560.4 748.2,560.5 748.1,560.3 748,560 747.9,559.7 747.8,559.4 747.5,557 745.4,555.8 745.2,555.6 744.9,555.4 744.7,555.2 744.5,555 744.3,554.7 744.2,554.5 744,554.2 743.9,553.9 743.9,553.6 743.8,553.3 743.8,553 743.8,552.7 743.9,552.4 743.9,552.1 744.5,550.1 743.2,548.3 740.1,546.1 739.9,545.9 739.6,545.6 735.6,541.1 735.4,540.9 735.2,540.6 735.1,540.3 735,540 734.9,539.7 734.8,539.4 734.5,536.5 732.9,534.9 732.1,534.4"/>
<polygon points="717.1,596.4 720,597.4 723.8,598.4 724.1,598.5 727.6,599.8 731,599.8 731.4,599.8 731.8,599.9 735.8,600.9 736.1,601 736.4,601.1 740,602.9 743.9,603.7 747.2,602.9 747.7,602.8 752.7,602.3 753,602.3 753.2,602.3 753.5,602.3 753.8,602.4 756.8,603.2 759.7,602.1 766.9,598.5 769.3,595.3 773.1,587.6 773.3,587.3 775.2,584.3 774.9,582 774.1,580.7 772.9,580.7 769.7,582.7 769.4,582.9 769.1,583 768.8,583.1 768.5,583.2 768.2,583.2 767.8,583.2 767.5,583.2 767.2,583.1 766.9,583 761.3,580.9 760.7,581.8 760.5,582 760.2,582.3 760,582.5 759.7,582.7 759.4,582.9 755.4,584.9 755.2,585 754.9,585.1 754.6,585.1 754.3,585.2 754,585.2 753.7,585.2 749.3,584.7 746.1,585.7 743.7,589.6 743.6,589.9 743.4,590.1 743.2,590.3 742.9,590.5 742.7,590.7 742.4,590.9 739.4,592.4 739.1,592.5 738.9,592.6 738.5,592.7 738.2,592.7 737.9,592.7 737.6,592.7 737.3,592.6 737,592.5 736.7,592.4 736.4,592.3 733.6,590.7 732.6,591.2 732.4,591.4 732,591.5 731.7,591.6 731.4,591.7 723.7,592.6 719.7,593.8 717.3,596.3 717.1,596.4"/>
<polygon points="417.5,821.3 416.7,828.4 417.1,830.7 419.9,830.7 420.2,830.7 420.5,830.8 420.8,830.9 421.1,831 421.4,831.1 421.7,831.3 428.2,835.6 431.4,837.8 431.7,837.9 431.9,838.2 432.1,838.4 432.3,838.6 432.5,838.9 432.6,839.2 432.7,839.5 432.8,839.8 432.9,840.1 432.9,840.4 432.9,840.7 432.8,841 432.1,844.4 433.3,845.1 439.3,847.1 439.6,847.2 439.9,847.4 440.1,847.5 443.4,849.7 446.6,851.8 446.9,852 447.1,852.2 447.3,852.5 447.5,852.7 447.7,853 447.8,853.3 447.9,853.6 448,853.9 448,854.2 448,854.5 448,854.9 448,855.2 447.9,855.5 447.8,855.8 447.6,856.1 447.5,856.3 447.3,856.6 447.1,856.7 447.3,856.7 447.6,856.8 453,857.9 453.3,857.9 453.6,858 453.9,858.1 454.1,858.3 454.3,858.4 458.7,861.7 458.9,861.9 459.1,862.1 459.3,862.3 459.5,862.5 459.6,862.8 459.7,863.1 461.2,866.8 465.7,867.5 470.8,867.5 471.2,867.6 471.5,867.6 471.8,867.7 472.1,867.8 472.4,868 472.7,868.1 472.9,868.3 473.2,868.6 473.4,868.8 476.4,872.8 480.3,875.8 484.4,878.8 488.5,880.9 488.8,881 489,881.2 492.9,884.1 493.4,884.3 494.2,883.1 494.4,882.8 494.6,882.6 494.8,882.4 495.1,882.2 495.3,882 495.6,881.9 495.9,881.8 496.2,881.7 496.5,881.6 496.8,881.6 499.5,881.6 500.7,879.8 500.8,879.6 501,879.3 501.3,879.1 501.5,879 501.7,878.8 502,878.7 502.3,878.6 502.6,878.5 505.7,877.7 506.3,876.8 506.2,876.4 502.3,874.9 498.2,873.9 497.9,873.8 497.7,873.7 497.4,873.5 497.2,873.4 496.9,873.2 496.7,873 493.6,869.9 490.7,867.7 487.9,868.4 487.5,868.5 487.2,868.5 486.9,868.5 486.6,868.5 480.1,867.4 479.7,867.3 479.4,867.2 479.1,867.1 478.9,866.9 478.6,866.8 478.4,866.5 478.1,866.3 477.9,866.1 477.8,865.8 477.6,865.5 477.5,865.2 477.4,864.9 476.6,860.4 472.9,856.8 472.6,856.5 472.4,856.1 469.5,851.2 464.8,847.5 460.9,845.5 454.7,843.5 447.2,841.3 446.9,841.2 446.7,841.1 440.2,837.9 439.9,837.7 434.5,834.5 434.3,834.3 434,834.1 433.8,833.9 433.6,833.7 430.7,829.8 424.6,825.7 424.4,825.5 424.1,825.3 423.9,825 421.4,821.7 417.8,821.1 417.5,821.3"/>
<polygon points="536.5,768.5 536.5,772.3 539.3,776.1 539.4,776.3 539.5,776.6 540.8,779.2 546,780.2 546.3,780.3 552.8,782.2 557.3,783.3 562.5,781.8 566.6,778.8 567.6,775.1 567.7,774.8 567.8,774.5 568,774.3 568.2,774 568.4,773.8 568.6,773.6 568.8,773.4 569.1,773.2 569.4,773.1 569.7,773 572.9,771.9 573,771.8 572.2,770.7 572,770.4 571.8,770.1 571.7,769.8 571.6,769.5 570.5,765.7 568.5,763.7 565.6,764.8 563.3,766.6 563,766.7 562.8,766.9 562.5,767 562.2,767.1 561.9,767.1 561.6,767.2 561.3,767.2 556,767.2 555.6,767.2 555.2,767.1 550,765.8 544,764.6 539,765.6 536.5,768.5"/>
<polygon points="686.1,850.7 687.6,852.9 689.9,856.4 693.3,858.1 698,859.9 702.9,859.3 703.2,859.3 703.5,859.3 703.8,859.3 704.1,859.4 709,860.6 713.9,859.4 722.2,857.3 727.9,855 729.4,852 731.5,846.5 731.6,846.2 731.7,846 731.9,845.7 732.8,844.5 732.2,844.3 732,844.2 727.2,842.4 722.5,843.6 722.2,843.7 721.9,843.7 721.6,843.7 721.2,843.7 720.9,843.6 720.6,843.5 720.3,843.4 715.5,840.9 708.2,841.5 704.3,842.8 704,842.9 703.7,843 703.4,843 703.1,843 702.8,842.9 702.5,842.9 702.2,842.8 701.9,842.6 701.6,842.5 701.6,842.5 701.4,842.7 701.2,842.9 700.9,843.1 700.7,843.3 700.4,843.4 700.1,843.5 695.8,845 695.8,845 689.5,846.8 686.1,850.7"/>
<polygon points="620,894.3 620.6,896 620.7,896.4 620.8,896.8 621.5,902.2 622.2,905.3 623.3,905.3 623.6,905.3 623.9,905.4 624.2,905.4 624.5,905.5 624.8,905.7 625,905.8 625.3,906 625.5,906.2 625.7,906.4 625.9,906.7 626.1,906.9 626.2,907.2 626.3,907.5 626.4,907.8 626.5,908.1 627.2,913.8 627.2,914.1 627.2,914.4 627.2,914.7 627.1,915 627,915.3 626.9,915.6 626.7,915.8 626.6,916.1 626.4,916.3 626.1,916.5 625.9,916.7 625.6,916.9 620.4,920 620.8,922.1 620.8,922.4 620.8,922.8 620.8,923.1 620.7,923.4 620.7,923.7 620.1,925.5 620.4,925.7 622.7,925.4 623,924.2 623.1,923.8 623.2,923.5 623.3,923.2 623.5,922.9 623.7,922.7 623.9,922.4 624.2,922.2 624.5,922 627.4,920.3 629.5,917.1 630.7,912.6 629.4,903.9 625.7,897.7 622.1,894.1 620,894.3"/>
<polygon points="697.3,935.6 699.4,937 703.7,939.8 703.9,940 704.1,940.2 704.3,940.4 704.5,940.7 704.7,940.9 704.8,941.2 704.9,941.4 705,941.7 705.7,944.6 705.8,944.9 705.8,945.2 705.8,945.5 705.8,945.9 705.7,946.2 705.6,946.5 704.7,948.9 705.4,950.8 706.1,951.8 706.7,951.7 707.4,949.8 707.6,949.6 709,946.7 709.1,946.5 709.3,946.2 709.5,946 709.7,945.8 709.9,945.6 710.1,945.4 710.4,945.3 714.3,943.3 716.7,941.3 716.2,939.3 714.4,938.7 710.9,939.3 710.6,939.3 710.3,939.3 710,939.3 709.7,939.2 709.4,939.2 709.1,939 708.8,938.9 708.6,938.7 708.3,938.5 708.1,938.3 707.9,938.1 707.7,937.8 707.6,937.6 706.8,936 703.1,935.1 697.3,935.6"/>
<polygon points="511.9,1017.5 516.5,1016.1 523.7,1013.4 525.3,1009.4 527.3,1003.5 527.3,995.9 525.5,990.6 521,986.1 517.2,984.1 516.9,984 516.6,983.8 516.4,983.6 516.2,983.4 516,983.2 515.9,982.9 515.7,982.6 515.6,982.4 515.5,982.1 515.4,981.8 515.1,979.6 514.3,984.5 515.1,989.7 517.9,993.4 518.1,993.7 518.2,993.9 518.3,994.2 518.4,994.5 518.5,994.8 519.6,1001.3 519.6,1001.6 519.6,1001.9 519.6,1002.2 519.6,1002.5 519.5,1002.8 519.4,1003.1 519.2,1003.4 519.1,1003.6 518.9,1003.9 518.7,1004.1 515.1,1007.7 514.2,1013.2 514.1,1013.5 514,1013.8 513.9,1014.1 513.8,1014.3 511.9,1017.5"/>
</g>
<g fill="none" stroke="#d3d3d3" stroke-linecap="round" stroke-linejoin="round">
<polyline stroke-width="6.7" points="534.2,320.8 539.2,315.3 545,310.8"/>
<polyline stroke-width="5.7" points="490.8,374.2 494.2,381.7 500,393.3 504.7,401.7"/>
<polyline stroke-width="5.4" points="895.1,548.3 892.9,553.9 889.5,559.5 886.1,566.3 885,570.8 884.6,577.5"/>
<polyline stroke-width="5.4" points="604.2,850.4 605.6,857.5 607.7,861.7 609.8,866.7 612,871.7 614.8,878.7 618.3,884.4 619.7,888.7"/>
<polyline stroke-width="6.1" points="430.4,1045.6 438.4,1040.4"/>
<polyline stroke-width="5.1" points="397.8,441.5 410.7,443.2 420,443.9 429.3,444.8 438.7,447.8 448,450.2 457.3,452.5"/>
</g>
<path fill="none" stroke="#d3d3d3" stroke-width="5.4" stroke-linecap="round" d="M663.6 189.6h0M672 191h0M677.6 189.6h0M685 189h0M667 205h0M672 209.6h0M675.6 225h0M711 212h0M710.4 223h0M705 231h0M704 236.4h0M724 238.4h0M731.6 241.4h0M730 148h0M729.6 153h0M729 160h0M734 161.6h0M732 170h0M731.6 175h0M737 182h0M742 190.4h0M765 206h0M768 209h0M772 208h0M776 208h0M770 216h0M774 216h0M780 212h0M783 210h0M784 215h0M786 220h0M785 225h0M780 228h0M778 222h0M772 222h0M768 220h0M776 226h0M781 235h0M769 231h0M757 206h0M758 216h0M760 217h0M756 227h0M758 225h0M753 234h0M758 235.6h0M749.6 239h0M744 243h0M738 238h0M736 229.6h0M742 230h0M729 222h0M727 222h0M794 220h0M797 218h0M800 218h0M806 216h0M811 215.6h0M815 218h0M814 227h0M810 228h0M808 233h0M804 236h0M802 240h0M803 242h0M798 238h0M794 243h0M792 231h0M798 232h0M800 226h0M804 224h0M808 222h0M802 230h0M806 230h0M812 220h0M793 225h0M778.4 244.4h0M760 249h0M766 247h0M771 247h0M771 254h0M772 260h0M776 264h0M779 266h0M777 270h0M753 255h0M758 258h0M760 260h0M762 262h0M764 260h0M761 265h0M778 279h0M773 286h0M777 293h0M759.6 284h0M760 287h0M786 268h0M790 271h0M789 276h0M795 273h0M800 274h0M804 275h0M788 281h0M792 289h0M792 294h0M792 300h0M815 270h0M821 276h0M812 306h0M798 337h0M703.6 270.4h0M708 271.6h0M709 270h0M729 275.6h0M733 276h0M736 272h0M738 276h0M515.8 236.7h0M518.3 238.7h0M524.2 248.3h0M531.7 231.3h0M555 243.3h0M556.7 246.7h0M545 251.7h0M580 240.8h0M586.7 246.3h0M602.5 243h0M622.5 243.3h0M626.7 244.2h0M631.7 243.7h0M636.7 247h0M645.8 240.8h0M664.2 228.3h0M662.5 232.5h0M666.7 232.5h0M670 239.2h0M671.7 240.8h0M675.8 225h0M666.7 204.2h0M668.3 207.5h0M671.7 209.7h0M680 240h0M681.7 242.5h0M683.3 245.8h0M678.3 251.7h0M678.3 255.8h0M686.7 258.8h0M431.7 396.7h0M433.3 398.3h0M437.5 394.7h0M447.5 393.7h0M454.2 386.3h0M410 406.7h0M413.7 408.3h0M411.7 415.8h0M418.3 415h0M418.3 417.5h0M413.3 420.8h0M408.3 423.3h0M421.7 423.3h0M425 428h0M426.7 409.2h0M402.5 407.5h0M401.7 417.5h0M404.2 420h0M485.8 345.8h0M486.7 348.3h0M509.2 411.3h0M510 410.8h0M515 424.7h0M520.8 430h0M533.3 433.7h0M530 439.2h0M526.7 445h0M527.5 448.3h0M497.5 445h0M433.3 442.5h0M438.3 445h0M443.3 446.7h0M446.7 450h0M433.3 450.8h0M451.7 450h0M451.7 455h0M465.8 430h0M468.3 434.2h0M470.8 436.7h0M473.3 439.2h0M452.5 440.3h0M465 441.7h0M490 451.7h0M491.7 459.2h0M496.7 454.2h0M497.5 451.7h0M515.8 458.3h0M434 529.3h0M432.6 530.7h0M437.6 544.2h0M446.8 532.8h0M460.2 546h0M466.6 544.2h0M468.7 542.7h0M473.7 537.8h0M470.9 531.4h0M475.8 522.9h0M476.5 513h0M475.8 502.4h0M479.4 500.9h0M485.7 496.7h0M490.7 500.9h0M486.5 504.5h0M487.9 508h0M480.8 505.9h0M487.9 515.8h0M493.5 519.4h0M495.7 509.4h0M497.8 513h0M490 527.9h0M485 485.4h0M485 489.6h0M486.5 488.2h0M476.5 477.6h0M485 477.6h0M519.8 552.7h0M529.7 508.7h0M549.5 521.9h0M497.8 536.4h0M502 536.4h0M497.8 445h0M497.1 452.8h0M497.1 455.6h0M516.2 457.7h0M642.1 446h0M634.2 454.7h0M625.5 442.8h0M620.7 439.7h0M555 442.8h0M559.8 439.7h0M564.5 442.8h0M564.5 448.4h0M560.6 457.1h0M560.6 461.8h0M567.7 456.3h0M563 478.5h0M559.8 481.6h0M555.8 488h0M560.6 491.1h0M553.5 497.5h0M557.4 499h0M560.6 503h0M569.3 474.5h0M559 500.6h0M282 390.8h0M285.5 393.8h0M549.3 521.7h0M555 525h0M558.3 528.3h0M566.7 532.7h0M571.7 536.7h0M576.7 541h0M581.7 545h0M586.7 549h0M591.7 552.7h0M563.3 531h0M585 547.3h0M201.5 567.2h0M207.3 568.3h0M205 573h0M202.1 570.7h0M204.4 570.1h0M235.3 503h0M237.7 500.1h0M240.6 497.8h0M242.3 496.6h0M244.7 495.4h0M250.5 491.9h0M254 489h0M256.9 487.3h0M260.4 490.8h0M255.2 496h0M256.9 494.3h0M251.7 490.8h0M242.9 508.8h0M245.8 507.7h0M248.2 504.2h0M249.9 501.3h0M252.3 503h0M234.2 510h0M235.3 514.1h0M235.3 522.3h0M242.9 524.9h0M234.2 531h0M226.6 528.7h0M233.6 538h0M235.3 532.8h0M215.5 554.3h0M697.5 579.8h0M711.5 530.2h0M715 535.5h0M724.5 537.5h0M723.8 555.5h0M726.5 560h0M725.5 562.8h0M728.5 566.8h0M752.5 568h0M752.5 572h0M766.5 571h0M776.8 565.5h0M776.2 572.2h0M733 607.8h0M717 587h0M851.9 363.3h0M899.6 542h0M886.6 587.2h0M901.7 678.8h0M915.8 684.2h0M925.8 667.5h0M950 645h0M1016.7 763.3h0M995 775.8h0M881 705h0M884 700h0M885.8 710h0M890 715h0M893.3 720h0M896.7 713.3h0M903.3 708.3h0M910 706.7h0M916.7 708.3h0M923.3 696.7h0M926.7 688.3h0M930 683.3h0M936.7 676.7h0M940 670h0M943.3 665h0M950 660h0M953.3 651.7h0M643.5 708h0M644 711.5h0M649.5 706h0M651.5 713h0M653 712h0M657.5 716h0M589 720h0M589 722h0M579.5 738.5h0M614.5 646h0M610.5 644.5h0M615.5 648.5h0M360.5 720.8h0M361.3 728.8h0M366.9 723.2h0M370 725.6h0M373.2 728.8h0M374.8 733.5h0M370 735.1h0M376.4 738.3h0M379.5 738.3h0M382.7 731.9h0M385.9 734.3h0M384.3 743h0M382.7 748.6h0M384.3 754.1h0M377.2 748.6h0M370.8 747.8h0M371.6 755.7h0M377.2 764.4h0M382.7 759.6h0M385.9 764.4h0M390.6 765.2h0M396.2 766.8h0M397.8 771.5h0M398.6 777.9h0M395.4 781h0M392.2 785.8h0M393.8 789h0M400.1 791.3h0M404.9 795.3h0M385.9 790.5h0M390.6 800h0M393.8 803.2h0M397 806.4h0M404.9 806.4h0M408.9 811.9h0M401.7 812.7h0M397 815.9h0M400.1 820.6h0M406.5 825.4h0M398.6 828.6h0M401.7 834.9h0M398.6 839.6h0M408.1 840.4h0M414.4 839.6h0M400.9 848.4h0M392.2 844.4h0M385.9 844.4h0M382.7 855.5h0M376.4 857.1h0M368.5 857.9h0M368.5 849.1h0M383.5 863.4h0M389.1 866.6h0M344.7 863.4h0M343.9 868.2h0M357.4 858.7h0M303.5 785.8h0M303.5 795.3h0M297.2 806.4h0M293.2 812.7h0M284.5 825.4h0M314.6 750.9h0M314.9 758.9h0M311.4 769.9h0M314.6 769.2h0M451.3 865.3h0M456.7 871.8h0M479.5 884.8h0M501.2 883.7h0M442.7 852.3h0M414.5 839.3h0M408 841h0M402 841.5h0M401 848h0M409.1 811.7h0M404.7 794.9h0M398.2 772.2h0M398.2 778.7h0M404.7 806.3h0M401.5 815.5h0M565.3 758h0M570.7 752.7h0M572 756h0M574.7 746h0M577.3 742.7h0M579.7 739.1h0M546 790h0M546 793.7h0M594 778h0M606 778h0M603.3 781.3h0M601.3 782.7h0M603.7 786h0M668.7 732.7h0M670.7 734.7h0M606.3 910.6h0M638.2 917h0M643.1 913.5h0M641 914.9h0M650.9 916.3h0M655.2 918.4h0M674.3 926.2h0M679.2 928h0M616.2 892.2h0M503.4 917.3h0M503.4 921.7h0M505.6 935.1h0M474.2 1028.9h0M606.3 910.4h0M638.9 916.3h0M643.2 914.1h0M650.8 916.3h0M655.1 918.4h0M674.6 926h0M678.9 928.2h0M648.6 980.2h0M651.9 983.4h0M650.8 982.3h0M717.1 722.7h0M720.3 718h0M723.3 722.7h0M725 718.6h0M727.3 717.4h0M727.9 719.2h0M722.1 720.6h0M736.4 800.3h0M736.7 797.9h0M739 794.4h0M740.8 792.1h0M743.1 792.4h0M744.3 793.3h0M737.8 796.8h0M783.3 785.1h0M786.8 784.5h0M789.8 781h0M792.7 782.2h0M795.6 778.7h0M799.1 776.9h0M800.8 777.5h0M799.7 783.3h0M799.1 785.7h0M791.5 788h0M795 790.3h0M791.5 793.3h0M797.3 793.8h0M798.5 796.8h0M801.4 796.4h0M796.2 796.2h0M790.3 784.5h0M795 783.3h0M797.3 781h0M792.7 785.7h0M490 457.2h0M492.3 451.3h0M497 454.8h0M487.7 460.7h0M462 446.7h0M466.7 451.3h0M598 843.5h0M600.5 840.5h0M603.5 839.5h0M606 841.5h0M602 845h0M605 847.5h0M604 850.5h0M599.5 845.5h0M793.3 242.7h0M794 244.7h0M758.7 248.7h0M761.3 247.3h0M765.3 248.7h0M766.7 251.3h0M758.7 259.3h0M762.7 262h0M765.3 262h0M771.3 252.7h0M771.3 258h0M772 262.7h0M792 290h0M792 295.3h0M794.7 299.3h0M792 300.7h0M701 582.5h0M703.5 584h0M705.5 586h0M707.5 588.5h0M710 591h0M712.5 593.5h0M715 596h0M718 598h0M721 599.5h0M709.5 589h0M711.5 592h0M511.4 967.1h0M513 971.8h0M514.6 976.6h0M514.6 981.3h0M513.5 986.1h0M514.6 990.8h0M516.2 995.6h0M509.8 1019.3h0M513 1016.2h0M519.3 1016.2h0M524 1014.6h0M527.2 1011.4h0M528.8 1006.7h0M525.7 1003.5h0M519.3 1006.7h0M514.6 1009.8h0M512 1013h0M517 1012h0M400.3 391.1h0M403.1 392.9h0M405.8 392h0M411.3 393.8h0M415 394.8h0M418.7 396.6h0M422.3 397.5h0M425.1 396.1h0M419.6 398.4h0M416.8 401.2h0M414.1 397.5h0M408.6 395.7h0M431.5 397.5h0M435.2 397.5h0M438.8 413.1h0M442.5 411.7h0M446.2 409.4h0M449.8 413.1h0M453.5 414.9h0M436.1 414.9h0"/>
<circle cx="199.3" cy="500.4" r="2.9" fill="#8662f0"/>
<circle cx="721.2" cy="590.8" r="2.9" fill="#9a78ea"/>
<circle cx="718.8" cy="594.5" r="2.9" fill="#0000ff"/>
<circle cx="748.2" cy="599.5" r="2.9" fill="#0000ff"/>
<circle cx="765" cy="596.5" r="2.9" fill="#0000ff"/>
<circle cx="775.8" cy="569.2" r="2.9" fill="#8a66ef"/>
<g fill="#000">
<rect x="94" y="51" width="3" height="1070"/>
<rect x="94" y="1118" width="1010" height="3"/>
<rect x="139.70" y="1120" width="3" height="4.7"/>
<rect x="303.10" y="1120" width="3" height="4.7"/>
<rect x="466.50" y="1120" width="3" height="4.7"/>
<rect x="629.90" y="1120" width="3" height="4.7"/>
<rect x="793.30" y="1120" width="3" height="4.7"/>
<rect x="956.70" y="1120" width="3" height="4.7"/>
<rect x="90.2" y="275.95" width="4.5" height="3"/>
<rect x="90.2" y="569.95" width="4.5" height="3"/>
<rect x="90.2" y="863.95" width="4.5" height="3"/>
</g>
<text transform="translate(141.20,1147.6) scale(1,1.045)" font-size="30.0" text-anchor="middle">-15</text>
<text transform="translate(304.60,1147.6) scale(1,1.045)" font-size="30.0" text-anchor="middle">-10</text>
<text transform="translate(468.00,1147.6) scale(1,1.045)" font-size="30.0" text-anchor="middle">-5</text>
<text transform="translate(631.40,1147.6) scale(1,1.045)" font-size="30.0" text-anchor="middle">0</text>
<text transform="translate(794.80,1147.6) scale(1,1.045)" font-size="30.0" text-anchor="middle">5</text>
<text transform="translate(958.20,1147.6) scale(1,1.045)" font-size="30.0" text-anchor="middle">10</text>
<text transform="translate(88.4,287.85) scale(1,1.045)" font-size="30.0" text-anchor="end">10</text>
<text transform="translate(88.4,581.85) scale(1,1.045)" font-size="30.0" text-anchor="end">0</text>
<text transform="translate(88.4,875.85) scale(1,1.045)" font-size="30.0" text-anchor="end">-10</text>
<text transform="translate(596.7,1180.7) scale(1,1.045)" font-size="29.6" text-anchor="middle">umapNC_1</text>
<text transform="translate(33.7,585.65) rotate(-90) scale(1,1.045)" font-size="30.3" text-anchor="middle">umapNC_2</text>
<text transform="translate(599.4,36.75) scale(1,1.027)" font-size="33.9" font-weight="bold" text-anchor="middle">Gm1604a</text>
<rect x="1116.2" y="547.8" width="15.4" height="76.2" fill="url(#lg)"/>
<g stroke="#fff" stroke-width="1" stroke-opacity="0.85">
<line x1="1116.2" y1="606.58" x2="1119.3" y2="606.58"/><line x1="1128.5" y1="606.58" x2="1131.6" y2="606.58"/>
<line x1="1116.2" y1="589.15" x2="1119.3" y2="589.15"/><line x1="1128.5" y1="589.15" x2="1131.6" y2="589.15"/>
<line x1="1116.2" y1="571.72" x2="1119.3" y2="571.72"/><line x1="1128.5" y1="571.72" x2="1131.6" y2="571.72"/>
<line x1="1116.2" y1="554.30" x2="1119.3" y2="554.30"/><line x1="1128.5" y1="554.30" x2="1131.6" y2="554.30"/>
</g>
<text transform="translate(1139.6,633.50) scale(1,1.045)" font-size="24.6">0.00</text>
<text transform="translate(1139.6,616.08) scale(1,1.045)" font-size="24.6">0.25</text>
<text transform="translate(1139.6,598.65) scale(1,1.045)" font-size="24.6">0.50</text>
<text transform="translate(1139.6,581.22) scale(1,1.045)" font-size="24.6">0.75</text>
<text transform="translate(1139.6,563.80) scale(1,1.045)" font-size="24.6">1.00</text>
</svg>
</body></html>
